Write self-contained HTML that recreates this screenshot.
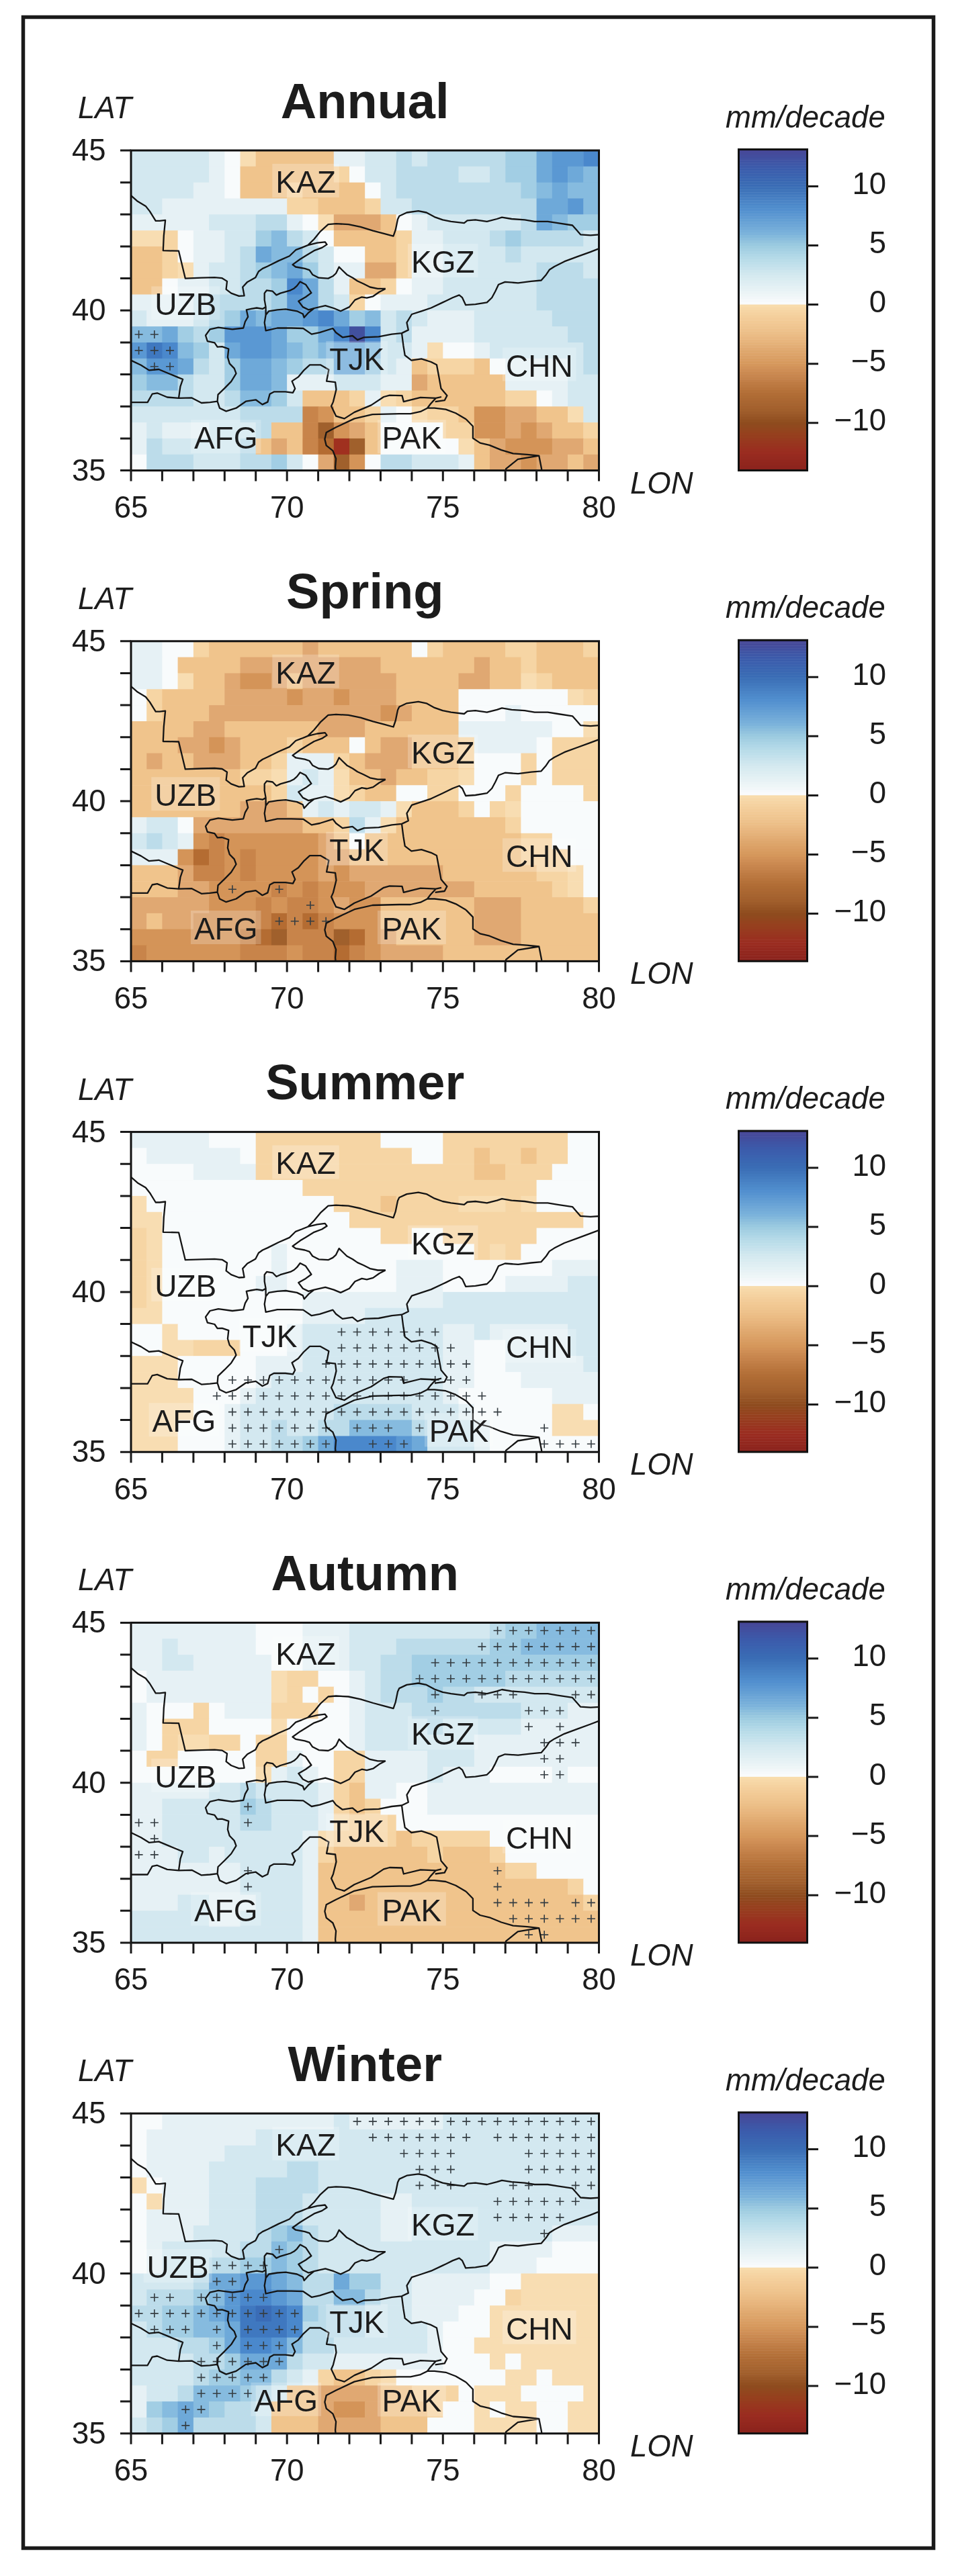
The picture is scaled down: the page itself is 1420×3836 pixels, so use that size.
<!DOCTYPE html><html><head><meta charset="utf-8"><style>
html,body{margin:0;padding:0;background:#fff;width:1420px;height:3836px;overflow:hidden}
svg{position:absolute;left:0;top:0;filter:blur(0.5px)}
text{font-family:"Liberation Sans",sans-serif;fill:#1c1c1c}
</style></head><body>
<svg width="1420" height="3836" viewBox="0 0 1420 3836">
<rect x="34.5" y="25.5" width="1355" height="3769" fill="none" stroke="#1a1a1a" stroke-width="5.5"/>
<defs><clipPath id="mc"><rect x="0" y="0" width="696.5" height="476.6"/></clipPath>
<g id="bd"><path d="M0.0,67.2 L9.8,75.8 L21.8,82.9 L27.9,90.6 L36.7,104.9 L42.7,104.9 L51.1,103.9 L48.8,127.3 L47.8,149.2 L71.0,149.7 L80.8,190.6 L104.9,189.7 L124.4,189.2 L135.6,190.2 L143.0,194.9 L141.6,206.8 L149.1,212.6 L160.7,216.9 L168.6,216.4 L166.2,203.5 L173.2,195.9 L185.3,189.2 L189.9,180.2 L195.9,175.9 L203.4,172.5 L219.6,164.4 L235.9,157.3 L245.2,148.2 L254.0,144.9 L263.3,141.1 L272.6,132.0 L281.9,120.6 L293.5,110.1 L305.1,109.1 L323.6,110.1 L341.7,113.9 L360.3,119.6 L376.6,123.9 L390.5,127.7 L393.8,118.2 L397.0,102.5 L399.3,97.7 L410.5,92.5 L427.7,90.1 L439.7,92.5 L451.8,99.1 L463.9,103.4 L476.4,105.8 L495.9,108.2 L500.6,104.4 L512.6,103.4 L529.8,105.8 L544.7,102.0 L552.1,99.6 L566.5,102.0 L586.0,103.4 L600.8,105.8 L620.3,105.8 L635.2,108.2 L657.0,111.5 L661.7,116.8 L669.1,125.3 L684.0,126.3 L698.8,125.3 M263.3,141.1 L277.2,137.7 L288.8,136.3 L291.6,140.1 L284.2,144.9 L272.6,149.2 L261.0,156.3 L251.7,162.0 L240.5,170.1 L245.2,173.5 L258.6,175.9 L265.6,178.2 L270.2,184.9 L279.5,189.7 L293.5,190.6 L300.4,187.3 L305.1,183.0 L309.7,173.5 L314.4,178.2 L321.3,184.9 L330.1,189.7 L337.1,194.5 L346.4,198.7 L355.7,203.5 L367.3,205.9 L378.9,205.9 M128.6,373.7 L129.5,363.6 L139.3,354.1 L149.1,344.1 L156.5,332.2 L153.7,324.6 L146.7,317.4 L143.9,307.9 L145.3,295.5 L135.6,292.2 L128.6,292.6 L124.4,286.4 L113.8,284.1 L111.0,275.5 L117.5,266.4 L130.0,263.6 L150.9,266.4 L167.2,264.5 L169.9,255.0 L174.1,247.8 L171.8,237.3 L178.8,235.9 L187.1,234.5 L195.9,235.9 L200.6,233.1 L198.7,222.6 L198.7,212.6 L202.0,208.3 L210.8,209.7 L216.4,215.4 L222.4,212.6 L237.3,208.3 L242.8,205.4 L247.0,201.6 L251.7,195.4 L260.0,199.7 L268.4,212.1 L260.0,218.3 L249.3,224.5 L255.8,233.1 L264.2,237.3 L272.6,235.0 L289.3,231.2 L301.8,235.0 L312.0,239.3 L325.0,233.1 L333.4,222.6 L343.6,218.3 L351.0,219.7 L360.3,217.3 L369.6,210.7 L378.9,205.9 M200.6,233.1 L200.6,245.0 L205.2,239.3 L217.8,237.3 L230.3,236.4 L247.0,239.3 L255.8,243.5 L257.7,248.8 L264.2,241.6 L272.6,235.0 M200.6,245.0 L198.7,256.4 L200.6,268.3 L217.8,264.5 L238.7,264.5 L256.3,265.0 L268.8,273.6 L280.9,271.2 L300.4,265.0 L305.1,271.2 L314.8,278.3 L329.7,276.0 L337.1,282.1 L346.9,278.3 L368.7,277.4 L388.2,273.6 L403.0,272.1 L412.8,267.4 L410.5,256.4 L417.9,244.0 L432.3,239.3 L446.7,234.5 L463.9,226.4 L469.0,224.0 L478.7,219.2 L488.5,215.4 L493.1,219.2 L498.2,230.2 L512.6,229.2 L529.8,226.4 L537.2,219.2 L542.3,209.7 L547.0,199.7 L556.7,195.9 L576.2,197.3 L595.7,194.9 L610.6,193.5 L618.0,184.9 L622.7,177.8 L630.1,173.0 L645.0,165.4 L664.5,158.2 L684.0,151.1 L698.8,145.4 M403.0,272.1 L405.4,290.7 L407.7,305.0 L417.4,312.6 L432.3,310.3 L446.7,315.0 L455.0,319.3 L458.3,337.0 L461.5,354.6 L470.4,365.1 L466.7,372.2 L452.7,374.1 M-4.6,375.1 L24.6,375.1 L31.6,362.7 L39.0,361.3 L53.9,367.5 L71.0,368.9 L90.5,368.4 L104.9,376.0 L117.5,375.1 L128.6,373.7 L131.9,383.7 L141.6,388.4 L156.5,383.7 L170.9,373.7 L185.7,371.3 L195.5,378.4 L203.4,374.6 L206.6,362.7 L212.7,359.4 L229.8,359.4 L241.0,360.8 L244.2,354.6 L239.6,343.6 L248.9,337.4 L256.8,327.9 L266.1,319.3 L281.9,319.3 L294.4,326.5 L291.1,343.6 L304.1,345.1 L305.5,356.0 L300.9,374.6 L298.1,380.8 L305.1,395.6 L317.6,399.4 L332.5,389.9 L357.5,379.4 L376.1,367.0 L384.9,364.6 L403.5,365.1 L405.8,374.1 L430.9,367.9 L453.7,368.9 L462.0,367.0 M-4.6,310.7 L0.0,312.6 L14.9,319.8 L26.9,327.4 L41.3,326.0 L56.2,332.2 L71.0,338.4 L77.1,340.8 L73.4,351.7 L71.0,368.9 M305.1,481.4 L304.1,471.4 L305.1,459.0 L300.4,447.1 L290.7,439.4 L288.4,429.9 L290.7,419.9 L305.1,412.3 L332.5,399.4 L359.4,393.2 L399.3,392.2 L416.0,392.2 L430.9,388.9 L441.1,383.7 L451.8,383.7 L468.5,385.6 L483.4,391.3 L498.7,400.3 M453.7,368.9 L445.8,377.5 L441.1,383.7 M498.7,400.3 L508.9,410.8 L508.9,428.5 L519.6,435.6 L533.5,438.9 L551.2,446.1 L568.8,451.3 L589.7,452.8 L607.3,454.7 L611.1,474.2 L611.5,481.4 M557.2,479.0 L558.1,474.2 L575.8,459.9 L607.3,454.7" fill="none" stroke="#141414" stroke-width="2.3" stroke-linejoin="round"/></g></defs>
<text x="543.2" y="175.5" font-size="74" font-weight="bold" text-anchor="middle">Annual</text>
<text x="116" y="176.0" font-size="45.5" font-style="italic">LAT</text>
<text x="938" y="734.5" font-size="45.5" font-style="italic">LON</text>
<text x="1080" y="189.5" font-size="45.5" font-style="italic">mm/decade</text>
<g transform="translate(195.00,224.00)" clip-path="url(#mc)">
<rect x="0.0" y="0.0" width="116.7" height="24.4" fill="#d3e8f0"/>
<rect x="116.1" y="0.0" width="23.8" height="24.4" fill="#e6f1f5"/>
<rect x="139.3" y="0.0" width="23.8" height="24.4" fill="#f8fbfc"/>
<rect x="162.5" y="0.0" width="23.8" height="24.4" fill="#f8ddb2"/>
<rect x="185.7" y="0.0" width="116.7" height="24.4" fill="#f0c48c"/>
<rect x="301.8" y="0.0" width="47.0" height="24.4" fill="#e6f1f5"/>
<rect x="348.2" y="0.0" width="47.0" height="24.4" fill="#d3e8f0"/>
<rect x="394.7" y="0.0" width="23.8" height="24.4" fill="#bcdcea"/>
<rect x="417.9" y="0.0" width="23.8" height="24.4" fill="#d3e8f0"/>
<rect x="441.1" y="0.0" width="116.7" height="24.4" fill="#bcdcea"/>
<rect x="557.2" y="0.0" width="47.0" height="24.4" fill="#a2cee4"/>
<rect x="603.6" y="0.0" width="23.8" height="24.4" fill="#6ea9d9"/>
<rect x="626.8" y="0.0" width="47.0" height="24.4" fill="#5a98d3"/>
<rect x="673.3" y="0.0" width="23.8" height="24.4" fill="#4a88cc"/>
<rect x="0.0" y="23.8" width="116.7" height="24.4" fill="#d3e8f0"/>
<rect x="116.1" y="23.8" width="23.8" height="24.4" fill="#e6f1f5"/>
<rect x="139.3" y="23.8" width="23.8" height="24.4" fill="#f8fbfc"/>
<rect x="162.5" y="23.8" width="139.9" height="24.4" fill="#f0c48c"/>
<rect x="301.8" y="23.8" width="23.8" height="24.4" fill="#f6d5a4"/>
<rect x="325.0" y="23.8" width="23.8" height="24.4" fill="#f8fbfc"/>
<rect x="348.2" y="23.8" width="47.0" height="24.4" fill="#d3e8f0"/>
<rect x="394.7" y="23.8" width="93.5" height="24.4" fill="#bcdcea"/>
<rect x="487.5" y="23.8" width="47.0" height="24.4" fill="#d3e8f0"/>
<rect x="534.0" y="23.8" width="23.8" height="24.4" fill="#bcdcea"/>
<rect x="557.2" y="23.8" width="47.0" height="24.4" fill="#a2cee4"/>
<rect x="603.6" y="23.8" width="23.8" height="24.4" fill="#6ea9d9"/>
<rect x="626.8" y="23.8" width="23.8" height="24.4" fill="#5a98d3"/>
<rect x="650.1" y="23.8" width="23.8" height="24.4" fill="#6ea9d9"/>
<rect x="673.3" y="23.8" width="23.8" height="24.4" fill="#86bbdf"/>
<rect x="0.0" y="47.7" width="93.5" height="24.4" fill="#d3e8f0"/>
<rect x="92.9" y="47.7" width="47.0" height="24.4" fill="#e6f1f5"/>
<rect x="139.3" y="47.7" width="23.8" height="24.4" fill="#f8fbfc"/>
<rect x="162.5" y="47.7" width="70.2" height="24.4" fill="#f0c48c"/>
<rect x="232.2" y="47.7" width="23.8" height="24.4" fill="#f6d5a4"/>
<rect x="255.4" y="47.7" width="93.5" height="24.4" fill="#f0c48c"/>
<rect x="348.2" y="47.7" width="23.8" height="24.4" fill="#f8fbfc"/>
<rect x="371.5" y="47.7" width="23.8" height="24.4" fill="#d3e8f0"/>
<rect x="394.7" y="47.7" width="186.3" height="24.4" fill="#bcdcea"/>
<rect x="580.4" y="47.7" width="23.8" height="24.4" fill="#a2cee4"/>
<rect x="603.6" y="47.7" width="23.8" height="24.4" fill="#86bbdf"/>
<rect x="626.8" y="47.7" width="23.8" height="24.4" fill="#6ea9d9"/>
<rect x="650.1" y="47.7" width="47.0" height="24.4" fill="#86bbdf"/>
<rect x="0.0" y="71.5" width="47.0" height="24.4" fill="#d3e8f0"/>
<rect x="46.4" y="71.5" width="186.3" height="24.4" fill="#e6f1f5"/>
<rect x="232.2" y="71.5" width="47.0" height="24.4" fill="#f6d5a4"/>
<rect x="278.6" y="71.5" width="70.2" height="24.4" fill="#f0c48c"/>
<rect x="348.2" y="71.5" width="23.8" height="24.4" fill="#f6d5a4"/>
<rect x="371.5" y="71.5" width="47.0" height="24.4" fill="#d3e8f0"/>
<rect x="417.9" y="71.5" width="186.3" height="24.4" fill="#bcdcea"/>
<rect x="603.6" y="71.5" width="47.0" height="24.4" fill="#6ea9d9"/>
<rect x="650.1" y="71.5" width="23.8" height="24.4" fill="#5a98d3"/>
<rect x="673.3" y="71.5" width="23.8" height="24.4" fill="#86bbdf"/>
<rect x="0.0" y="95.3" width="116.7" height="24.4" fill="#e6f1f5"/>
<rect x="116.1" y="95.3" width="70.2" height="24.4" fill="#d3e8f0"/>
<rect x="185.7" y="95.3" width="47.0" height="24.4" fill="#bcdcea"/>
<rect x="232.2" y="95.3" width="23.8" height="24.4" fill="#e6f1f5"/>
<rect x="255.4" y="95.3" width="23.8" height="24.4" fill="#f8fbfc"/>
<rect x="278.6" y="95.3" width="23.8" height="24.4" fill="#f8ddb2"/>
<rect x="301.8" y="95.3" width="70.2" height="24.4" fill="#e0a872"/>
<rect x="371.5" y="95.3" width="23.8" height="24.4" fill="#f0c48c"/>
<rect x="394.7" y="95.3" width="23.8" height="24.4" fill="#f8fbfc"/>
<rect x="417.9" y="95.3" width="23.8" height="24.4" fill="#e6f1f5"/>
<rect x="441.1" y="95.3" width="139.9" height="24.4" fill="#d3e8f0"/>
<rect x="580.4" y="95.3" width="23.8" height="24.4" fill="#bcdcea"/>
<rect x="603.6" y="95.3" width="23.8" height="24.4" fill="#6ea9d9"/>
<rect x="626.8" y="95.3" width="23.8" height="24.4" fill="#86bbdf"/>
<rect x="650.1" y="95.3" width="47.0" height="24.4" fill="#a2cee4"/>
<rect x="0.0" y="119.2" width="47.0" height="24.4" fill="#f8ddb2"/>
<rect x="46.4" y="119.2" width="23.8" height="24.4" fill="#f6d5a4"/>
<rect x="69.6" y="119.2" width="23.8" height="24.4" fill="#f8fbfc"/>
<rect x="92.9" y="119.2" width="47.0" height="24.4" fill="#e6f1f5"/>
<rect x="139.3" y="119.2" width="47.0" height="24.4" fill="#d3e8f0"/>
<rect x="185.7" y="119.2" width="23.8" height="24.4" fill="#a2cee4"/>
<rect x="208.9" y="119.2" width="23.8" height="24.4" fill="#86bbdf"/>
<rect x="232.2" y="119.2" width="23.8" height="24.4" fill="#bcdcea"/>
<rect x="255.4" y="119.2" width="23.8" height="24.4" fill="#d3e8f0"/>
<rect x="278.6" y="119.2" width="23.8" height="24.4" fill="#f8fbfc"/>
<rect x="301.8" y="119.2" width="93.5" height="24.4" fill="#f0c48c"/>
<rect x="394.7" y="119.2" width="23.8" height="24.4" fill="#f6d5a4"/>
<rect x="417.9" y="119.2" width="47.0" height="24.4" fill="#e6f1f5"/>
<rect x="464.3" y="119.2" width="70.2" height="24.4" fill="#d3e8f0"/>
<rect x="534.0" y="119.2" width="23.8" height="24.4" fill="#bcdcea"/>
<rect x="557.2" y="119.2" width="23.8" height="24.4" fill="#a2cee4"/>
<rect x="580.4" y="119.2" width="93.5" height="24.4" fill="#bcdcea"/>
<rect x="673.3" y="119.2" width="23.8" height="24.4" fill="#d3e8f0"/>
<rect x="0.0" y="143.0" width="47.0" height="24.4" fill="#f0c48c"/>
<rect x="46.4" y="143.0" width="23.8" height="24.4" fill="#f6d5a4"/>
<rect x="69.6" y="143.0" width="23.8" height="24.4" fill="#f8fbfc"/>
<rect x="92.9" y="143.0" width="47.0" height="24.4" fill="#e6f1f5"/>
<rect x="139.3" y="143.0" width="23.8" height="24.4" fill="#d3e8f0"/>
<rect x="162.5" y="143.0" width="23.8" height="24.4" fill="#bcdcea"/>
<rect x="185.7" y="143.0" width="23.8" height="24.4" fill="#6ea9d9"/>
<rect x="208.9" y="143.0" width="47.0" height="24.4" fill="#86bbdf"/>
<rect x="255.4" y="143.0" width="23.8" height="24.4" fill="#bcdcea"/>
<rect x="278.6" y="143.0" width="23.8" height="24.4" fill="#d3e8f0"/>
<rect x="301.8" y="143.0" width="47.0" height="24.4" fill="#f8fbfc"/>
<rect x="348.2" y="143.0" width="47.0" height="24.4" fill="#f0c48c"/>
<rect x="394.7" y="143.0" width="23.8" height="24.4" fill="#f6d5a4"/>
<rect x="417.9" y="143.0" width="47.0" height="24.4" fill="#e6f1f5"/>
<rect x="464.3" y="143.0" width="93.5" height="24.4" fill="#d3e8f0"/>
<rect x="557.2" y="143.0" width="23.8" height="24.4" fill="#bcdcea"/>
<rect x="580.4" y="143.0" width="116.7" height="24.4" fill="#d3e8f0"/>
<rect x="0.0" y="166.8" width="47.0" height="24.4" fill="#f0c48c"/>
<rect x="46.4" y="166.8" width="23.8" height="24.4" fill="#f6d5a4"/>
<rect x="69.6" y="166.8" width="23.8" height="24.4" fill="#f8ddb2"/>
<rect x="92.9" y="166.8" width="23.8" height="24.4" fill="#e6f1f5"/>
<rect x="116.1" y="166.8" width="47.0" height="24.4" fill="#d3e8f0"/>
<rect x="162.5" y="166.8" width="23.8" height="24.4" fill="#bcdcea"/>
<rect x="185.7" y="166.8" width="23.8" height="24.4" fill="#a2cee4"/>
<rect x="208.9" y="166.8" width="23.8" height="24.4" fill="#86bbdf"/>
<rect x="232.2" y="166.8" width="23.8" height="24.4" fill="#6ea9d9"/>
<rect x="255.4" y="166.8" width="23.8" height="24.4" fill="#a2cee4"/>
<rect x="278.6" y="166.8" width="23.8" height="24.4" fill="#d3e8f0"/>
<rect x="301.8" y="166.8" width="47.0" height="24.4" fill="#e6f1f5"/>
<rect x="348.2" y="166.8" width="47.0" height="24.4" fill="#e0a872"/>
<rect x="394.7" y="166.8" width="23.8" height="24.4" fill="#f6d5a4"/>
<rect x="417.9" y="166.8" width="47.0" height="24.4" fill="#e6f1f5"/>
<rect x="464.3" y="166.8" width="139.9" height="24.4" fill="#d3e8f0"/>
<rect x="603.6" y="166.8" width="70.2" height="24.4" fill="#bcdcea"/>
<rect x="673.3" y="166.8" width="23.8" height="24.4" fill="#d3e8f0"/>
<rect x="0.0" y="190.6" width="47.0" height="24.4" fill="#f0c48c"/>
<rect x="46.4" y="190.6" width="23.8" height="24.4" fill="#f8fbfc"/>
<rect x="69.6" y="190.6" width="47.0" height="24.4" fill="#e6f1f5"/>
<rect x="116.1" y="190.6" width="47.0" height="24.4" fill="#d3e8f0"/>
<rect x="162.5" y="190.6" width="47.0" height="24.4" fill="#bcdcea"/>
<rect x="208.9" y="190.6" width="23.8" height="24.4" fill="#a2cee4"/>
<rect x="232.2" y="190.6" width="23.8" height="24.4" fill="#4a88cc"/>
<rect x="255.4" y="190.6" width="23.8" height="24.4" fill="#6ea9d9"/>
<rect x="278.6" y="190.6" width="23.8" height="24.4" fill="#bcdcea"/>
<rect x="301.8" y="190.6" width="23.8" height="24.4" fill="#e6f1f5"/>
<rect x="325.0" y="190.6" width="47.0" height="24.4" fill="#f0c48c"/>
<rect x="371.5" y="190.6" width="23.8" height="24.4" fill="#f6d5a4"/>
<rect x="394.7" y="190.6" width="23.8" height="24.4" fill="#f8fbfc"/>
<rect x="417.9" y="190.6" width="47.0" height="24.4" fill="#e6f1f5"/>
<rect x="464.3" y="190.6" width="139.9" height="24.4" fill="#d3e8f0"/>
<rect x="603.6" y="190.6" width="93.5" height="24.4" fill="#bcdcea"/>
<rect x="0.0" y="214.5" width="93.5" height="24.4" fill="#e6f1f5"/>
<rect x="92.9" y="214.5" width="23.8" height="24.4" fill="#d3e8f0"/>
<rect x="116.1" y="214.5" width="93.5" height="24.4" fill="#bcdcea"/>
<rect x="208.9" y="214.5" width="23.8" height="24.4" fill="#a2cee4"/>
<rect x="232.2" y="214.5" width="23.8" height="24.4" fill="#5a98d3"/>
<rect x="255.4" y="214.5" width="23.8" height="24.4" fill="#6ea9d9"/>
<rect x="278.6" y="214.5" width="23.8" height="24.4" fill="#bcdcea"/>
<rect x="301.8" y="214.5" width="23.8" height="24.4" fill="#d3e8f0"/>
<rect x="325.0" y="214.5" width="23.8" height="24.4" fill="#f6d5a4"/>
<rect x="348.2" y="214.5" width="23.8" height="24.4" fill="#f8fbfc"/>
<rect x="371.5" y="214.5" width="70.2" height="24.4" fill="#e6f1f5"/>
<rect x="441.1" y="214.5" width="163.1" height="24.4" fill="#d3e8f0"/>
<rect x="603.6" y="214.5" width="93.5" height="24.4" fill="#bcdcea"/>
<rect x="0.0" y="238.3" width="23.8" height="24.4" fill="#d3e8f0"/>
<rect x="23.2" y="238.3" width="70.2" height="24.4" fill="#e6f1f5"/>
<rect x="92.9" y="238.3" width="23.8" height="24.4" fill="#d3e8f0"/>
<rect x="116.1" y="238.3" width="23.8" height="24.4" fill="#bcdcea"/>
<rect x="139.3" y="238.3" width="23.8" height="24.4" fill="#a2cee4"/>
<rect x="162.5" y="238.3" width="23.8" height="24.4" fill="#6ea9d9"/>
<rect x="185.7" y="238.3" width="23.8" height="24.4" fill="#86bbdf"/>
<rect x="208.9" y="238.3" width="47.0" height="24.4" fill="#6ea9d9"/>
<rect x="255.4" y="238.3" width="23.8" height="24.4" fill="#5a98d3"/>
<rect x="278.6" y="238.3" width="23.8" height="24.4" fill="#4a88cc"/>
<rect x="301.8" y="238.3" width="23.8" height="24.4" fill="#6ea9d9"/>
<rect x="325.0" y="238.3" width="23.8" height="24.4" fill="#a2cee4"/>
<rect x="348.2" y="238.3" width="23.8" height="24.4" fill="#86bbdf"/>
<rect x="371.5" y="238.3" width="23.8" height="24.4" fill="#d3e8f0"/>
<rect x="394.7" y="238.3" width="23.8" height="24.4" fill="#bcdcea"/>
<rect x="417.9" y="238.3" width="23.8" height="24.4" fill="#d3e8f0"/>
<rect x="441.1" y="238.3" width="70.2" height="24.4" fill="#e6f1f5"/>
<rect x="510.8" y="238.3" width="116.7" height="24.4" fill="#d3e8f0"/>
<rect x="626.8" y="238.3" width="70.2" height="24.4" fill="#bcdcea"/>
<rect x="0.0" y="262.1" width="47.0" height="24.4" fill="#86bbdf"/>
<rect x="46.4" y="262.1" width="23.8" height="24.4" fill="#6ea9d9"/>
<rect x="69.6" y="262.1" width="23.8" height="24.4" fill="#a2cee4"/>
<rect x="92.9" y="262.1" width="23.8" height="24.4" fill="#bcdcea"/>
<rect x="116.1" y="262.1" width="23.8" height="24.4" fill="#a2cee4"/>
<rect x="139.3" y="262.1" width="70.2" height="24.4" fill="#5a98d3"/>
<rect x="208.9" y="262.1" width="23.8" height="24.4" fill="#6ea9d9"/>
<rect x="232.2" y="262.1" width="47.0" height="24.4" fill="#a2cee4"/>
<rect x="278.6" y="262.1" width="23.8" height="24.4" fill="#6ea9d9"/>
<rect x="301.8" y="262.1" width="23.8" height="24.4" fill="#4a88cc"/>
<rect x="325.0" y="262.1" width="23.8" height="24.4" fill="#41509e"/>
<rect x="348.2" y="262.1" width="23.8" height="24.4" fill="#4a88cc"/>
<rect x="371.5" y="262.1" width="23.8" height="24.4" fill="#d3e8f0"/>
<rect x="394.7" y="262.1" width="23.8" height="24.4" fill="#bcdcea"/>
<rect x="417.9" y="262.1" width="93.5" height="24.4" fill="#e6f1f5"/>
<rect x="510.8" y="262.1" width="139.9" height="24.4" fill="#d3e8f0"/>
<rect x="650.1" y="262.1" width="47.0" height="24.4" fill="#bcdcea"/>
<rect x="0.0" y="286.0" width="23.8" height="24.4" fill="#5a98d3"/>
<rect x="23.2" y="286.0" width="23.8" height="24.4" fill="#3f78c0"/>
<rect x="46.4" y="286.0" width="23.8" height="24.4" fill="#4a88cc"/>
<rect x="69.6" y="286.0" width="23.8" height="24.4" fill="#86bbdf"/>
<rect x="92.9" y="286.0" width="23.8" height="24.4" fill="#a2cee4"/>
<rect x="116.1" y="286.0" width="23.8" height="24.4" fill="#d3e8f0"/>
<rect x="139.3" y="286.0" width="23.8" height="24.4" fill="#6ea9d9"/>
<rect x="162.5" y="286.0" width="47.0" height="24.4" fill="#5a98d3"/>
<rect x="208.9" y="286.0" width="23.8" height="24.4" fill="#6ea9d9"/>
<rect x="232.2" y="286.0" width="23.8" height="24.4" fill="#86bbdf"/>
<rect x="255.4" y="286.0" width="23.8" height="24.4" fill="#a2cee4"/>
<rect x="278.6" y="286.0" width="23.8" height="24.4" fill="#86bbdf"/>
<rect x="301.8" y="286.0" width="47.0" height="24.4" fill="#6ea9d9"/>
<rect x="348.2" y="286.0" width="23.8" height="24.4" fill="#86bbdf"/>
<rect x="371.5" y="286.0" width="47.0" height="24.4" fill="#d3e8f0"/>
<rect x="417.9" y="286.0" width="23.8" height="24.4" fill="#e6f1f5"/>
<rect x="441.1" y="286.0" width="23.8" height="24.4" fill="#f8ddb2"/>
<rect x="464.3" y="286.0" width="47.0" height="24.4" fill="#f8fbfc"/>
<rect x="510.8" y="286.0" width="23.8" height="24.4" fill="#e6f1f5"/>
<rect x="534.0" y="286.0" width="139.9" height="24.4" fill="#d3e8f0"/>
<rect x="673.3" y="286.0" width="23.8" height="24.4" fill="#bcdcea"/>
<rect x="0.0" y="309.8" width="23.8" height="24.4" fill="#86bbdf"/>
<rect x="23.2" y="309.8" width="47.0" height="24.4" fill="#5a98d3"/>
<rect x="69.6" y="309.8" width="23.8" height="24.4" fill="#6ea9d9"/>
<rect x="92.9" y="309.8" width="23.8" height="24.4" fill="#bcdcea"/>
<rect x="116.1" y="309.8" width="23.8" height="24.4" fill="#d3e8f0"/>
<rect x="139.3" y="309.8" width="23.8" height="24.4" fill="#a2cee4"/>
<rect x="162.5" y="309.8" width="47.0" height="24.4" fill="#6ea9d9"/>
<rect x="208.9" y="309.8" width="23.8" height="24.4" fill="#86bbdf"/>
<rect x="232.2" y="309.8" width="23.8" height="24.4" fill="#a2cee4"/>
<rect x="255.4" y="309.8" width="47.0" height="24.4" fill="#bcdcea"/>
<rect x="301.8" y="309.8" width="47.0" height="24.4" fill="#6ea9d9"/>
<rect x="348.2" y="309.8" width="23.8" height="24.4" fill="#a2cee4"/>
<rect x="371.5" y="309.8" width="23.8" height="24.4" fill="#d3e8f0"/>
<rect x="394.7" y="309.8" width="23.8" height="24.4" fill="#e6f1f5"/>
<rect x="417.9" y="309.8" width="23.8" height="24.4" fill="#f0c48c"/>
<rect x="441.1" y="309.8" width="70.2" height="24.4" fill="#f6d5a4"/>
<rect x="510.8" y="309.8" width="23.8" height="24.4" fill="#f0c48c"/>
<rect x="534.0" y="309.8" width="23.8" height="24.4" fill="#f8fbfc"/>
<rect x="557.2" y="309.8" width="93.5" height="24.4" fill="#e6f1f5"/>
<rect x="650.1" y="309.8" width="23.8" height="24.4" fill="#d3e8f0"/>
<rect x="673.3" y="309.8" width="23.8" height="24.4" fill="#bcdcea"/>
<rect x="0.0" y="333.6" width="23.8" height="24.4" fill="#a2cee4"/>
<rect x="23.2" y="333.6" width="47.0" height="24.4" fill="#86bbdf"/>
<rect x="69.6" y="333.6" width="23.8" height="24.4" fill="#bcdcea"/>
<rect x="92.9" y="333.6" width="47.0" height="24.4" fill="#d3e8f0"/>
<rect x="139.3" y="333.6" width="23.8" height="24.4" fill="#a2cee4"/>
<rect x="162.5" y="333.6" width="47.0" height="24.4" fill="#6ea9d9"/>
<rect x="208.9" y="333.6" width="23.8" height="24.4" fill="#86bbdf"/>
<rect x="232.2" y="333.6" width="70.2" height="24.4" fill="#e6f1f5"/>
<rect x="301.8" y="333.6" width="70.2" height="24.4" fill="#d3e8f0"/>
<rect x="371.5" y="333.6" width="47.0" height="24.4" fill="#e6f1f5"/>
<rect x="417.9" y="333.6" width="23.8" height="24.4" fill="#e0a872"/>
<rect x="441.1" y="333.6" width="116.7" height="24.4" fill="#f0c48c"/>
<rect x="557.2" y="333.6" width="93.5" height="24.4" fill="#e6f1f5"/>
<rect x="650.1" y="333.6" width="47.0" height="24.4" fill="#d3e8f0"/>
<rect x="0.0" y="357.5" width="93.5" height="24.4" fill="#bcdcea"/>
<rect x="92.9" y="357.5" width="47.0" height="24.4" fill="#d3e8f0"/>
<rect x="139.3" y="357.5" width="23.8" height="24.4" fill="#bcdcea"/>
<rect x="162.5" y="357.5" width="47.0" height="24.4" fill="#86bbdf"/>
<rect x="208.9" y="357.5" width="23.8" height="24.4" fill="#a2cee4"/>
<rect x="232.2" y="357.5" width="23.8" height="24.4" fill="#d3e8f0"/>
<rect x="255.4" y="357.5" width="70.2" height="24.4" fill="#f0c48c"/>
<rect x="325.0" y="357.5" width="23.8" height="24.4" fill="#f6d5a4"/>
<rect x="348.2" y="357.5" width="23.8" height="24.4" fill="#e6f1f5"/>
<rect x="371.5" y="357.5" width="23.8" height="24.4" fill="#f8ddb2"/>
<rect x="394.7" y="357.5" width="23.8" height="24.4" fill="#f6d5a4"/>
<rect x="417.9" y="357.5" width="139.9" height="24.4" fill="#f0c48c"/>
<rect x="557.2" y="357.5" width="47.0" height="24.4" fill="#f6d5a4"/>
<rect x="603.6" y="357.5" width="23.8" height="24.4" fill="#f8fbfc"/>
<rect x="626.8" y="357.5" width="23.8" height="24.4" fill="#e6f1f5"/>
<rect x="650.1" y="357.5" width="47.0" height="24.4" fill="#d3e8f0"/>
<rect x="0.0" y="381.3" width="163.1" height="24.4" fill="#d3e8f0"/>
<rect x="162.5" y="381.3" width="93.5" height="24.4" fill="#bcdcea"/>
<rect x="255.4" y="381.3" width="23.8" height="24.4" fill="#c8844a"/>
<rect x="278.6" y="381.3" width="23.8" height="24.4" fill="#d49458"/>
<rect x="301.8" y="381.3" width="47.0" height="24.4" fill="#f0c48c"/>
<rect x="348.2" y="381.3" width="23.8" height="24.4" fill="#f6d5a4"/>
<rect x="371.5" y="381.3" width="23.8" height="24.4" fill="#e6f1f5"/>
<rect x="394.7" y="381.3" width="23.8" height="24.4" fill="#f8fbfc"/>
<rect x="417.9" y="381.3" width="23.8" height="24.4" fill="#f8ddb2"/>
<rect x="441.1" y="381.3" width="47.0" height="24.4" fill="#f6d5a4"/>
<rect x="487.5" y="381.3" width="23.8" height="24.4" fill="#f0c48c"/>
<rect x="510.8" y="381.3" width="47.0" height="24.4" fill="#d49458"/>
<rect x="557.2" y="381.3" width="47.0" height="24.4" fill="#e0a872"/>
<rect x="603.6" y="381.3" width="47.0" height="24.4" fill="#f0c48c"/>
<rect x="650.1" y="381.3" width="23.8" height="24.4" fill="#f8ddb2"/>
<rect x="673.3" y="381.3" width="23.8" height="24.4" fill="#d3e8f0"/>
<rect x="0.0" y="405.1" width="23.8" height="24.4" fill="#e6f1f5"/>
<rect x="23.2" y="405.1" width="23.8" height="24.4" fill="#d3e8f0"/>
<rect x="46.4" y="405.1" width="70.2" height="24.4" fill="#e6f1f5"/>
<rect x="116.1" y="405.1" width="70.2" height="24.4" fill="#d3e8f0"/>
<rect x="185.7" y="405.1" width="23.8" height="24.4" fill="#bcdcea"/>
<rect x="208.9" y="405.1" width="47.0" height="24.4" fill="#f0c48c"/>
<rect x="255.4" y="405.1" width="23.8" height="24.4" fill="#c8844a"/>
<rect x="278.6" y="405.1" width="23.8" height="24.4" fill="#a0602c"/>
<rect x="301.8" y="405.1" width="23.8" height="24.4" fill="#d49458"/>
<rect x="325.0" y="405.1" width="23.8" height="24.4" fill="#e0a872"/>
<rect x="348.2" y="405.1" width="23.8" height="24.4" fill="#f0c48c"/>
<rect x="371.5" y="405.1" width="93.5" height="24.4" fill="#f8fbfc"/>
<rect x="464.3" y="405.1" width="47.0" height="24.4" fill="#f6d5a4"/>
<rect x="510.8" y="405.1" width="47.0" height="24.4" fill="#d49458"/>
<rect x="557.2" y="405.1" width="23.8" height="24.4" fill="#e0a872"/>
<rect x="580.4" y="405.1" width="23.8" height="24.4" fill="#d49458"/>
<rect x="603.6" y="405.1" width="23.8" height="24.4" fill="#e0a872"/>
<rect x="626.8" y="405.1" width="47.0" height="24.4" fill="#f0c48c"/>
<rect x="673.3" y="405.1" width="23.8" height="24.4" fill="#f6d5a4"/>
<rect x="0.0" y="428.9" width="23.8" height="24.4" fill="#e6f1f5"/>
<rect x="23.2" y="428.9" width="23.8" height="24.4" fill="#bcdcea"/>
<rect x="46.4" y="428.9" width="116.7" height="24.4" fill="#d3e8f0"/>
<rect x="162.5" y="428.9" width="23.8" height="24.4" fill="#bcdcea"/>
<rect x="185.7" y="428.9" width="23.8" height="24.4" fill="#f0c48c"/>
<rect x="208.9" y="428.9" width="23.8" height="24.4" fill="#e0a872"/>
<rect x="232.2" y="428.9" width="23.8" height="24.4" fill="#f0c48c"/>
<rect x="255.4" y="428.9" width="23.8" height="24.4" fill="#c8844a"/>
<rect x="278.6" y="428.9" width="23.8" height="24.4" fill="#b46c32"/>
<rect x="301.8" y="428.9" width="23.8" height="24.4" fill="#a0301f"/>
<rect x="325.0" y="428.9" width="23.8" height="24.4" fill="#a0602c"/>
<rect x="348.2" y="428.9" width="23.8" height="24.4" fill="#f0c48c"/>
<rect x="371.5" y="428.9" width="116.7" height="24.4" fill="#f8fbfc"/>
<rect x="487.5" y="428.9" width="23.8" height="24.4" fill="#f8ddb2"/>
<rect x="510.8" y="428.9" width="23.8" height="24.4" fill="#f0c48c"/>
<rect x="534.0" y="428.9" width="23.8" height="24.4" fill="#e0a872"/>
<rect x="557.2" y="428.9" width="70.2" height="24.4" fill="#d49458"/>
<rect x="626.8" y="428.9" width="47.0" height="24.4" fill="#e0a872"/>
<rect x="673.3" y="428.9" width="23.8" height="24.4" fill="#f0c48c"/>
<rect x="0.0" y="452.8" width="23.8" height="24.4" fill="#f8fbfc"/>
<rect x="23.2" y="452.8" width="70.2" height="24.4" fill="#bcdcea"/>
<rect x="92.9" y="452.8" width="70.2" height="24.4" fill="#d3e8f0"/>
<rect x="162.5" y="452.8" width="47.0" height="24.4" fill="#bcdcea"/>
<rect x="208.9" y="452.8" width="23.8" height="24.4" fill="#a2cee4"/>
<rect x="232.2" y="452.8" width="23.8" height="24.4" fill="#d3e8f0"/>
<rect x="255.4" y="452.8" width="23.8" height="24.4" fill="#f8fbfc"/>
<rect x="278.6" y="452.8" width="23.8" height="24.4" fill="#e0a872"/>
<rect x="301.8" y="452.8" width="23.8" height="24.4" fill="#a0602c"/>
<rect x="325.0" y="452.8" width="23.8" height="24.4" fill="#d49458"/>
<rect x="348.2" y="452.8" width="23.8" height="24.4" fill="#f8fbfc"/>
<rect x="371.5" y="452.8" width="47.0" height="24.4" fill="#bcdcea"/>
<rect x="417.9" y="452.8" width="70.2" height="24.4" fill="#d3e8f0"/>
<rect x="487.5" y="452.8" width="23.8" height="24.4" fill="#e6f1f5"/>
<rect x="510.8" y="452.8" width="23.8" height="24.4" fill="#f0c48c"/>
<rect x="534.0" y="452.8" width="47.0" height="24.4" fill="#e0a872"/>
<rect x="580.4" y="452.8" width="23.8" height="24.4" fill="#d49458"/>
<rect x="603.6" y="452.8" width="47.0" height="24.4" fill="#e0a872"/>
<rect x="650.1" y="452.8" width="23.8" height="24.4" fill="#f0c48c"/>
<rect x="673.3" y="452.8" width="23.8" height="24.4" fill="#e0a872"/>
<path d="M5.6 274.0h12M11.6 268.0v12" stroke="#353d42" stroke-width="1.6"/>
<path d="M28.8 274.0h12M34.8 268.0v12" stroke="#353d42" stroke-width="1.6"/>
<path d="M5.6 297.9h12M11.6 291.9v12" stroke="#353d42" stroke-width="1.6"/>
<path d="M28.8 297.9h12M34.8 291.9v12" stroke="#353d42" stroke-width="1.6"/>
<path d="M52.0 297.9h12M58.0 291.9v12" stroke="#353d42" stroke-width="1.6"/>
<path d="M28.8 321.7h12M34.8 315.7v12" stroke="#353d42" stroke-width="1.6"/>
<path d="M52.0 321.7h12M58.0 315.7v12" stroke="#353d42" stroke-width="1.6"/>
<use href="#bd"/>
<rect x="210.3" y="19.9" width="99.5" height="50" fill="#fff" fill-opacity="0.22"/>
<rect x="412.0" y="139.1" width="104.6" height="50" fill="#fff" fill-opacity="0.22"/>
<rect x="30.3" y="202.4" width="102.0" height="50" fill="#fff" fill-opacity="0.22"/>
<rect x="290.3" y="283.9" width="91.8" height="50" fill="#fff" fill-opacity="0.22"/>
<rect x="553.0" y="293.5" width="109.6" height="50" fill="#fff" fill-opacity="0.22"/>
<rect x="88.9" y="401.2" width="104.6" height="50" fill="#fff" fill-opacity="0.22"/>
<rect x="366.9" y="401.2" width="102.0" height="50" fill="#fff" fill-opacity="0.22"/>
<text x="260.0" y="62.9" font-size="46" text-anchor="middle">KAZ</text>
<text x="464.3" y="182.1" font-size="46" text-anchor="middle">KGZ</text>
<text x="81.3" y="245.4" font-size="46" text-anchor="middle">UZB</text>
<text x="336.2" y="326.9" font-size="46" text-anchor="middle">TJK</text>
<text x="607.8" y="336.5" font-size="46" text-anchor="middle">CHN</text>
<text x="141.2" y="444.2" font-size="46" text-anchor="middle">AFG</text>
<text x="417.9" y="444.2" font-size="46" text-anchor="middle">PAK</text>
</g>
<rect x="195.0" y="224.0" width="696.5" height="476.6" fill="none" stroke="#111" stroke-width="3"/>
<path d="M179.0 224.0H195.0M179.0 271.7H195.0M179.0 319.3H195.0M179.0 367.0H195.0M179.0 414.6H195.0M179.0 462.3H195.0M179.0 510.0H195.0M179.0 557.6H195.0M179.0 605.3H195.0M179.0 652.9H195.0M179.0 700.6H195.0M195.0 700.6V716.6M241.4 700.6V716.6M287.9 700.6V716.6M334.3 700.6V716.6M380.7 700.6V716.6M427.2 700.6V716.6M473.6 700.6V716.6M520.0 700.6V716.6M566.5 700.6V716.6M612.9 700.6V716.6M659.3 700.6V716.6M705.8 700.6V716.6M752.2 700.6V716.6M798.6 700.6V716.6M845.1 700.6V716.6M891.5 700.6V716.6" stroke="#1a1a1a" stroke-width="3"/>
<text x="157.5" y="239.0" font-size="45.5" text-anchor="end">45</text>
<text x="157.5" y="477.3" font-size="45.5" text-anchor="end">40</text>
<text x="157.5" y="715.6" font-size="45.5" text-anchor="end">35</text>
<text x="195.0" y="771.0" font-size="45.5" text-anchor="middle">65</text>
<text x="427.2" y="771.0" font-size="45.5" text-anchor="middle">70</text>
<text x="659.3" y="771.0" font-size="45.5" text-anchor="middle">75</text>
<text x="891.5" y="771.0" font-size="45.5" text-anchor="middle">80</text>
<rect x="1099" y="222.5" width="104" height="4.48" fill="#464797"/>
<rect x="1099" y="226.5" width="104" height="4.48" fill="#454a9a"/>
<rect x="1099" y="230.5" width="104" height="4.48" fill="#434d9d"/>
<rect x="1099" y="234.4" width="104" height="4.48" fill="#4150a0"/>
<rect x="1099" y="238.4" width="104" height="4.48" fill="#3f54a4"/>
<rect x="1099" y="242.4" width="104" height="4.48" fill="#3e57a7"/>
<rect x="1099" y="246.4" width="104" height="4.48" fill="#3c5aaa"/>
<rect x="1099" y="250.4" width="104" height="4.48" fill="#3b5dac"/>
<rect x="1099" y="254.4" width="104" height="4.48" fill="#3b5fae"/>
<rect x="1099" y="258.4" width="104" height="4.48" fill="#3b62af"/>
<rect x="1099" y="262.3" width="104" height="4.48" fill="#3a65b1"/>
<rect x="1099" y="266.3" width="104" height="4.48" fill="#3a67b2"/>
<rect x="1099" y="270.3" width="104" height="4.48" fill="#3a6ab3"/>
<rect x="1099" y="274.3" width="104" height="4.48" fill="#3a6cb5"/>
<rect x="1099" y="278.3" width="104" height="4.48" fill="#3c70b7"/>
<rect x="1099" y="282.2" width="104" height="4.48" fill="#3f74ba"/>
<rect x="1099" y="286.2" width="104" height="4.48" fill="#4178bd"/>
<rect x="1099" y="290.2" width="104" height="4.48" fill="#447cc0"/>
<rect x="1099" y="294.2" width="104" height="4.48" fill="#4780c3"/>
<rect x="1099" y="298.2" width="104" height="4.48" fill="#4a84c6"/>
<rect x="1099" y="302.2" width="104" height="4.48" fill="#4c88c9"/>
<rect x="1099" y="306.1" width="104" height="4.48" fill="#4f8ccc"/>
<rect x="1099" y="310.1" width="104" height="4.48" fill="#528fcf"/>
<rect x="1099" y="314.1" width="104" height="4.48" fill="#5693d0"/>
<rect x="1099" y="318.1" width="104" height="4.48" fill="#5b97d2"/>
<rect x="1099" y="322.1" width="104" height="4.48" fill="#609bd3"/>
<rect x="1099" y="326.1" width="104" height="4.48" fill="#649fd4"/>
<rect x="1099" y="330.1" width="104" height="4.48" fill="#69a3d6"/>
<rect x="1099" y="334.0" width="104" height="4.48" fill="#6ea7d7"/>
<rect x="1099" y="338.0" width="104" height="4.48" fill="#73abd8"/>
<rect x="1099" y="342.0" width="104" height="4.48" fill="#77afda"/>
<rect x="1099" y="346.0" width="104" height="4.48" fill="#7cb3db"/>
<rect x="1099" y="350.0" width="104" height="4.48" fill="#83b9dc"/>
<rect x="1099" y="353.9" width="104" height="4.48" fill="#8bbedd"/>
<rect x="1099" y="357.9" width="104" height="4.48" fill="#92c3de"/>
<rect x="1099" y="361.9" width="104" height="4.48" fill="#99c9e0"/>
<rect x="1099" y="365.9" width="104" height="4.48" fill="#9fcde1"/>
<rect x="1099" y="369.9" width="104" height="4.48" fill="#a5d0e3"/>
<rect x="1099" y="373.9" width="104" height="4.48" fill="#aad4e5"/>
<rect x="1099" y="377.9" width="104" height="4.48" fill="#b0d7e7"/>
<rect x="1099" y="381.8" width="104" height="4.48" fill="#b5dae8"/>
<rect x="1099" y="385.8" width="104" height="4.48" fill="#badde9"/>
<rect x="1099" y="389.8" width="104" height="4.48" fill="#bedfeb"/>
<rect x="1099" y="393.8" width="104" height="4.48" fill="#c3e1ec"/>
<rect x="1099" y="397.8" width="104" height="4.48" fill="#c8e3ed"/>
<rect x="1099" y="401.8" width="104" height="4.48" fill="#cde6ee"/>
<rect x="1099" y="405.7" width="104" height="4.48" fill="#d2e8ef"/>
<rect x="1099" y="409.7" width="104" height="4.48" fill="#d6eaf0"/>
<rect x="1099" y="413.7" width="104" height="4.48" fill="#d9ecf1"/>
<rect x="1099" y="417.7" width="104" height="4.48" fill="#ddedf2"/>
<rect x="1099" y="421.7" width="104" height="4.48" fill="#e0eff3"/>
<rect x="1099" y="425.6" width="104" height="4.48" fill="#e4f1f4"/>
<rect x="1099" y="429.6" width="104" height="4.48" fill="#e7f2f5"/>
<rect x="1099" y="433.6" width="104" height="4.48" fill="#ebf4f6"/>
<rect x="1099" y="437.6" width="104" height="4.48" fill="#eef6f7"/>
<rect x="1099" y="441.6" width="104" height="4.48" fill="#f2f7f9"/>
<rect x="1099" y="445.6" width="104" height="4.48" fill="#f6f9fb"/>
<rect x="1099" y="449.6" width="104" height="4.48" fill="#f9fbfc"/>
<rect x="1099" y="453.5" width="104" height="4.48" fill="#f8dcac"/>
<rect x="1099" y="457.5" width="104" height="4.48" fill="#f7d8a8"/>
<rect x="1099" y="461.5" width="104" height="4.48" fill="#f6d5a4"/>
<rect x="1099" y="465.5" width="104" height="4.48" fill="#f5d2a0"/>
<rect x="1099" y="469.5" width="104" height="4.48" fill="#f4cf9c"/>
<rect x="1099" y="473.4" width="104" height="4.48" fill="#f3cc99"/>
<rect x="1099" y="477.4" width="104" height="4.48" fill="#f2ca95"/>
<rect x="1099" y="481.4" width="104" height="4.48" fill="#f1c792"/>
<rect x="1099" y="485.4" width="104" height="4.48" fill="#efc58f"/>
<rect x="1099" y="489.4" width="104" height="4.48" fill="#eec28c"/>
<rect x="1099" y="493.4" width="104" height="4.48" fill="#ecbf88"/>
<rect x="1099" y="497.4" width="104" height="4.48" fill="#ebbc84"/>
<rect x="1099" y="501.3" width="104" height="4.48" fill="#e9b881"/>
<rect x="1099" y="505.3" width="104" height="4.48" fill="#e8b57d"/>
<rect x="1099" y="509.3" width="104" height="4.48" fill="#e5b279"/>
<rect x="1099" y="513.3" width="104" height="4.48" fill="#e3ae75"/>
<rect x="1099" y="517.3" width="104" height="4.48" fill="#e1aa71"/>
<rect x="1099" y="521.2" width="104" height="4.48" fill="#dea76d"/>
<rect x="1099" y="525.2" width="104" height="4.48" fill="#dda469"/>
<rect x="1099" y="529.2" width="104" height="4.48" fill="#dba066"/>
<rect x="1099" y="533.2" width="104" height="4.48" fill="#d99d62"/>
<rect x="1099" y="537.2" width="104" height="4.48" fill="#d79a5e"/>
<rect x="1099" y="541.2" width="104" height="4.48" fill="#d5975b"/>
<rect x="1099" y="545.1" width="104" height="4.48" fill="#d29258"/>
<rect x="1099" y="549.1" width="104" height="4.48" fill="#cf8e55"/>
<rect x="1099" y="553.1" width="104" height="4.48" fill="#cb8a51"/>
<rect x="1099" y="557.1" width="104" height="4.48" fill="#c8864e"/>
<rect x="1099" y="561.1" width="104" height="4.48" fill="#c5834b"/>
<rect x="1099" y="565.1" width="104" height="4.48" fill="#c27f47"/>
<rect x="1099" y="569.0" width="104" height="4.48" fill="#be7b43"/>
<rect x="1099" y="573.0" width="104" height="4.48" fill="#bb7840"/>
<rect x="1099" y="577.0" width="104" height="4.48" fill="#b8743c"/>
<rect x="1099" y="581.0" width="104" height="4.48" fill="#b47139"/>
<rect x="1099" y="585.0" width="104" height="4.48" fill="#b16d36"/>
<rect x="1099" y="589.0" width="104" height="4.48" fill="#ae6b34"/>
<rect x="1099" y="593.0" width="104" height="4.48" fill="#ac6833"/>
<rect x="1099" y="596.9" width="104" height="4.48" fill="#a96631"/>
<rect x="1099" y="600.9" width="104" height="4.48" fill="#a66430"/>
<rect x="1099" y="604.9" width="104" height="4.48" fill="#a4612e"/>
<rect x="1099" y="608.9" width="104" height="4.48" fill="#a15f2c"/>
<rect x="1099" y="612.9" width="104" height="4.48" fill="#9d5b2a"/>
<rect x="1099" y="616.9" width="104" height="4.48" fill="#995727"/>
<rect x="1099" y="620.8" width="104" height="4.48" fill="#955324"/>
<rect x="1099" y="624.8" width="104" height="4.48" fill="#914f20"/>
<rect x="1099" y="628.8" width="104" height="4.48" fill="#8e4b1e"/>
<rect x="1099" y="632.8" width="104" height="4.48" fill="#90491e"/>
<rect x="1099" y="636.8" width="104" height="4.48" fill="#92461e"/>
<rect x="1099" y="640.8" width="104" height="4.48" fill="#94431e"/>
<rect x="1099" y="644.7" width="104" height="4.48" fill="#96401e"/>
<rect x="1099" y="648.7" width="104" height="4.48" fill="#963e1e"/>
<rect x="1099" y="652.7" width="104" height="4.48" fill="#973a1f"/>
<rect x="1099" y="656.7" width="104" height="4.48" fill="#98371f"/>
<rect x="1099" y="660.7" width="104" height="4.48" fill="#98341f"/>
<rect x="1099" y="664.6" width="104" height="4.48" fill="#99311f"/>
<rect x="1099" y="668.6" width="104" height="4.48" fill="#9a2e20"/>
<rect x="1099" y="672.6" width="104" height="4.48" fill="#9a2c20"/>
<rect x="1099" y="676.6" width="104" height="4.48" fill="#972a1f"/>
<rect x="1099" y="680.6" width="104" height="4.48" fill="#95291f"/>
<rect x="1099" y="684.6" width="104" height="4.48" fill="#92271e"/>
<rect x="1099" y="688.5" width="104" height="4.48" fill="#90261d"/>
<rect x="1099" y="692.5" width="104" height="4.48" fill="#8d241d"/>
<rect x="1099" y="696.5" width="104" height="4.48" fill="#8b231c"/>
<rect x="1099.5" y="222.5" width="102" height="478.0" fill="none" stroke="#111" stroke-width="3"/>
<text x="1319" y="288.9" font-size="45.5" text-anchor="end">10</text>
<text x="1319" y="377.0" font-size="45.5" text-anchor="end">5</text>
<text x="1319" y="465.1" font-size="45.5" text-anchor="end">0</text>
<text x="1319" y="553.2" font-size="45.5" text-anchor="end">−5</text>
<text x="1319" y="641.3" font-size="45.5" text-anchor="end">−10</text>
<path d="M1201 277.4H1218M1201 365.5H1218M1201 453.6H1218M1201 541.7H1218M1201 629.8H1218" stroke="#1a1a1a" stroke-width="3"/>
<text x="543.2" y="906.3" font-size="74" font-weight="bold" text-anchor="middle">Spring</text>
<text x="116" y="906.8" font-size="45.5" font-style="italic">LAT</text>
<text x="938" y="1465.3" font-size="45.5" font-style="italic">LON</text>
<text x="1080" y="920.3" font-size="45.5" font-style="italic">mm/decade</text>
<g transform="translate(195.00,954.80)" clip-path="url(#mc)">
<rect x="0.0" y="0.0" width="47.0" height="24.4" fill="#e6f1f5"/>
<rect x="46.4" y="0.0" width="47.0" height="24.4" fill="#f8fbfc"/>
<rect x="92.9" y="0.0" width="23.8" height="24.4" fill="#f6d5a4"/>
<rect x="116.1" y="0.0" width="139.9" height="24.4" fill="#f0c48c"/>
<rect x="255.4" y="0.0" width="23.8" height="24.4" fill="#e0a872"/>
<rect x="278.6" y="0.0" width="139.9" height="24.4" fill="#f0c48c"/>
<rect x="417.9" y="0.0" width="23.8" height="24.4" fill="#f8fbfc"/>
<rect x="441.1" y="0.0" width="23.8" height="24.4" fill="#f6d5a4"/>
<rect x="464.3" y="0.0" width="93.5" height="24.4" fill="#f0c48c"/>
<rect x="557.2" y="0.0" width="47.0" height="24.4" fill="#f6d5a4"/>
<rect x="603.6" y="0.0" width="70.2" height="24.4" fill="#f0c48c"/>
<rect x="673.3" y="0.0" width="23.8" height="24.4" fill="#f6d5a4"/>
<rect x="0.0" y="23.8" width="47.0" height="24.4" fill="#e6f1f5"/>
<rect x="46.4" y="23.8" width="23.8" height="24.4" fill="#f8fbfc"/>
<rect x="69.6" y="23.8" width="93.5" height="24.4" fill="#f0c48c"/>
<rect x="162.5" y="23.8" width="209.5" height="24.4" fill="#e0a872"/>
<rect x="371.5" y="23.8" width="139.9" height="24.4" fill="#f0c48c"/>
<rect x="510.8" y="23.8" width="23.8" height="24.4" fill="#e0a872"/>
<rect x="534.0" y="23.8" width="47.0" height="24.4" fill="#f0c48c"/>
<rect x="580.4" y="23.8" width="23.8" height="24.4" fill="#f6d5a4"/>
<rect x="603.6" y="23.8" width="93.5" height="24.4" fill="#f0c48c"/>
<rect x="0.0" y="47.7" width="47.0" height="24.4" fill="#e6f1f5"/>
<rect x="46.4" y="47.7" width="23.8" height="24.4" fill="#f8fbfc"/>
<rect x="69.6" y="47.7" width="23.8" height="24.4" fill="#f8ddb2"/>
<rect x="92.9" y="47.7" width="47.0" height="24.4" fill="#f0c48c"/>
<rect x="139.3" y="47.7" width="23.8" height="24.4" fill="#e0a872"/>
<rect x="162.5" y="47.7" width="47.0" height="24.4" fill="#d49458"/>
<rect x="208.9" y="47.7" width="23.8" height="24.4" fill="#e0a872"/>
<rect x="232.2" y="47.7" width="23.8" height="24.4" fill="#f0c48c"/>
<rect x="255.4" y="47.7" width="139.9" height="24.4" fill="#e0a872"/>
<rect x="394.7" y="47.7" width="93.5" height="24.4" fill="#f0c48c"/>
<rect x="487.5" y="47.7" width="47.0" height="24.4" fill="#e0a872"/>
<rect x="534.0" y="47.7" width="47.0" height="24.4" fill="#f0c48c"/>
<rect x="580.4" y="47.7" width="23.8" height="24.4" fill="#f8ddb2"/>
<rect x="603.6" y="47.7" width="23.8" height="24.4" fill="#f6d5a4"/>
<rect x="626.8" y="47.7" width="70.2" height="24.4" fill="#f0c48c"/>
<rect x="0.0" y="71.5" width="23.8" height="24.4" fill="#f8fbfc"/>
<rect x="23.2" y="71.5" width="23.8" height="24.4" fill="#f6d5a4"/>
<rect x="46.4" y="71.5" width="93.5" height="24.4" fill="#f0c48c"/>
<rect x="139.3" y="71.5" width="93.5" height="24.4" fill="#e0a872"/>
<rect x="232.2" y="71.5" width="23.8" height="24.4" fill="#d49458"/>
<rect x="255.4" y="71.5" width="47.0" height="24.4" fill="#e0a872"/>
<rect x="301.8" y="71.5" width="23.8" height="24.4" fill="#d49458"/>
<rect x="325.0" y="71.5" width="70.2" height="24.4" fill="#e0a872"/>
<rect x="394.7" y="71.5" width="93.5" height="24.4" fill="#f0c48c"/>
<rect x="487.5" y="71.5" width="163.1" height="24.4" fill="#f8fbfc"/>
<rect x="650.1" y="71.5" width="23.8" height="24.4" fill="#f8ddb2"/>
<rect x="673.3" y="71.5" width="23.8" height="24.4" fill="#f6d5a4"/>
<rect x="0.0" y="95.3" width="23.8" height="24.4" fill="#f8fbfc"/>
<rect x="23.2" y="95.3" width="23.8" height="24.4" fill="#f6d5a4"/>
<rect x="46.4" y="95.3" width="70.2" height="24.4" fill="#f0c48c"/>
<rect x="116.1" y="95.3" width="256.0" height="24.4" fill="#e0a872"/>
<rect x="371.5" y="95.3" width="23.8" height="24.4" fill="#d49458"/>
<rect x="394.7" y="95.3" width="23.8" height="24.4" fill="#e0a872"/>
<rect x="417.9" y="95.3" width="70.2" height="24.4" fill="#f0c48c"/>
<rect x="487.5" y="95.3" width="70.2" height="24.4" fill="#f8fbfc"/>
<rect x="557.2" y="95.3" width="23.8" height="24.4" fill="#e6f1f5"/>
<rect x="580.4" y="95.3" width="116.7" height="24.4" fill="#f8fbfc"/>
<rect x="0.0" y="119.2" width="93.5" height="24.4" fill="#f0c48c"/>
<rect x="92.9" y="119.2" width="47.0" height="24.4" fill="#e0a872"/>
<rect x="139.3" y="119.2" width="139.9" height="24.4" fill="#f0c48c"/>
<rect x="278.6" y="119.2" width="70.2" height="24.4" fill="#e0a872"/>
<rect x="348.2" y="119.2" width="139.9" height="24.4" fill="#f0c48c"/>
<rect x="487.5" y="119.2" width="139.9" height="24.4" fill="#e6f1f5"/>
<rect x="626.8" y="119.2" width="47.0" height="24.4" fill="#f8fbfc"/>
<rect x="673.3" y="119.2" width="23.8" height="24.4" fill="#f8ddb2"/>
<rect x="0.0" y="143.0" width="70.2" height="24.4" fill="#f0c48c"/>
<rect x="69.6" y="143.0" width="47.0" height="24.4" fill="#e0a872"/>
<rect x="116.1" y="143.0" width="23.8" height="24.4" fill="#d49458"/>
<rect x="139.3" y="143.0" width="23.8" height="24.4" fill="#e0a872"/>
<rect x="162.5" y="143.0" width="70.2" height="24.4" fill="#f0c48c"/>
<rect x="232.2" y="143.0" width="23.8" height="24.4" fill="#f6d5a4"/>
<rect x="255.4" y="143.0" width="70.2" height="24.4" fill="#f0c48c"/>
<rect x="325.0" y="143.0" width="23.8" height="24.4" fill="#f8fbfc"/>
<rect x="348.2" y="143.0" width="23.8" height="24.4" fill="#f0c48c"/>
<rect x="371.5" y="143.0" width="47.0" height="24.4" fill="#e0a872"/>
<rect x="417.9" y="143.0" width="70.2" height="24.4" fill="#f0c48c"/>
<rect x="487.5" y="143.0" width="23.8" height="24.4" fill="#f6d5a4"/>
<rect x="510.8" y="143.0" width="93.5" height="24.4" fill="#e6f1f5"/>
<rect x="603.6" y="143.0" width="23.8" height="24.4" fill="#f8fbfc"/>
<rect x="626.8" y="143.0" width="70.2" height="24.4" fill="#f6d5a4"/>
<rect x="0.0" y="166.8" width="23.8" height="24.4" fill="#f0c48c"/>
<rect x="23.2" y="166.8" width="23.8" height="24.4" fill="#e0a872"/>
<rect x="46.4" y="166.8" width="47.0" height="24.4" fill="#f0c48c"/>
<rect x="92.9" y="166.8" width="70.2" height="24.4" fill="#e0a872"/>
<rect x="162.5" y="166.8" width="47.0" height="24.4" fill="#f0c48c"/>
<rect x="208.9" y="166.8" width="23.8" height="24.4" fill="#f6d5a4"/>
<rect x="232.2" y="166.8" width="70.2" height="24.4" fill="#e6f1f5"/>
<rect x="301.8" y="166.8" width="23.8" height="24.4" fill="#f6d5a4"/>
<rect x="325.0" y="166.8" width="23.8" height="24.4" fill="#f0c48c"/>
<rect x="348.2" y="166.8" width="70.2" height="24.4" fill="#e0a872"/>
<rect x="417.9" y="166.8" width="70.2" height="24.4" fill="#f0c48c"/>
<rect x="487.5" y="166.8" width="23.8" height="24.4" fill="#f6d5a4"/>
<rect x="510.8" y="166.8" width="70.2" height="24.4" fill="#f8fbfc"/>
<rect x="580.4" y="166.8" width="23.8" height="24.4" fill="#f6d5a4"/>
<rect x="603.6" y="166.8" width="23.8" height="24.4" fill="#f8fbfc"/>
<rect x="626.8" y="166.8" width="70.2" height="24.4" fill="#f6d5a4"/>
<rect x="0.0" y="190.6" width="163.1" height="24.4" fill="#f0c48c"/>
<rect x="162.5" y="190.6" width="47.0" height="24.4" fill="#f6d5a4"/>
<rect x="208.9" y="190.6" width="23.8" height="24.4" fill="#f8ddb2"/>
<rect x="232.2" y="190.6" width="23.8" height="24.4" fill="#e6f1f5"/>
<rect x="255.4" y="190.6" width="23.8" height="24.4" fill="#d3e8f0"/>
<rect x="278.6" y="190.6" width="23.8" height="24.4" fill="#e6f1f5"/>
<rect x="301.8" y="190.6" width="23.8" height="24.4" fill="#f8ddb2"/>
<rect x="325.0" y="190.6" width="47.0" height="24.4" fill="#f0c48c"/>
<rect x="371.5" y="190.6" width="23.8" height="24.4" fill="#e0a872"/>
<rect x="394.7" y="190.6" width="47.0" height="24.4" fill="#f0c48c"/>
<rect x="441.1" y="190.6" width="47.0" height="24.4" fill="#f6d5a4"/>
<rect x="487.5" y="190.6" width="23.8" height="24.4" fill="#f8ddb2"/>
<rect x="510.8" y="190.6" width="70.2" height="24.4" fill="#f8fbfc"/>
<rect x="580.4" y="190.6" width="23.8" height="24.4" fill="#f6d5a4"/>
<rect x="603.6" y="190.6" width="23.8" height="24.4" fill="#f8fbfc"/>
<rect x="626.8" y="190.6" width="70.2" height="24.4" fill="#f6d5a4"/>
<rect x="0.0" y="214.5" width="209.5" height="24.4" fill="#f0c48c"/>
<rect x="208.9" y="214.5" width="23.8" height="24.4" fill="#f6d5a4"/>
<rect x="232.2" y="214.5" width="23.8" height="24.4" fill="#d3e8f0"/>
<rect x="255.4" y="214.5" width="47.0" height="24.4" fill="#e6f1f5"/>
<rect x="301.8" y="214.5" width="23.8" height="24.4" fill="#f8ddb2"/>
<rect x="325.0" y="214.5" width="23.8" height="24.4" fill="#f6d5a4"/>
<rect x="348.2" y="214.5" width="47.0" height="24.4" fill="#f0c48c"/>
<rect x="394.7" y="214.5" width="47.0" height="24.4" fill="#f8fbfc"/>
<rect x="441.1" y="214.5" width="47.0" height="24.4" fill="#f6d5a4"/>
<rect x="487.5" y="214.5" width="70.2" height="24.4" fill="#f8fbfc"/>
<rect x="557.2" y="214.5" width="23.8" height="24.4" fill="#f6d5a4"/>
<rect x="580.4" y="214.5" width="93.5" height="24.4" fill="#f8fbfc"/>
<rect x="673.3" y="214.5" width="23.8" height="24.4" fill="#f6d5a4"/>
<rect x="0.0" y="238.3" width="163.1" height="24.4" fill="#f0c48c"/>
<rect x="162.5" y="238.3" width="70.2" height="24.4" fill="#e0a872"/>
<rect x="232.2" y="238.3" width="23.8" height="24.4" fill="#f0c48c"/>
<rect x="255.4" y="238.3" width="23.8" height="24.4" fill="#e6f1f5"/>
<rect x="278.6" y="238.3" width="23.8" height="24.4" fill="#d3e8f0"/>
<rect x="301.8" y="238.3" width="23.8" height="24.4" fill="#e6f1f5"/>
<rect x="325.0" y="238.3" width="47.0" height="24.4" fill="#d3e8f0"/>
<rect x="371.5" y="238.3" width="23.8" height="24.4" fill="#e6f1f5"/>
<rect x="394.7" y="238.3" width="23.8" height="24.4" fill="#f8ddb2"/>
<rect x="417.9" y="238.3" width="70.2" height="24.4" fill="#f0c48c"/>
<rect x="487.5" y="238.3" width="23.8" height="24.4" fill="#f6d5a4"/>
<rect x="510.8" y="238.3" width="23.8" height="24.4" fill="#f8fbfc"/>
<rect x="534.0" y="238.3" width="23.8" height="24.4" fill="#f6d5a4"/>
<rect x="557.2" y="238.3" width="23.8" height="24.4" fill="#f8ddb2"/>
<rect x="580.4" y="238.3" width="116.7" height="24.4" fill="#f8fbfc"/>
<rect x="0.0" y="262.1" width="23.8" height="24.4" fill="#e6f1f5"/>
<rect x="23.2" y="262.1" width="47.0" height="24.4" fill="#d3e8f0"/>
<rect x="69.6" y="262.1" width="23.8" height="24.4" fill="#f8fbfc"/>
<rect x="92.9" y="262.1" width="163.1" height="24.4" fill="#e0a872"/>
<rect x="255.4" y="262.1" width="47.0" height="24.4" fill="#f0c48c"/>
<rect x="301.8" y="262.1" width="23.8" height="24.4" fill="#f6d5a4"/>
<rect x="325.0" y="262.1" width="23.8" height="24.4" fill="#bcdcea"/>
<rect x="348.2" y="262.1" width="23.8" height="24.4" fill="#e6f1f5"/>
<rect x="371.5" y="262.1" width="23.8" height="24.4" fill="#f8ddb2"/>
<rect x="394.7" y="262.1" width="163.1" height="24.4" fill="#f0c48c"/>
<rect x="557.2" y="262.1" width="23.8" height="24.4" fill="#f6d5a4"/>
<rect x="580.4" y="262.1" width="116.7" height="24.4" fill="#f8fbfc"/>
<rect x="0.0" y="286.0" width="23.8" height="24.4" fill="#d3e8f0"/>
<rect x="23.2" y="286.0" width="23.8" height="24.4" fill="#bcdcea"/>
<rect x="46.4" y="286.0" width="23.8" height="24.4" fill="#d3e8f0"/>
<rect x="69.6" y="286.0" width="23.8" height="24.4" fill="#e6f1f5"/>
<rect x="92.9" y="286.0" width="23.8" height="24.4" fill="#d49458"/>
<rect x="116.1" y="286.0" width="23.8" height="24.4" fill="#c8844a"/>
<rect x="139.3" y="286.0" width="139.9" height="24.4" fill="#d49458"/>
<rect x="278.6" y="286.0" width="23.8" height="24.4" fill="#e0a872"/>
<rect x="301.8" y="286.0" width="23.8" height="24.4" fill="#f0c48c"/>
<rect x="325.0" y="286.0" width="23.8" height="24.4" fill="#f8fbfc"/>
<rect x="348.2" y="286.0" width="232.8" height="24.4" fill="#f0c48c"/>
<rect x="580.4" y="286.0" width="47.0" height="24.4" fill="#f6d5a4"/>
<rect x="626.8" y="286.0" width="70.2" height="24.4" fill="#f8fbfc"/>
<rect x="0.0" y="309.8" width="70.2" height="24.4" fill="#e6f1f5"/>
<rect x="69.6" y="309.8" width="23.8" height="24.4" fill="#d49458"/>
<rect x="92.9" y="309.8" width="23.8" height="24.4" fill="#b46c32"/>
<rect x="116.1" y="309.8" width="23.8" height="24.4" fill="#c8844a"/>
<rect x="139.3" y="309.8" width="23.8" height="24.4" fill="#d49458"/>
<rect x="162.5" y="309.8" width="23.8" height="24.4" fill="#c8844a"/>
<rect x="185.7" y="309.8" width="93.5" height="24.4" fill="#d49458"/>
<rect x="278.6" y="309.8" width="47.0" height="24.4" fill="#e0a872"/>
<rect x="325.0" y="309.8" width="256.0" height="24.4" fill="#f0c48c"/>
<rect x="580.4" y="309.8" width="70.2" height="24.4" fill="#f6d5a4"/>
<rect x="650.1" y="309.8" width="47.0" height="24.4" fill="#f8fbfc"/>
<rect x="0.0" y="333.6" width="70.2" height="24.4" fill="#f0c48c"/>
<rect x="69.6" y="333.6" width="23.8" height="24.4" fill="#e0a872"/>
<rect x="92.9" y="333.6" width="47.0" height="24.4" fill="#c8844a"/>
<rect x="139.3" y="333.6" width="23.8" height="24.4" fill="#d49458"/>
<rect x="162.5" y="333.6" width="23.8" height="24.4" fill="#c8844a"/>
<rect x="185.7" y="333.6" width="93.5" height="24.4" fill="#d49458"/>
<rect x="278.6" y="333.6" width="23.8" height="24.4" fill="#e0a872"/>
<rect x="301.8" y="333.6" width="23.8" height="24.4" fill="#d49458"/>
<rect x="325.0" y="333.6" width="139.9" height="24.4" fill="#e0a872"/>
<rect x="464.3" y="333.6" width="139.9" height="24.4" fill="#f0c48c"/>
<rect x="603.6" y="333.6" width="47.0" height="24.4" fill="#f6d5a4"/>
<rect x="650.1" y="333.6" width="23.8" height="24.4" fill="#f8ddb2"/>
<rect x="673.3" y="333.6" width="23.8" height="24.4" fill="#f8fbfc"/>
<rect x="0.0" y="357.5" width="70.2" height="24.4" fill="#f0c48c"/>
<rect x="69.6" y="357.5" width="47.0" height="24.4" fill="#e0a872"/>
<rect x="116.1" y="357.5" width="93.5" height="24.4" fill="#d49458"/>
<rect x="208.9" y="357.5" width="23.8" height="24.4" fill="#c8844a"/>
<rect x="232.2" y="357.5" width="23.8" height="24.4" fill="#d49458"/>
<rect x="255.4" y="357.5" width="23.8" height="24.4" fill="#c8844a"/>
<rect x="278.6" y="357.5" width="70.2" height="24.4" fill="#d49458"/>
<rect x="348.2" y="357.5" width="163.1" height="24.4" fill="#e0a872"/>
<rect x="510.8" y="357.5" width="116.7" height="24.4" fill="#f0c48c"/>
<rect x="626.8" y="357.5" width="23.8" height="24.4" fill="#f6d5a4"/>
<rect x="650.1" y="357.5" width="23.8" height="24.4" fill="#f8ddb2"/>
<rect x="673.3" y="357.5" width="23.8" height="24.4" fill="#f8fbfc"/>
<rect x="0.0" y="381.3" width="116.7" height="24.4" fill="#e0a872"/>
<rect x="116.1" y="381.3" width="70.2" height="24.4" fill="#d49458"/>
<rect x="185.7" y="381.3" width="23.8" height="24.4" fill="#c8844a"/>
<rect x="208.9" y="381.3" width="23.8" height="24.4" fill="#d49458"/>
<rect x="232.2" y="381.3" width="47.0" height="24.4" fill="#c8844a"/>
<rect x="278.6" y="381.3" width="23.8" height="24.4" fill="#d49458"/>
<rect x="301.8" y="381.3" width="23.8" height="24.4" fill="#e0a872"/>
<rect x="325.0" y="381.3" width="47.0" height="24.4" fill="#d49458"/>
<rect x="371.5" y="381.3" width="139.9" height="24.4" fill="#f0c48c"/>
<rect x="510.8" y="381.3" width="70.2" height="24.4" fill="#e0a872"/>
<rect x="580.4" y="381.3" width="93.5" height="24.4" fill="#f0c48c"/>
<rect x="673.3" y="381.3" width="23.8" height="24.4" fill="#f6d5a4"/>
<rect x="0.0" y="405.1" width="23.8" height="24.4" fill="#e0a872"/>
<rect x="23.2" y="405.1" width="23.8" height="24.4" fill="#f0c48c"/>
<rect x="46.4" y="405.1" width="47.0" height="24.4" fill="#e0a872"/>
<rect x="92.9" y="405.1" width="93.5" height="24.4" fill="#d49458"/>
<rect x="185.7" y="405.1" width="23.8" height="24.4" fill="#c8844a"/>
<rect x="208.9" y="405.1" width="23.8" height="24.4" fill="#b46c32"/>
<rect x="232.2" y="405.1" width="23.8" height="24.4" fill="#c8844a"/>
<rect x="255.4" y="405.1" width="23.8" height="24.4" fill="#b46c32"/>
<rect x="278.6" y="405.1" width="23.8" height="24.4" fill="#c8844a"/>
<rect x="301.8" y="405.1" width="70.2" height="24.4" fill="#d49458"/>
<rect x="371.5" y="405.1" width="139.9" height="24.4" fill="#f0c48c"/>
<rect x="510.8" y="405.1" width="70.2" height="24.4" fill="#e0a872"/>
<rect x="580.4" y="405.1" width="116.7" height="24.4" fill="#f0c48c"/>
<rect x="0.0" y="428.9" width="163.1" height="24.4" fill="#d49458"/>
<rect x="162.5" y="428.9" width="23.8" height="24.4" fill="#c8844a"/>
<rect x="185.7" y="428.9" width="23.8" height="24.4" fill="#b46c32"/>
<rect x="208.9" y="428.9" width="23.8" height="24.4" fill="#a0602c"/>
<rect x="232.2" y="428.9" width="70.2" height="24.4" fill="#c8844a"/>
<rect x="301.8" y="428.9" width="23.8" height="24.4" fill="#a0602c"/>
<rect x="325.0" y="428.9" width="23.8" height="24.4" fill="#b46c32"/>
<rect x="348.2" y="428.9" width="23.8" height="24.4" fill="#d49458"/>
<rect x="371.5" y="428.9" width="23.8" height="24.4" fill="#e0a872"/>
<rect x="394.7" y="428.9" width="116.7" height="24.4" fill="#f0c48c"/>
<rect x="510.8" y="428.9" width="70.2" height="24.4" fill="#e0a872"/>
<rect x="580.4" y="428.9" width="116.7" height="24.4" fill="#f0c48c"/>
<rect x="0.0" y="452.8" width="23.8" height="24.4" fill="#c8844a"/>
<rect x="23.2" y="452.8" width="139.9" height="24.4" fill="#d49458"/>
<rect x="162.5" y="452.8" width="70.2" height="24.4" fill="#c8844a"/>
<rect x="232.2" y="452.8" width="23.8" height="24.4" fill="#d49458"/>
<rect x="255.4" y="452.8" width="47.0" height="24.4" fill="#c8844a"/>
<rect x="301.8" y="452.8" width="23.8" height="24.4" fill="#b46c32"/>
<rect x="325.0" y="452.8" width="23.8" height="24.4" fill="#c8844a"/>
<rect x="348.2" y="452.8" width="23.8" height="24.4" fill="#d49458"/>
<rect x="371.5" y="452.8" width="93.5" height="24.4" fill="#e0a872"/>
<rect x="464.3" y="452.8" width="232.8" height="24.4" fill="#f0c48c"/>
<path d="M144.9 369.4h12M150.9 363.4v12" stroke="#353d42" stroke-width="1.6"/>
<path d="M214.6 369.4h12M220.6 363.4v12" stroke="#353d42" stroke-width="1.6"/>
<path d="M214.6 417.0h12M220.6 411.0v12" stroke="#353d42" stroke-width="1.6"/>
<path d="M261.0 393.2h12M267.0 387.2v12" stroke="#353d42" stroke-width="1.6"/>
<path d="M237.8 417.0h12M243.8 411.0v12" stroke="#353d42" stroke-width="1.6"/>
<path d="M261.0 417.0h12M267.0 411.0v12" stroke="#353d42" stroke-width="1.6"/>
<path d="M284.2 417.0h12M290.2 411.0v12" stroke="#353d42" stroke-width="1.6"/>
<use href="#bd"/>
<rect x="210.3" y="19.9" width="99.5" height="50" fill="#fff" fill-opacity="0.22"/>
<rect x="412.0" y="139.1" width="104.6" height="50" fill="#fff" fill-opacity="0.22"/>
<rect x="30.3" y="202.4" width="102.0" height="50" fill="#fff" fill-opacity="0.22"/>
<rect x="290.3" y="283.9" width="91.8" height="50" fill="#fff" fill-opacity="0.22"/>
<rect x="553.0" y="293.5" width="109.6" height="50" fill="#fff" fill-opacity="0.22"/>
<rect x="88.9" y="401.2" width="104.6" height="50" fill="#fff" fill-opacity="0.22"/>
<rect x="366.9" y="401.2" width="102.0" height="50" fill="#fff" fill-opacity="0.22"/>
<text x="260.0" y="62.9" font-size="46" text-anchor="middle">KAZ</text>
<text x="464.3" y="182.1" font-size="46" text-anchor="middle">KGZ</text>
<text x="81.3" y="245.4" font-size="46" text-anchor="middle">UZB</text>
<text x="336.2" y="326.9" font-size="46" text-anchor="middle">TJK</text>
<text x="607.8" y="336.5" font-size="46" text-anchor="middle">CHN</text>
<text x="141.2" y="444.2" font-size="46" text-anchor="middle">AFG</text>
<text x="417.9" y="444.2" font-size="46" text-anchor="middle">PAK</text>
</g>
<rect x="195.0" y="954.8" width="696.5" height="476.6" fill="none" stroke="#111" stroke-width="3"/>
<path d="M179.0 954.8H195.0M179.0 1002.5H195.0M179.0 1050.1H195.0M179.0 1097.8H195.0M179.0 1145.4H195.0M179.0 1193.1H195.0M179.0 1240.8H195.0M179.0 1288.4H195.0M179.0 1336.1H195.0M179.0 1383.7H195.0M179.0 1431.4H195.0M195.0 1431.4V1447.4M241.4 1431.4V1447.4M287.9 1431.4V1447.4M334.3 1431.4V1447.4M380.7 1431.4V1447.4M427.2 1431.4V1447.4M473.6 1431.4V1447.4M520.0 1431.4V1447.4M566.5 1431.4V1447.4M612.9 1431.4V1447.4M659.3 1431.4V1447.4M705.8 1431.4V1447.4M752.2 1431.4V1447.4M798.6 1431.4V1447.4M845.1 1431.4V1447.4M891.5 1431.4V1447.4" stroke="#1a1a1a" stroke-width="3"/>
<text x="157.5" y="969.8" font-size="45.5" text-anchor="end">45</text>
<text x="157.5" y="1208.1" font-size="45.5" text-anchor="end">40</text>
<text x="157.5" y="1446.4" font-size="45.5" text-anchor="end">35</text>
<text x="195.0" y="1501.8" font-size="45.5" text-anchor="middle">65</text>
<text x="427.2" y="1501.8" font-size="45.5" text-anchor="middle">70</text>
<text x="659.3" y="1501.8" font-size="45.5" text-anchor="middle">75</text>
<text x="891.5" y="1501.8" font-size="45.5" text-anchor="middle">80</text>
<rect x="1099" y="953.3" width="104" height="4.48" fill="#464797"/>
<rect x="1099" y="957.3" width="104" height="4.48" fill="#454a9a"/>
<rect x="1099" y="961.3" width="104" height="4.48" fill="#434d9d"/>
<rect x="1099" y="965.2" width="104" height="4.48" fill="#4150a0"/>
<rect x="1099" y="969.2" width="104" height="4.48" fill="#3f54a4"/>
<rect x="1099" y="973.2" width="104" height="4.48" fill="#3e57a7"/>
<rect x="1099" y="977.2" width="104" height="4.48" fill="#3c5aaa"/>
<rect x="1099" y="981.2" width="104" height="4.48" fill="#3b5dac"/>
<rect x="1099" y="985.2" width="104" height="4.48" fill="#3b5fae"/>
<rect x="1099" y="989.1" width="104" height="4.48" fill="#3b62af"/>
<rect x="1099" y="993.1" width="104" height="4.48" fill="#3a65b1"/>
<rect x="1099" y="997.1" width="104" height="4.48" fill="#3a67b2"/>
<rect x="1099" y="1001.1" width="104" height="4.48" fill="#3a6ab3"/>
<rect x="1099" y="1005.1" width="104" height="4.48" fill="#3a6cb5"/>
<rect x="1099" y="1009.1" width="104" height="4.48" fill="#3c70b7"/>
<rect x="1099" y="1013.0" width="104" height="4.48" fill="#3f74ba"/>
<rect x="1099" y="1017.0" width="104" height="4.48" fill="#4178bd"/>
<rect x="1099" y="1021.0" width="104" height="4.48" fill="#447cc0"/>
<rect x="1099" y="1025.0" width="104" height="4.48" fill="#4780c3"/>
<rect x="1099" y="1029.0" width="104" height="4.48" fill="#4a84c6"/>
<rect x="1099" y="1033.0" width="104" height="4.48" fill="#4c88c9"/>
<rect x="1099" y="1037.0" width="104" height="4.48" fill="#4f8ccc"/>
<rect x="1099" y="1040.9" width="104" height="4.48" fill="#528fcf"/>
<rect x="1099" y="1044.9" width="104" height="4.48" fill="#5693d0"/>
<rect x="1099" y="1048.9" width="104" height="4.48" fill="#5b97d2"/>
<rect x="1099" y="1052.9" width="104" height="4.48" fill="#609bd3"/>
<rect x="1099" y="1056.9" width="104" height="4.48" fill="#649fd4"/>
<rect x="1099" y="1060.8" width="104" height="4.48" fill="#69a3d6"/>
<rect x="1099" y="1064.8" width="104" height="4.48" fill="#6ea7d7"/>
<rect x="1099" y="1068.8" width="104" height="4.48" fill="#73abd8"/>
<rect x="1099" y="1072.8" width="104" height="4.48" fill="#77afda"/>
<rect x="1099" y="1076.8" width="104" height="4.48" fill="#7cb3db"/>
<rect x="1099" y="1080.8" width="104" height="4.48" fill="#83b9dc"/>
<rect x="1099" y="1084.8" width="104" height="4.48" fill="#8bbedd"/>
<rect x="1099" y="1088.7" width="104" height="4.48" fill="#92c3de"/>
<rect x="1099" y="1092.7" width="104" height="4.48" fill="#99c9e0"/>
<rect x="1099" y="1096.7" width="104" height="4.48" fill="#9fcde1"/>
<rect x="1099" y="1100.7" width="104" height="4.48" fill="#a5d0e3"/>
<rect x="1099" y="1104.7" width="104" height="4.48" fill="#aad4e5"/>
<rect x="1099" y="1108.6" width="104" height="4.48" fill="#b0d7e7"/>
<rect x="1099" y="1112.6" width="104" height="4.48" fill="#b5dae8"/>
<rect x="1099" y="1116.6" width="104" height="4.48" fill="#badde9"/>
<rect x="1099" y="1120.6" width="104" height="4.48" fill="#bedfeb"/>
<rect x="1099" y="1124.6" width="104" height="4.48" fill="#c3e1ec"/>
<rect x="1099" y="1128.6" width="104" height="4.48" fill="#c8e3ed"/>
<rect x="1099" y="1132.5" width="104" height="4.48" fill="#cde6ee"/>
<rect x="1099" y="1136.5" width="104" height="4.48" fill="#d2e8ef"/>
<rect x="1099" y="1140.5" width="104" height="4.48" fill="#d6eaf0"/>
<rect x="1099" y="1144.5" width="104" height="4.48" fill="#d9ecf1"/>
<rect x="1099" y="1148.5" width="104" height="4.48" fill="#ddedf2"/>
<rect x="1099" y="1152.5" width="104" height="4.48" fill="#e0eff3"/>
<rect x="1099" y="1156.5" width="104" height="4.48" fill="#e4f1f4"/>
<rect x="1099" y="1160.4" width="104" height="4.48" fill="#e7f2f5"/>
<rect x="1099" y="1164.4" width="104" height="4.48" fill="#ebf4f6"/>
<rect x="1099" y="1168.4" width="104" height="4.48" fill="#eef6f7"/>
<rect x="1099" y="1172.4" width="104" height="4.48" fill="#f2f7f9"/>
<rect x="1099" y="1176.4" width="104" height="4.48" fill="#f6f9fb"/>
<rect x="1099" y="1180.3" width="104" height="4.48" fill="#f9fbfc"/>
<rect x="1099" y="1184.3" width="104" height="4.48" fill="#f8dcac"/>
<rect x="1099" y="1188.3" width="104" height="4.48" fill="#f7d8a8"/>
<rect x="1099" y="1192.3" width="104" height="4.48" fill="#f6d5a4"/>
<rect x="1099" y="1196.3" width="104" height="4.48" fill="#f5d2a0"/>
<rect x="1099" y="1200.3" width="104" height="4.48" fill="#f4cf9c"/>
<rect x="1099" y="1204.2" width="104" height="4.48" fill="#f3cc99"/>
<rect x="1099" y="1208.2" width="104" height="4.48" fill="#f2ca95"/>
<rect x="1099" y="1212.2" width="104" height="4.48" fill="#f1c792"/>
<rect x="1099" y="1216.2" width="104" height="4.48" fill="#efc58f"/>
<rect x="1099" y="1220.2" width="104" height="4.48" fill="#eec28c"/>
<rect x="1099" y="1224.2" width="104" height="4.48" fill="#ecbf88"/>
<rect x="1099" y="1228.2" width="104" height="4.48" fill="#ebbc84"/>
<rect x="1099" y="1232.1" width="104" height="4.48" fill="#e9b881"/>
<rect x="1099" y="1236.1" width="104" height="4.48" fill="#e8b57d"/>
<rect x="1099" y="1240.1" width="104" height="4.48" fill="#e5b279"/>
<rect x="1099" y="1244.1" width="104" height="4.48" fill="#e3ae75"/>
<rect x="1099" y="1248.1" width="104" height="4.48" fill="#e1aa71"/>
<rect x="1099" y="1252.0" width="104" height="4.48" fill="#dea76d"/>
<rect x="1099" y="1256.0" width="104" height="4.48" fill="#dda469"/>
<rect x="1099" y="1260.0" width="104" height="4.48" fill="#dba066"/>
<rect x="1099" y="1264.0" width="104" height="4.48" fill="#d99d62"/>
<rect x="1099" y="1268.0" width="104" height="4.48" fill="#d79a5e"/>
<rect x="1099" y="1272.0" width="104" height="4.48" fill="#d5975b"/>
<rect x="1099" y="1275.9" width="104" height="4.48" fill="#d29258"/>
<rect x="1099" y="1279.9" width="104" height="4.48" fill="#cf8e55"/>
<rect x="1099" y="1283.9" width="104" height="4.48" fill="#cb8a51"/>
<rect x="1099" y="1287.9" width="104" height="4.48" fill="#c8864e"/>
<rect x="1099" y="1291.9" width="104" height="4.48" fill="#c5834b"/>
<rect x="1099" y="1295.9" width="104" height="4.48" fill="#c27f47"/>
<rect x="1099" y="1299.8" width="104" height="4.48" fill="#be7b43"/>
<rect x="1099" y="1303.8" width="104" height="4.48" fill="#bb7840"/>
<rect x="1099" y="1307.8" width="104" height="4.48" fill="#b8743c"/>
<rect x="1099" y="1311.8" width="104" height="4.48" fill="#b47139"/>
<rect x="1099" y="1315.8" width="104" height="4.48" fill="#b16d36"/>
<rect x="1099" y="1319.8" width="104" height="4.48" fill="#ae6b34"/>
<rect x="1099" y="1323.8" width="104" height="4.48" fill="#ac6833"/>
<rect x="1099" y="1327.7" width="104" height="4.48" fill="#a96631"/>
<rect x="1099" y="1331.7" width="104" height="4.48" fill="#a66430"/>
<rect x="1099" y="1335.7" width="104" height="4.48" fill="#a4612e"/>
<rect x="1099" y="1339.7" width="104" height="4.48" fill="#a15f2c"/>
<rect x="1099" y="1343.7" width="104" height="4.48" fill="#9d5b2a"/>
<rect x="1099" y="1347.7" width="104" height="4.48" fill="#995727"/>
<rect x="1099" y="1351.6" width="104" height="4.48" fill="#955324"/>
<rect x="1099" y="1355.6" width="104" height="4.48" fill="#914f20"/>
<rect x="1099" y="1359.6" width="104" height="4.48" fill="#8e4b1e"/>
<rect x="1099" y="1363.6" width="104" height="4.48" fill="#90491e"/>
<rect x="1099" y="1367.6" width="104" height="4.48" fill="#92461e"/>
<rect x="1099" y="1371.5" width="104" height="4.48" fill="#94431e"/>
<rect x="1099" y="1375.5" width="104" height="4.48" fill="#96401e"/>
<rect x="1099" y="1379.5" width="104" height="4.48" fill="#963e1e"/>
<rect x="1099" y="1383.5" width="104" height="4.48" fill="#973a1f"/>
<rect x="1099" y="1387.5" width="104" height="4.48" fill="#98371f"/>
<rect x="1099" y="1391.5" width="104" height="4.48" fill="#98341f"/>
<rect x="1099" y="1395.4" width="104" height="4.48" fill="#99311f"/>
<rect x="1099" y="1399.4" width="104" height="4.48" fill="#9a2e20"/>
<rect x="1099" y="1403.4" width="104" height="4.48" fill="#9a2c20"/>
<rect x="1099" y="1407.4" width="104" height="4.48" fill="#972a1f"/>
<rect x="1099" y="1411.4" width="104" height="4.48" fill="#95291f"/>
<rect x="1099" y="1415.4" width="104" height="4.48" fill="#92271e"/>
<rect x="1099" y="1419.3" width="104" height="4.48" fill="#90261d"/>
<rect x="1099" y="1423.3" width="104" height="4.48" fill="#8d241d"/>
<rect x="1099" y="1427.3" width="104" height="4.48" fill="#8b231c"/>
<rect x="1099.5" y="953.3" width="102" height="478.0" fill="none" stroke="#111" stroke-width="3"/>
<text x="1319" y="1019.7" font-size="45.5" text-anchor="end">10</text>
<text x="1319" y="1107.8" font-size="45.5" text-anchor="end">5</text>
<text x="1319" y="1195.9" font-size="45.5" text-anchor="end">0</text>
<text x="1319" y="1284.0" font-size="45.5" text-anchor="end">−5</text>
<text x="1319" y="1372.1" font-size="45.5" text-anchor="end">−10</text>
<path d="M1201 1008.2H1218M1201 1096.3H1218M1201 1184.4H1218M1201 1272.5H1218M1201 1360.6H1218" stroke="#1a1a1a" stroke-width="3"/>
<text x="543.2" y="1637.1" font-size="74" font-weight="bold" text-anchor="middle">Summer</text>
<text x="116" y="1637.6" font-size="45.5" font-style="italic">LAT</text>
<text x="938" y="2196.1" font-size="45.5" font-style="italic">LON</text>
<text x="1080" y="1651.1" font-size="45.5" font-style="italic">mm/decade</text>
<g transform="translate(195.00,1685.60)" clip-path="url(#mc)">
<rect x="0.0" y="0.0" width="116.7" height="24.4" fill="#e6f1f5"/>
<rect x="116.1" y="0.0" width="70.2" height="24.4" fill="#f8fbfc"/>
<rect x="185.7" y="0.0" width="186.3" height="24.4" fill="#f6d5a4"/>
<rect x="371.5" y="0.0" width="93.5" height="24.4" fill="#f8fbfc"/>
<rect x="464.3" y="0.0" width="186.3" height="24.4" fill="#f6d5a4"/>
<rect x="650.1" y="0.0" width="47.0" height="24.4" fill="#f8fbfc"/>
<rect x="0.0" y="23.8" width="23.8" height="24.4" fill="#f8fbfc"/>
<rect x="23.2" y="23.8" width="139.9" height="24.4" fill="#e6f1f5"/>
<rect x="162.5" y="23.8" width="23.8" height="24.4" fill="#f8fbfc"/>
<rect x="185.7" y="23.8" width="232.8" height="24.4" fill="#f6d5a4"/>
<rect x="417.9" y="23.8" width="47.0" height="24.4" fill="#f8fbfc"/>
<rect x="464.3" y="23.8" width="47.0" height="24.4" fill="#f6d5a4"/>
<rect x="510.8" y="23.8" width="23.8" height="24.4" fill="#f0c48c"/>
<rect x="534.0" y="23.8" width="47.0" height="24.4" fill="#f6d5a4"/>
<rect x="580.4" y="23.8" width="23.8" height="24.4" fill="#f0c48c"/>
<rect x="603.6" y="23.8" width="47.0" height="24.4" fill="#f6d5a4"/>
<rect x="650.1" y="23.8" width="47.0" height="24.4" fill="#f8fbfc"/>
<rect x="0.0" y="47.7" width="93.5" height="24.4" fill="#f8fbfc"/>
<rect x="92.9" y="47.7" width="93.5" height="24.4" fill="#e6f1f5"/>
<rect x="185.7" y="47.7" width="325.6" height="24.4" fill="#f6d5a4"/>
<rect x="510.8" y="47.7" width="47.0" height="24.4" fill="#f0c48c"/>
<rect x="557.2" y="47.7" width="70.2" height="24.4" fill="#f6d5a4"/>
<rect x="626.8" y="47.7" width="70.2" height="24.4" fill="#f8fbfc"/>
<rect x="0.0" y="71.5" width="256.0" height="24.4" fill="#f8fbfc"/>
<rect x="255.4" y="71.5" width="348.9" height="24.4" fill="#f6d5a4"/>
<rect x="603.6" y="71.5" width="93.5" height="24.4" fill="#f8fbfc"/>
<rect x="0.0" y="95.3" width="23.8" height="24.4" fill="#f8ddb2"/>
<rect x="23.2" y="95.3" width="279.2" height="24.4" fill="#f8fbfc"/>
<rect x="301.8" y="95.3" width="70.2" height="24.4" fill="#f6d5a4"/>
<rect x="371.5" y="95.3" width="23.8" height="24.4" fill="#f0c48c"/>
<rect x="394.7" y="95.3" width="93.5" height="24.4" fill="#f6d5a4"/>
<rect x="487.5" y="95.3" width="70.2" height="24.4" fill="#f8ddb2"/>
<rect x="557.2" y="95.3" width="23.8" height="24.4" fill="#f6d5a4"/>
<rect x="580.4" y="95.3" width="23.8" height="24.4" fill="#f8ddb2"/>
<rect x="603.6" y="95.3" width="93.5" height="24.4" fill="#f8fbfc"/>
<rect x="0.0" y="119.2" width="47.0" height="24.4" fill="#f8ddb2"/>
<rect x="46.4" y="119.2" width="279.2" height="24.4" fill="#f8fbfc"/>
<rect x="325.0" y="119.2" width="348.9" height="24.4" fill="#f6d5a4"/>
<rect x="673.3" y="119.2" width="23.8" height="24.4" fill="#f8fbfc"/>
<rect x="0.0" y="143.0" width="23.8" height="24.4" fill="#f6d5a4"/>
<rect x="23.2" y="143.0" width="23.8" height="24.4" fill="#f8ddb2"/>
<rect x="46.4" y="143.0" width="325.6" height="24.4" fill="#f8fbfc"/>
<rect x="371.5" y="143.0" width="47.0" height="24.4" fill="#f6d5a4"/>
<rect x="417.9" y="143.0" width="47.0" height="24.4" fill="#f8fbfc"/>
<rect x="464.3" y="143.0" width="139.9" height="24.4" fill="#f6d5a4"/>
<rect x="603.6" y="143.0" width="93.5" height="24.4" fill="#f8fbfc"/>
<rect x="0.0" y="166.8" width="23.8" height="24.4" fill="#f6d5a4"/>
<rect x="23.2" y="166.8" width="23.8" height="24.4" fill="#f8ddb2"/>
<rect x="46.4" y="166.8" width="163.1" height="24.4" fill="#f8fbfc"/>
<rect x="208.9" y="166.8" width="23.8" height="24.4" fill="#e6f1f5"/>
<rect x="232.2" y="166.8" width="279.2" height="24.4" fill="#f8fbfc"/>
<rect x="510.8" y="166.8" width="23.8" height="24.4" fill="#f6d5a4"/>
<rect x="534.0" y="166.8" width="23.8" height="24.4" fill="#f8ddb2"/>
<rect x="557.2" y="166.8" width="23.8" height="24.4" fill="#f6d5a4"/>
<rect x="580.4" y="166.8" width="116.7" height="24.4" fill="#f8fbfc"/>
<rect x="0.0" y="190.6" width="23.8" height="24.4" fill="#f6d5a4"/>
<rect x="23.2" y="190.6" width="23.8" height="24.4" fill="#f8ddb2"/>
<rect x="46.4" y="190.6" width="163.1" height="24.4" fill="#f8fbfc"/>
<rect x="208.9" y="190.6" width="23.8" height="24.4" fill="#e6f1f5"/>
<rect x="232.2" y="190.6" width="163.1" height="24.4" fill="#f8fbfc"/>
<rect x="394.7" y="190.6" width="70.2" height="24.4" fill="#e6f1f5"/>
<rect x="464.3" y="190.6" width="163.1" height="24.4" fill="#f8fbfc"/>
<rect x="626.8" y="190.6" width="70.2" height="24.4" fill="#e6f1f5"/>
<rect x="0.0" y="214.5" width="23.8" height="24.4" fill="#f6d5a4"/>
<rect x="23.2" y="214.5" width="23.8" height="24.4" fill="#f8ddb2"/>
<rect x="46.4" y="214.5" width="139.9" height="24.4" fill="#f8fbfc"/>
<rect x="185.7" y="214.5" width="47.0" height="24.4" fill="#e6f1f5"/>
<rect x="232.2" y="214.5" width="163.1" height="24.4" fill="#f8fbfc"/>
<rect x="394.7" y="214.5" width="70.2" height="24.4" fill="#e6f1f5"/>
<rect x="464.3" y="214.5" width="93.5" height="24.4" fill="#f8fbfc"/>
<rect x="557.2" y="214.5" width="93.5" height="24.4" fill="#e6f1f5"/>
<rect x="650.1" y="214.5" width="47.0" height="24.4" fill="#d3e8f0"/>
<rect x="0.0" y="238.3" width="23.8" height="24.4" fill="#f6d5a4"/>
<rect x="23.2" y="238.3" width="23.8" height="24.4" fill="#f8ddb2"/>
<rect x="46.4" y="238.3" width="209.5" height="24.4" fill="#f8fbfc"/>
<rect x="255.4" y="238.3" width="209.5" height="24.4" fill="#e6f1f5"/>
<rect x="464.3" y="238.3" width="232.8" height="24.4" fill="#d3e8f0"/>
<rect x="0.0" y="262.1" width="47.0" height="24.4" fill="#f8ddb2"/>
<rect x="46.4" y="262.1" width="209.5" height="24.4" fill="#f8fbfc"/>
<rect x="255.4" y="262.1" width="93.5" height="24.4" fill="#e6f1f5"/>
<rect x="348.2" y="262.1" width="348.9" height="24.4" fill="#d3e8f0"/>
<rect x="0.0" y="286.0" width="47.0" height="24.4" fill="#f8fbfc"/>
<rect x="46.4" y="286.0" width="23.8" height="24.4" fill="#f8ddb2"/>
<rect x="69.6" y="286.0" width="163.1" height="24.4" fill="#f8fbfc"/>
<rect x="232.2" y="286.0" width="23.8" height="24.4" fill="#e6f1f5"/>
<rect x="255.4" y="286.0" width="209.5" height="24.4" fill="#d3e8f0"/>
<rect x="464.3" y="286.0" width="47.0" height="24.4" fill="#e6f1f5"/>
<rect x="510.8" y="286.0" width="23.8" height="24.4" fill="#d3e8f0"/>
<rect x="534.0" y="286.0" width="116.7" height="24.4" fill="#e6f1f5"/>
<rect x="650.1" y="286.0" width="47.0" height="24.4" fill="#d3e8f0"/>
<rect x="0.0" y="309.8" width="47.0" height="24.4" fill="#f8fbfc"/>
<rect x="46.4" y="309.8" width="47.0" height="24.4" fill="#f8ddb2"/>
<rect x="92.9" y="309.8" width="70.2" height="24.4" fill="#f6d5a4"/>
<rect x="162.5" y="309.8" width="70.2" height="24.4" fill="#f8fbfc"/>
<rect x="232.2" y="309.8" width="23.8" height="24.4" fill="#e6f1f5"/>
<rect x="255.4" y="309.8" width="209.5" height="24.4" fill="#d3e8f0"/>
<rect x="464.3" y="309.8" width="47.0" height="24.4" fill="#e6f1f5"/>
<rect x="510.8" y="309.8" width="47.0" height="24.4" fill="#f8fbfc"/>
<rect x="557.2" y="309.8" width="93.5" height="24.4" fill="#e6f1f5"/>
<rect x="650.1" y="309.8" width="47.0" height="24.4" fill="#d3e8f0"/>
<rect x="0.0" y="333.6" width="70.2" height="24.4" fill="#f8ddb2"/>
<rect x="69.6" y="333.6" width="116.7" height="24.4" fill="#f8fbfc"/>
<rect x="185.7" y="333.6" width="70.2" height="24.4" fill="#e6f1f5"/>
<rect x="255.4" y="333.6" width="209.5" height="24.4" fill="#d3e8f0"/>
<rect x="464.3" y="333.6" width="47.0" height="24.4" fill="#e6f1f5"/>
<rect x="510.8" y="333.6" width="47.0" height="24.4" fill="#f8fbfc"/>
<rect x="557.2" y="333.6" width="116.7" height="24.4" fill="#e6f1f5"/>
<rect x="673.3" y="333.6" width="23.8" height="24.4" fill="#d3e8f0"/>
<rect x="0.0" y="357.5" width="70.2" height="24.4" fill="#f8ddb2"/>
<rect x="69.6" y="357.5" width="116.7" height="24.4" fill="#f8fbfc"/>
<rect x="185.7" y="357.5" width="23.8" height="24.4" fill="#e6f1f5"/>
<rect x="208.9" y="357.5" width="256.0" height="24.4" fill="#d3e8f0"/>
<rect x="464.3" y="357.5" width="47.0" height="24.4" fill="#e6f1f5"/>
<rect x="510.8" y="357.5" width="70.2" height="24.4" fill="#f8fbfc"/>
<rect x="580.4" y="357.5" width="116.7" height="24.4" fill="#e6f1f5"/>
<rect x="0.0" y="381.3" width="93.5" height="24.4" fill="#f8ddb2"/>
<rect x="92.9" y="381.3" width="70.2" height="24.4" fill="#f8fbfc"/>
<rect x="162.5" y="381.3" width="23.8" height="24.4" fill="#e6f1f5"/>
<rect x="185.7" y="381.3" width="279.2" height="24.4" fill="#d3e8f0"/>
<rect x="464.3" y="381.3" width="23.8" height="24.4" fill="#e6f1f5"/>
<rect x="487.5" y="381.3" width="139.9" height="24.4" fill="#f8fbfc"/>
<rect x="626.8" y="381.3" width="70.2" height="24.4" fill="#e6f1f5"/>
<rect x="0.0" y="405.1" width="93.5" height="24.4" fill="#f8ddb2"/>
<rect x="92.9" y="405.1" width="47.0" height="24.4" fill="#f8fbfc"/>
<rect x="139.3" y="405.1" width="23.8" height="24.4" fill="#e6f1f5"/>
<rect x="162.5" y="405.1" width="139.9" height="24.4" fill="#d3e8f0"/>
<rect x="301.8" y="405.1" width="116.7" height="24.4" fill="#bcdcea"/>
<rect x="417.9" y="405.1" width="70.2" height="24.4" fill="#d3e8f0"/>
<rect x="487.5" y="405.1" width="23.8" height="24.4" fill="#e6f1f5"/>
<rect x="510.8" y="405.1" width="116.7" height="24.4" fill="#f8fbfc"/>
<rect x="626.8" y="405.1" width="47.0" height="24.4" fill="#f8ddb2"/>
<rect x="673.3" y="405.1" width="23.8" height="24.4" fill="#f8fbfc"/>
<rect x="0.0" y="428.9" width="70.2" height="24.4" fill="#f8ddb2"/>
<rect x="69.6" y="428.9" width="70.2" height="24.4" fill="#f8fbfc"/>
<rect x="139.3" y="428.9" width="23.8" height="24.4" fill="#e6f1f5"/>
<rect x="162.5" y="428.9" width="47.0" height="24.4" fill="#d3e8f0"/>
<rect x="208.9" y="428.9" width="23.8" height="24.4" fill="#bcdcea"/>
<rect x="232.2" y="428.9" width="47.0" height="24.4" fill="#d3e8f0"/>
<rect x="278.6" y="428.9" width="47.0" height="24.4" fill="#bcdcea"/>
<rect x="325.0" y="428.9" width="93.5" height="24.4" fill="#86bbdf"/>
<rect x="417.9" y="428.9" width="23.8" height="24.4" fill="#bcdcea"/>
<rect x="441.1" y="428.9" width="70.2" height="24.4" fill="#d3e8f0"/>
<rect x="510.8" y="428.9" width="23.8" height="24.4" fill="#e6f1f5"/>
<rect x="534.0" y="428.9" width="93.5" height="24.4" fill="#f8fbfc"/>
<rect x="626.8" y="428.9" width="70.2" height="24.4" fill="#f8ddb2"/>
<rect x="0.0" y="452.8" width="70.2" height="24.4" fill="#f8ddb2"/>
<rect x="69.6" y="452.8" width="70.2" height="24.4" fill="#f8fbfc"/>
<rect x="139.3" y="452.8" width="23.8" height="24.4" fill="#e6f1f5"/>
<rect x="162.5" y="452.8" width="47.0" height="24.4" fill="#d3e8f0"/>
<rect x="208.9" y="452.8" width="47.0" height="24.4" fill="#bcdcea"/>
<rect x="255.4" y="452.8" width="23.8" height="24.4" fill="#a2cee4"/>
<rect x="278.6" y="452.8" width="23.8" height="24.4" fill="#6ea9d9"/>
<rect x="301.8" y="452.8" width="93.5" height="24.4" fill="#4a88cc"/>
<rect x="394.7" y="452.8" width="23.8" height="24.4" fill="#5a98d3"/>
<rect x="417.9" y="452.8" width="23.8" height="24.4" fill="#6ea9d9"/>
<rect x="441.1" y="452.8" width="70.2" height="24.4" fill="#d3e8f0"/>
<rect x="510.8" y="452.8" width="23.8" height="24.4" fill="#e6f1f5"/>
<rect x="534.0" y="452.8" width="163.1" height="24.4" fill="#f8fbfc"/>
<path d="M144.9 393.2h12M150.9 387.2v12" stroke="#353d42" stroke-width="1.6"/>
<path d="M168.1 393.2h12M174.1 387.2v12" stroke="#353d42" stroke-width="1.6"/>
<path d="M191.3 393.2h12M197.3 387.2v12" stroke="#353d42" stroke-width="1.6"/>
<path d="M214.6 393.2h12M220.6 387.2v12" stroke="#353d42" stroke-width="1.6"/>
<path d="M144.9 417.0h12M150.9 411.0v12" stroke="#353d42" stroke-width="1.6"/>
<path d="M168.1 417.0h12M174.1 411.0v12" stroke="#353d42" stroke-width="1.6"/>
<path d="M191.3 417.0h12M197.3 411.0v12" stroke="#353d42" stroke-width="1.6"/>
<path d="M214.6 417.0h12M220.6 411.0v12" stroke="#353d42" stroke-width="1.6"/>
<path d="M144.9 440.9h12M150.9 434.9v12" stroke="#353d42" stroke-width="1.6"/>
<path d="M168.1 440.9h12M174.1 434.9v12" stroke="#353d42" stroke-width="1.6"/>
<path d="M191.3 440.9h12M197.3 434.9v12" stroke="#353d42" stroke-width="1.6"/>
<path d="M214.6 440.9h12M220.6 434.9v12" stroke="#353d42" stroke-width="1.6"/>
<path d="M144.9 464.7h12M150.9 458.7v12" stroke="#353d42" stroke-width="1.6"/>
<path d="M168.1 464.7h12M174.1 458.7v12" stroke="#353d42" stroke-width="1.6"/>
<path d="M191.3 464.7h12M197.3 458.7v12" stroke="#353d42" stroke-width="1.6"/>
<path d="M214.6 464.7h12M220.6 458.7v12" stroke="#353d42" stroke-width="1.6"/>
<path d="M121.7 393.2h12M127.7 387.2v12" stroke="#353d42" stroke-width="1.6"/>
<path d="M144.9 369.4h12M150.9 363.4v12" stroke="#353d42" stroke-width="1.6"/>
<path d="M168.1 369.4h12M174.1 363.4v12" stroke="#353d42" stroke-width="1.6"/>
<path d="M191.3 369.4h12M197.3 363.4v12" stroke="#353d42" stroke-width="1.6"/>
<path d="M214.6 369.4h12M220.6 363.4v12" stroke="#353d42" stroke-width="1.6"/>
<path d="M307.4 297.9h12M313.4 291.9v12" stroke="#353d42" stroke-width="1.6"/>
<path d="M330.6 297.9h12M336.6 291.9v12" stroke="#353d42" stroke-width="1.6"/>
<path d="M353.9 297.9h12M359.9 291.9v12" stroke="#353d42" stroke-width="1.6"/>
<path d="M377.1 297.9h12M383.1 291.9v12" stroke="#353d42" stroke-width="1.6"/>
<path d="M400.3 297.9h12M406.3 291.9v12" stroke="#353d42" stroke-width="1.6"/>
<path d="M423.5 297.9h12M429.5 291.9v12" stroke="#353d42" stroke-width="1.6"/>
<path d="M446.7 297.9h12M452.7 291.9v12" stroke="#353d42" stroke-width="1.6"/>
<path d="M307.4 321.7h12M313.4 315.7v12" stroke="#353d42" stroke-width="1.6"/>
<path d="M330.6 321.7h12M336.6 315.7v12" stroke="#353d42" stroke-width="1.6"/>
<path d="M353.9 321.7h12M359.9 315.7v12" stroke="#353d42" stroke-width="1.6"/>
<path d="M377.1 321.7h12M383.1 315.7v12" stroke="#353d42" stroke-width="1.6"/>
<path d="M400.3 321.7h12M406.3 315.7v12" stroke="#353d42" stroke-width="1.6"/>
<path d="M423.5 321.7h12M429.5 315.7v12" stroke="#353d42" stroke-width="1.6"/>
<path d="M446.7 321.7h12M452.7 315.7v12" stroke="#353d42" stroke-width="1.6"/>
<path d="M284.2 345.5h12M290.2 339.5v12" stroke="#353d42" stroke-width="1.6"/>
<path d="M307.4 345.5h12M313.4 339.5v12" stroke="#353d42" stroke-width="1.6"/>
<path d="M330.6 345.5h12M336.6 339.5v12" stroke="#353d42" stroke-width="1.6"/>
<path d="M353.9 345.5h12M359.9 339.5v12" stroke="#353d42" stroke-width="1.6"/>
<path d="M377.1 345.5h12M383.1 339.5v12" stroke="#353d42" stroke-width="1.6"/>
<path d="M400.3 345.5h12M406.3 339.5v12" stroke="#353d42" stroke-width="1.6"/>
<path d="M423.5 345.5h12M429.5 339.5v12" stroke="#353d42" stroke-width="1.6"/>
<path d="M446.7 345.5h12M452.7 339.5v12" stroke="#353d42" stroke-width="1.6"/>
<path d="M237.8 369.4h12M243.8 363.4v12" stroke="#353d42" stroke-width="1.6"/>
<path d="M261.0 369.4h12M267.0 363.4v12" stroke="#353d42" stroke-width="1.6"/>
<path d="M284.2 369.4h12M290.2 363.4v12" stroke="#353d42" stroke-width="1.6"/>
<path d="M307.4 369.4h12M313.4 363.4v12" stroke="#353d42" stroke-width="1.6"/>
<path d="M330.6 369.4h12M336.6 363.4v12" stroke="#353d42" stroke-width="1.6"/>
<path d="M353.9 369.4h12M359.9 363.4v12" stroke="#353d42" stroke-width="1.6"/>
<path d="M377.1 369.4h12M383.1 363.4v12" stroke="#353d42" stroke-width="1.6"/>
<path d="M400.3 369.4h12M406.3 363.4v12" stroke="#353d42" stroke-width="1.6"/>
<path d="M446.7 369.4h12M452.7 363.4v12" stroke="#353d42" stroke-width="1.6"/>
<path d="M237.8 393.2h12M243.8 387.2v12" stroke="#353d42" stroke-width="1.6"/>
<path d="M261.0 393.2h12M267.0 387.2v12" stroke="#353d42" stroke-width="1.6"/>
<path d="M284.2 393.2h12M290.2 387.2v12" stroke="#353d42" stroke-width="1.6"/>
<path d="M307.4 393.2h12M313.4 387.2v12" stroke="#353d42" stroke-width="1.6"/>
<path d="M330.6 393.2h12M336.6 387.2v12" stroke="#353d42" stroke-width="1.6"/>
<path d="M353.9 393.2h12M359.9 387.2v12" stroke="#353d42" stroke-width="1.6"/>
<path d="M377.1 393.2h12M383.1 387.2v12" stroke="#353d42" stroke-width="1.6"/>
<path d="M400.3 393.2h12M406.3 387.2v12" stroke="#353d42" stroke-width="1.6"/>
<path d="M423.5 393.2h12M429.5 387.2v12" stroke="#353d42" stroke-width="1.6"/>
<path d="M446.7 393.2h12M452.7 387.2v12" stroke="#353d42" stroke-width="1.6"/>
<path d="M237.8 417.0h12M243.8 411.0v12" stroke="#353d42" stroke-width="1.6"/>
<path d="M261.0 417.0h12M267.0 411.0v12" stroke="#353d42" stroke-width="1.6"/>
<path d="M284.2 417.0h12M290.2 411.0v12" stroke="#353d42" stroke-width="1.6"/>
<path d="M307.4 417.0h12M313.4 411.0v12" stroke="#353d42" stroke-width="1.6"/>
<path d="M330.6 417.0h12M336.6 411.0v12" stroke="#353d42" stroke-width="1.6"/>
<path d="M353.9 417.0h12M359.9 411.0v12" stroke="#353d42" stroke-width="1.6"/>
<path d="M377.1 417.0h12M383.1 411.0v12" stroke="#353d42" stroke-width="1.6"/>
<path d="M400.3 417.0h12M406.3 411.0v12" stroke="#353d42" stroke-width="1.6"/>
<path d="M423.5 417.0h12M429.5 411.0v12" stroke="#353d42" stroke-width="1.6"/>
<path d="M446.7 417.0h12M452.7 411.0v12" stroke="#353d42" stroke-width="1.6"/>
<path d="M237.8 440.9h12M243.8 434.9v12" stroke="#353d42" stroke-width="1.6"/>
<path d="M261.0 440.9h12M267.0 434.9v12" stroke="#353d42" stroke-width="1.6"/>
<path d="M284.2 440.9h12M290.2 434.9v12" stroke="#353d42" stroke-width="1.6"/>
<path d="M330.6 440.9h12M336.6 434.9v12" stroke="#353d42" stroke-width="1.6"/>
<path d="M353.9 440.9h12M359.9 434.9v12" stroke="#353d42" stroke-width="1.6"/>
<path d="M377.1 440.9h12M383.1 434.9v12" stroke="#353d42" stroke-width="1.6"/>
<path d="M423.5 440.9h12M429.5 434.9v12" stroke="#353d42" stroke-width="1.6"/>
<path d="M237.8 464.7h12M243.8 458.7v12" stroke="#353d42" stroke-width="1.6"/>
<path d="M261.0 464.7h12M267.0 458.7v12" stroke="#353d42" stroke-width="1.6"/>
<path d="M284.2 464.7h12M290.2 458.7v12" stroke="#353d42" stroke-width="1.6"/>
<path d="M353.9 464.7h12M359.9 458.7v12" stroke="#353d42" stroke-width="1.6"/>
<path d="M377.1 464.7h12M383.1 458.7v12" stroke="#353d42" stroke-width="1.6"/>
<path d="M400.3 464.7h12M406.3 458.7v12" stroke="#353d42" stroke-width="1.6"/>
<path d="M469.9 321.7h12M475.9 315.7v12" stroke="#353d42" stroke-width="1.6"/>
<path d="M469.9 345.5h12M475.9 339.5v12" stroke="#353d42" stroke-width="1.6"/>
<path d="M493.2 345.5h12M499.2 339.5v12" stroke="#353d42" stroke-width="1.6"/>
<path d="M469.9 369.4h12M475.9 363.4v12" stroke="#353d42" stroke-width="1.6"/>
<path d="M493.2 369.4h12M499.2 363.4v12" stroke="#353d42" stroke-width="1.6"/>
<path d="M469.9 393.2h12M475.9 387.2v12" stroke="#353d42" stroke-width="1.6"/>
<path d="M493.2 393.2h12M499.2 387.2v12" stroke="#353d42" stroke-width="1.6"/>
<path d="M516.4 393.2h12M522.4 387.2v12" stroke="#353d42" stroke-width="1.6"/>
<path d="M469.9 417.0h12M475.9 411.0v12" stroke="#353d42" stroke-width="1.6"/>
<path d="M493.2 417.0h12M499.2 411.0v12" stroke="#353d42" stroke-width="1.6"/>
<path d="M516.4 417.0h12M522.4 411.0v12" stroke="#353d42" stroke-width="1.6"/>
<path d="M539.6 417.0h12M545.6 411.0v12" stroke="#353d42" stroke-width="1.6"/>
<path d="M609.2 440.9h12M615.2 434.9v12" stroke="#353d42" stroke-width="1.6"/>
<path d="M609.2 464.7h12M615.2 458.7v12" stroke="#353d42" stroke-width="1.6"/>
<path d="M632.5 464.7h12M638.5 458.7v12" stroke="#353d42" stroke-width="1.6"/>
<path d="M655.7 464.7h12M661.7 458.7v12" stroke="#353d42" stroke-width="1.6"/>
<path d="M678.9 464.7h12M684.9 458.7v12" stroke="#353d42" stroke-width="1.6"/>
<use href="#bd"/>
<rect x="210.3" y="19.9" width="99.5" height="50" fill="#fff" fill-opacity="0.22"/>
<rect x="412.0" y="139.1" width="104.6" height="50" fill="#fff" fill-opacity="0.22"/>
<rect x="30.3" y="202.4" width="102.0" height="50" fill="#fff" fill-opacity="0.22"/>
<rect x="160.7" y="277.3" width="91.8" height="50" fill="#fff" fill-opacity="0.22"/>
<rect x="553.0" y="293.5" width="109.6" height="50" fill="#fff" fill-opacity="0.22"/>
<rect x="26.6" y="403.6" width="104.6" height="50" fill="#fff" fill-opacity="0.22"/>
<rect x="437.0" y="418.8" width="102.0" height="50" fill="#fff" fill-opacity="0.22"/>
<text x="260.0" y="62.9" font-size="46" text-anchor="middle">KAZ</text>
<text x="464.3" y="182.1" font-size="46" text-anchor="middle">KGZ</text>
<text x="81.3" y="245.4" font-size="46" text-anchor="middle">UZB</text>
<text x="206.6" y="320.3" font-size="46" text-anchor="middle">TJK</text>
<text x="607.8" y="336.5" font-size="46" text-anchor="middle">CHN</text>
<text x="78.9" y="446.6" font-size="46" text-anchor="middle">AFG</text>
<text x="488.0" y="461.8" font-size="46" text-anchor="middle">PAK</text>
</g>
<rect x="195.0" y="1685.6" width="696.5" height="476.6" fill="none" stroke="#111" stroke-width="3"/>
<path d="M179.0 1685.6H195.0M179.0 1733.3H195.0M179.0 1780.9H195.0M179.0 1828.6H195.0M179.0 1876.2H195.0M179.0 1923.9H195.0M179.0 1971.6H195.0M179.0 2019.2H195.0M179.0 2066.9H195.0M179.0 2114.5H195.0M179.0 2162.2H195.0M195.0 2162.2V2178.2M241.4 2162.2V2178.2M287.9 2162.2V2178.2M334.3 2162.2V2178.2M380.7 2162.2V2178.2M427.2 2162.2V2178.2M473.6 2162.2V2178.2M520.0 2162.2V2178.2M566.5 2162.2V2178.2M612.9 2162.2V2178.2M659.3 2162.2V2178.2M705.8 2162.2V2178.2M752.2 2162.2V2178.2M798.6 2162.2V2178.2M845.1 2162.2V2178.2M891.5 2162.2V2178.2" stroke="#1a1a1a" stroke-width="3"/>
<text x="157.5" y="1700.6" font-size="45.5" text-anchor="end">45</text>
<text x="157.5" y="1938.9" font-size="45.5" text-anchor="end">40</text>
<text x="157.5" y="2177.2" font-size="45.5" text-anchor="end">35</text>
<text x="195.0" y="2232.6" font-size="45.5" text-anchor="middle">65</text>
<text x="427.2" y="2232.6" font-size="45.5" text-anchor="middle">70</text>
<text x="659.3" y="2232.6" font-size="45.5" text-anchor="middle">75</text>
<text x="891.5" y="2232.6" font-size="45.5" text-anchor="middle">80</text>
<rect x="1099" y="1684.1" width="104" height="4.48" fill="#464797"/>
<rect x="1099" y="1688.1" width="104" height="4.48" fill="#454a9a"/>
<rect x="1099" y="1692.1" width="104" height="4.48" fill="#434d9d"/>
<rect x="1099" y="1696.0" width="104" height="4.48" fill="#4150a0"/>
<rect x="1099" y="1700.0" width="104" height="4.48" fill="#3f54a4"/>
<rect x="1099" y="1704.0" width="104" height="4.48" fill="#3e57a7"/>
<rect x="1099" y="1708.0" width="104" height="4.48" fill="#3c5aaa"/>
<rect x="1099" y="1712.0" width="104" height="4.48" fill="#3b5dac"/>
<rect x="1099" y="1716.0" width="104" height="4.48" fill="#3b5fae"/>
<rect x="1099" y="1719.9" width="104" height="4.48" fill="#3b62af"/>
<rect x="1099" y="1723.9" width="104" height="4.48" fill="#3a65b1"/>
<rect x="1099" y="1727.9" width="104" height="4.48" fill="#3a67b2"/>
<rect x="1099" y="1731.9" width="104" height="4.48" fill="#3a6ab3"/>
<rect x="1099" y="1735.9" width="104" height="4.48" fill="#3a6cb5"/>
<rect x="1099" y="1739.9" width="104" height="4.48" fill="#3c70b7"/>
<rect x="1099" y="1743.8" width="104" height="4.48" fill="#3f74ba"/>
<rect x="1099" y="1747.8" width="104" height="4.48" fill="#4178bd"/>
<rect x="1099" y="1751.8" width="104" height="4.48" fill="#447cc0"/>
<rect x="1099" y="1755.8" width="104" height="4.48" fill="#4780c3"/>
<rect x="1099" y="1759.8" width="104" height="4.48" fill="#4a84c6"/>
<rect x="1099" y="1763.8" width="104" height="4.48" fill="#4c88c9"/>
<rect x="1099" y="1767.8" width="104" height="4.48" fill="#4f8ccc"/>
<rect x="1099" y="1771.7" width="104" height="4.48" fill="#528fcf"/>
<rect x="1099" y="1775.7" width="104" height="4.48" fill="#5693d0"/>
<rect x="1099" y="1779.7" width="104" height="4.48" fill="#5b97d2"/>
<rect x="1099" y="1783.7" width="104" height="4.48" fill="#609bd3"/>
<rect x="1099" y="1787.7" width="104" height="4.48" fill="#649fd4"/>
<rect x="1099" y="1791.6" width="104" height="4.48" fill="#69a3d6"/>
<rect x="1099" y="1795.6" width="104" height="4.48" fill="#6ea7d7"/>
<rect x="1099" y="1799.6" width="104" height="4.48" fill="#73abd8"/>
<rect x="1099" y="1803.6" width="104" height="4.48" fill="#77afda"/>
<rect x="1099" y="1807.6" width="104" height="4.48" fill="#7cb3db"/>
<rect x="1099" y="1811.6" width="104" height="4.48" fill="#83b9dc"/>
<rect x="1099" y="1815.5" width="104" height="4.48" fill="#8bbedd"/>
<rect x="1099" y="1819.5" width="104" height="4.48" fill="#92c3de"/>
<rect x="1099" y="1823.5" width="104" height="4.48" fill="#99c9e0"/>
<rect x="1099" y="1827.5" width="104" height="4.48" fill="#9fcde1"/>
<rect x="1099" y="1831.5" width="104" height="4.48" fill="#a5d0e3"/>
<rect x="1099" y="1835.5" width="104" height="4.48" fill="#aad4e5"/>
<rect x="1099" y="1839.4" width="104" height="4.48" fill="#b0d7e7"/>
<rect x="1099" y="1843.4" width="104" height="4.48" fill="#b5dae8"/>
<rect x="1099" y="1847.4" width="104" height="4.48" fill="#badde9"/>
<rect x="1099" y="1851.4" width="104" height="4.48" fill="#bedfeb"/>
<rect x="1099" y="1855.4" width="104" height="4.48" fill="#c3e1ec"/>
<rect x="1099" y="1859.4" width="104" height="4.48" fill="#c8e3ed"/>
<rect x="1099" y="1863.3" width="104" height="4.48" fill="#cde6ee"/>
<rect x="1099" y="1867.3" width="104" height="4.48" fill="#d2e8ef"/>
<rect x="1099" y="1871.3" width="104" height="4.48" fill="#d6eaf0"/>
<rect x="1099" y="1875.3" width="104" height="4.48" fill="#d9ecf1"/>
<rect x="1099" y="1879.3" width="104" height="4.48" fill="#ddedf2"/>
<rect x="1099" y="1883.3" width="104" height="4.48" fill="#e0eff3"/>
<rect x="1099" y="1887.2" width="104" height="4.48" fill="#e4f1f4"/>
<rect x="1099" y="1891.2" width="104" height="4.48" fill="#e7f2f5"/>
<rect x="1099" y="1895.2" width="104" height="4.48" fill="#ebf4f6"/>
<rect x="1099" y="1899.2" width="104" height="4.48" fill="#eef6f7"/>
<rect x="1099" y="1903.2" width="104" height="4.48" fill="#f2f7f9"/>
<rect x="1099" y="1907.2" width="104" height="4.48" fill="#f6f9fb"/>
<rect x="1099" y="1911.1" width="104" height="4.48" fill="#f9fbfc"/>
<rect x="1099" y="1915.1" width="104" height="4.48" fill="#f8dcac"/>
<rect x="1099" y="1919.1" width="104" height="4.48" fill="#f7d8a8"/>
<rect x="1099" y="1923.1" width="104" height="4.48" fill="#f6d5a4"/>
<rect x="1099" y="1927.1" width="104" height="4.48" fill="#f5d2a0"/>
<rect x="1099" y="1931.1" width="104" height="4.48" fill="#f4cf9c"/>
<rect x="1099" y="1935.0" width="104" height="4.48" fill="#f3cc99"/>
<rect x="1099" y="1939.0" width="104" height="4.48" fill="#f2ca95"/>
<rect x="1099" y="1943.0" width="104" height="4.48" fill="#f1c792"/>
<rect x="1099" y="1947.0" width="104" height="4.48" fill="#efc58f"/>
<rect x="1099" y="1951.0" width="104" height="4.48" fill="#eec28c"/>
<rect x="1099" y="1955.0" width="104" height="4.48" fill="#ecbf88"/>
<rect x="1099" y="1958.9" width="104" height="4.48" fill="#ebbc84"/>
<rect x="1099" y="1962.9" width="104" height="4.48" fill="#e9b881"/>
<rect x="1099" y="1966.9" width="104" height="4.48" fill="#e8b57d"/>
<rect x="1099" y="1970.9" width="104" height="4.48" fill="#e5b279"/>
<rect x="1099" y="1974.9" width="104" height="4.48" fill="#e3ae75"/>
<rect x="1099" y="1978.9" width="104" height="4.48" fill="#e1aa71"/>
<rect x="1099" y="1982.8" width="104" height="4.48" fill="#dea76d"/>
<rect x="1099" y="1986.8" width="104" height="4.48" fill="#dda469"/>
<rect x="1099" y="1990.8" width="104" height="4.48" fill="#dba066"/>
<rect x="1099" y="1994.8" width="104" height="4.48" fill="#d99d62"/>
<rect x="1099" y="1998.8" width="104" height="4.48" fill="#d79a5e"/>
<rect x="1099" y="2002.8" width="104" height="4.48" fill="#d5975b"/>
<rect x="1099" y="2006.8" width="104" height="4.48" fill="#d29258"/>
<rect x="1099" y="2010.7" width="104" height="4.48" fill="#cf8e55"/>
<rect x="1099" y="2014.7" width="104" height="4.48" fill="#cb8a51"/>
<rect x="1099" y="2018.7" width="104" height="4.48" fill="#c8864e"/>
<rect x="1099" y="2022.7" width="104" height="4.48" fill="#c5834b"/>
<rect x="1099" y="2026.7" width="104" height="4.48" fill="#c27f47"/>
<rect x="1099" y="2030.6" width="104" height="4.48" fill="#be7b43"/>
<rect x="1099" y="2034.6" width="104" height="4.48" fill="#bb7840"/>
<rect x="1099" y="2038.6" width="104" height="4.48" fill="#b8743c"/>
<rect x="1099" y="2042.6" width="104" height="4.48" fill="#b47139"/>
<rect x="1099" y="2046.6" width="104" height="4.48" fill="#b16d36"/>
<rect x="1099" y="2050.6" width="104" height="4.48" fill="#ae6b34"/>
<rect x="1099" y="2054.5" width="104" height="4.48" fill="#ac6833"/>
<rect x="1099" y="2058.5" width="104" height="4.48" fill="#a96631"/>
<rect x="1099" y="2062.5" width="104" height="4.48" fill="#a66430"/>
<rect x="1099" y="2066.5" width="104" height="4.48" fill="#a4612e"/>
<rect x="1099" y="2070.5" width="104" height="4.48" fill="#a15f2c"/>
<rect x="1099" y="2074.5" width="104" height="4.48" fill="#9d5b2a"/>
<rect x="1099" y="2078.4" width="104" height="4.48" fill="#995727"/>
<rect x="1099" y="2082.4" width="104" height="4.48" fill="#955324"/>
<rect x="1099" y="2086.4" width="104" height="4.48" fill="#914f20"/>
<rect x="1099" y="2090.4" width="104" height="4.48" fill="#8e4b1e"/>
<rect x="1099" y="2094.4" width="104" height="4.48" fill="#90491e"/>
<rect x="1099" y="2098.4" width="104" height="4.48" fill="#92461e"/>
<rect x="1099" y="2102.3" width="104" height="4.48" fill="#94431e"/>
<rect x="1099" y="2106.3" width="104" height="4.48" fill="#96401e"/>
<rect x="1099" y="2110.3" width="104" height="4.48" fill="#963e1e"/>
<rect x="1099" y="2114.3" width="104" height="4.48" fill="#973a1f"/>
<rect x="1099" y="2118.3" width="104" height="4.48" fill="#98371f"/>
<rect x="1099" y="2122.3" width="104" height="4.48" fill="#98341f"/>
<rect x="1099" y="2126.2" width="104" height="4.48" fill="#99311f"/>
<rect x="1099" y="2130.2" width="104" height="4.48" fill="#9a2e20"/>
<rect x="1099" y="2134.2" width="104" height="4.48" fill="#9a2c20"/>
<rect x="1099" y="2138.2" width="104" height="4.48" fill="#972a1f"/>
<rect x="1099" y="2142.2" width="104" height="4.48" fill="#95291f"/>
<rect x="1099" y="2146.2" width="104" height="4.48" fill="#92271e"/>
<rect x="1099" y="2150.2" width="104" height="4.48" fill="#90261d"/>
<rect x="1099" y="2154.1" width="104" height="4.48" fill="#8d241d"/>
<rect x="1099" y="2158.1" width="104" height="4.48" fill="#8b231c"/>
<rect x="1099.5" y="1684.1" width="102" height="478.0" fill="none" stroke="#111" stroke-width="3"/>
<text x="1319" y="1750.5" font-size="45.5" text-anchor="end">10</text>
<text x="1319" y="1838.6" font-size="45.5" text-anchor="end">5</text>
<text x="1319" y="1926.7" font-size="45.5" text-anchor="end">0</text>
<text x="1319" y="2014.8" font-size="45.5" text-anchor="end">−5</text>
<text x="1319" y="2102.9" font-size="45.5" text-anchor="end">−10</text>
<path d="M1201 1739.0H1218M1201 1827.1H1218M1201 1915.2H1218M1201 2003.3H1218M1201 2091.4H1218" stroke="#1a1a1a" stroke-width="3"/>
<text x="543.2" y="2367.9" font-size="74" font-weight="bold" text-anchor="middle">Autumn</text>
<text x="116" y="2368.4" font-size="45.5" font-style="italic">LAT</text>
<text x="938" y="2926.9" font-size="45.5" font-style="italic">LON</text>
<text x="1080" y="2381.9" font-size="45.5" font-style="italic">mm/decade</text>
<g transform="translate(195.00,2416.40)" clip-path="url(#mc)">
<rect x="0.0" y="0.0" width="186.3" height="24.4" fill="#e6f1f5"/>
<rect x="185.7" y="0.0" width="70.2" height="24.4" fill="#f8fbfc"/>
<rect x="255.4" y="0.0" width="70.2" height="24.4" fill="#e6f1f5"/>
<rect x="325.0" y="0.0" width="209.5" height="24.4" fill="#d3e8f0"/>
<rect x="534.0" y="0.0" width="23.8" height="24.4" fill="#bcdcea"/>
<rect x="557.2" y="0.0" width="47.0" height="24.4" fill="#a2cee4"/>
<rect x="603.6" y="0.0" width="93.5" height="24.4" fill="#86bbdf"/>
<rect x="0.0" y="23.8" width="47.0" height="24.4" fill="#e6f1f5"/>
<rect x="46.4" y="23.8" width="23.8" height="24.4" fill="#d3e8f0"/>
<rect x="69.6" y="23.8" width="116.7" height="24.4" fill="#e6f1f5"/>
<rect x="185.7" y="23.8" width="70.2" height="24.4" fill="#f8fbfc"/>
<rect x="255.4" y="23.8" width="70.2" height="24.4" fill="#e6f1f5"/>
<rect x="325.0" y="23.8" width="70.2" height="24.4" fill="#d3e8f0"/>
<rect x="394.7" y="23.8" width="139.9" height="24.4" fill="#bcdcea"/>
<rect x="534.0" y="23.8" width="47.0" height="24.4" fill="#a2cee4"/>
<rect x="580.4" y="23.8" width="116.7" height="24.4" fill="#86bbdf"/>
<rect x="0.0" y="47.7" width="47.0" height="24.4" fill="#e6f1f5"/>
<rect x="46.4" y="47.7" width="47.0" height="24.4" fill="#d3e8f0"/>
<rect x="92.9" y="47.7" width="116.7" height="24.4" fill="#e6f1f5"/>
<rect x="208.9" y="47.7" width="47.0" height="24.4" fill="#f8fbfc"/>
<rect x="255.4" y="47.7" width="70.2" height="24.4" fill="#e6f1f5"/>
<rect x="325.0" y="47.7" width="47.0" height="24.4" fill="#d3e8f0"/>
<rect x="371.5" y="47.7" width="47.0" height="24.4" fill="#bcdcea"/>
<rect x="417.9" y="47.7" width="279.2" height="24.4" fill="#a2cee4"/>
<rect x="0.0" y="71.5" width="23.8" height="24.4" fill="#f8fbfc"/>
<rect x="23.2" y="71.5" width="186.3" height="24.4" fill="#e6f1f5"/>
<rect x="208.9" y="71.5" width="23.8" height="24.4" fill="#f8ddb2"/>
<rect x="232.2" y="71.5" width="47.0" height="24.4" fill="#f6d5a4"/>
<rect x="278.6" y="71.5" width="47.0" height="24.4" fill="#f8fbfc"/>
<rect x="325.0" y="71.5" width="23.8" height="24.4" fill="#e6f1f5"/>
<rect x="348.2" y="71.5" width="23.8" height="24.4" fill="#d3e8f0"/>
<rect x="371.5" y="71.5" width="47.0" height="24.4" fill="#bcdcea"/>
<rect x="417.9" y="71.5" width="139.9" height="24.4" fill="#a2cee4"/>
<rect x="557.2" y="71.5" width="139.9" height="24.4" fill="#bcdcea"/>
<rect x="0.0" y="95.3" width="23.8" height="24.4" fill="#f8fbfc"/>
<rect x="23.2" y="95.3" width="186.3" height="24.4" fill="#e6f1f5"/>
<rect x="208.9" y="95.3" width="23.8" height="24.4" fill="#f8ddb2"/>
<rect x="232.2" y="95.3" width="23.8" height="24.4" fill="#f6d5a4"/>
<rect x="255.4" y="95.3" width="23.8" height="24.4" fill="#f8fbfc"/>
<rect x="278.6" y="95.3" width="23.8" height="24.4" fill="#f6d5a4"/>
<rect x="301.8" y="95.3" width="23.8" height="24.4" fill="#f8fbfc"/>
<rect x="325.0" y="95.3" width="23.8" height="24.4" fill="#e6f1f5"/>
<rect x="348.2" y="95.3" width="23.8" height="24.4" fill="#d3e8f0"/>
<rect x="371.5" y="95.3" width="70.2" height="24.4" fill="#bcdcea"/>
<rect x="441.1" y="95.3" width="23.8" height="24.4" fill="#a2cee4"/>
<rect x="464.3" y="95.3" width="47.0" height="24.4" fill="#bcdcea"/>
<rect x="510.8" y="95.3" width="186.3" height="24.4" fill="#d3e8f0"/>
<rect x="0.0" y="119.2" width="23.8" height="24.4" fill="#e6f1f5"/>
<rect x="23.2" y="119.2" width="70.2" height="24.4" fill="#f8fbfc"/>
<rect x="92.9" y="119.2" width="23.8" height="24.4" fill="#f6d5a4"/>
<rect x="116.1" y="119.2" width="23.8" height="24.4" fill="#f8fbfc"/>
<rect x="139.3" y="119.2" width="70.2" height="24.4" fill="#e6f1f5"/>
<rect x="208.9" y="119.2" width="70.2" height="24.4" fill="#f6d5a4"/>
<rect x="278.6" y="119.2" width="47.0" height="24.4" fill="#f8fbfc"/>
<rect x="325.0" y="119.2" width="23.8" height="24.4" fill="#e6f1f5"/>
<rect x="348.2" y="119.2" width="70.2" height="24.4" fill="#d3e8f0"/>
<rect x="417.9" y="119.2" width="163.1" height="24.4" fill="#bcdcea"/>
<rect x="580.4" y="119.2" width="70.2" height="24.4" fill="#d3e8f0"/>
<rect x="650.1" y="119.2" width="47.0" height="24.4" fill="#e6f1f5"/>
<rect x="0.0" y="143.0" width="23.8" height="24.4" fill="#e6f1f5"/>
<rect x="23.2" y="143.0" width="23.8" height="24.4" fill="#f8fbfc"/>
<rect x="46.4" y="143.0" width="70.2" height="24.4" fill="#f6d5a4"/>
<rect x="116.1" y="143.0" width="93.5" height="24.4" fill="#f8fbfc"/>
<rect x="208.9" y="143.0" width="23.8" height="24.4" fill="#f8ddb2"/>
<rect x="232.2" y="143.0" width="93.5" height="24.4" fill="#f8fbfc"/>
<rect x="325.0" y="143.0" width="23.8" height="24.4" fill="#e6f1f5"/>
<rect x="348.2" y="143.0" width="93.5" height="24.4" fill="#d3e8f0"/>
<rect x="441.1" y="143.0" width="23.8" height="24.4" fill="#bcdcea"/>
<rect x="464.3" y="143.0" width="116.7" height="24.4" fill="#d3e8f0"/>
<rect x="580.4" y="143.0" width="116.7" height="24.4" fill="#e6f1f5"/>
<rect x="0.0" y="166.8" width="23.8" height="24.4" fill="#e6f1f5"/>
<rect x="23.2" y="166.8" width="23.8" height="24.4" fill="#f8fbfc"/>
<rect x="46.4" y="166.8" width="23.8" height="24.4" fill="#f6d5a4"/>
<rect x="69.6" y="166.8" width="47.0" height="24.4" fill="#f8ddb2"/>
<rect x="116.1" y="166.8" width="47.0" height="24.4" fill="#f6d5a4"/>
<rect x="162.5" y="166.8" width="23.8" height="24.4" fill="#f8fbfc"/>
<rect x="185.7" y="166.8" width="47.0" height="24.4" fill="#f6d5a4"/>
<rect x="232.2" y="166.8" width="93.5" height="24.4" fill="#f8fbfc"/>
<rect x="325.0" y="166.8" width="23.8" height="24.4" fill="#e6f1f5"/>
<rect x="348.2" y="166.8" width="163.1" height="24.4" fill="#d3e8f0"/>
<rect x="510.8" y="166.8" width="186.3" height="24.4" fill="#e6f1f5"/>
<rect x="0.0" y="190.6" width="23.8" height="24.4" fill="#f8fbfc"/>
<rect x="23.2" y="190.6" width="47.0" height="24.4" fill="#f6d5a4"/>
<rect x="69.6" y="190.6" width="116.7" height="24.4" fill="#f8fbfc"/>
<rect x="185.7" y="190.6" width="47.0" height="24.4" fill="#f6d5a4"/>
<rect x="232.2" y="190.6" width="23.8" height="24.4" fill="#e6f1f5"/>
<rect x="255.4" y="190.6" width="47.0" height="24.4" fill="#f8fbfc"/>
<rect x="301.8" y="190.6" width="47.0" height="24.4" fill="#f6d5a4"/>
<rect x="348.2" y="190.6" width="93.5" height="24.4" fill="#e6f1f5"/>
<rect x="441.1" y="190.6" width="70.2" height="24.4" fill="#d3e8f0"/>
<rect x="510.8" y="190.6" width="186.3" height="24.4" fill="#e6f1f5"/>
<rect x="0.0" y="214.5" width="186.3" height="24.4" fill="#f8fbfc"/>
<rect x="185.7" y="214.5" width="23.8" height="24.4" fill="#f8ddb2"/>
<rect x="208.9" y="214.5" width="23.8" height="24.4" fill="#e6f1f5"/>
<rect x="232.2" y="214.5" width="23.8" height="24.4" fill="#d3e8f0"/>
<rect x="255.4" y="214.5" width="23.8" height="24.4" fill="#e6f1f5"/>
<rect x="278.6" y="214.5" width="23.8" height="24.4" fill="#f8fbfc"/>
<rect x="301.8" y="214.5" width="47.0" height="24.4" fill="#f6d5a4"/>
<rect x="348.2" y="214.5" width="93.5" height="24.4" fill="#e6f1f5"/>
<rect x="441.1" y="214.5" width="23.8" height="24.4" fill="#d3e8f0"/>
<rect x="464.3" y="214.5" width="70.2" height="24.4" fill="#e6f1f5"/>
<rect x="534.0" y="214.5" width="93.5" height="24.4" fill="#f8fbfc"/>
<rect x="626.8" y="214.5" width="23.8" height="24.4" fill="#e6f1f5"/>
<rect x="650.1" y="214.5" width="47.0" height="24.4" fill="#f8fbfc"/>
<rect x="0.0" y="238.3" width="116.7" height="24.4" fill="#e6f1f5"/>
<rect x="116.1" y="238.3" width="47.0" height="24.4" fill="#d3e8f0"/>
<rect x="162.5" y="238.3" width="23.8" height="24.4" fill="#bcdcea"/>
<rect x="185.7" y="238.3" width="93.5" height="24.4" fill="#d3e8f0"/>
<rect x="278.6" y="238.3" width="23.8" height="24.4" fill="#e6f1f5"/>
<rect x="301.8" y="238.3" width="23.8" height="24.4" fill="#f6d5a4"/>
<rect x="325.0" y="238.3" width="23.8" height="24.4" fill="#f0c48c"/>
<rect x="348.2" y="238.3" width="47.0" height="24.4" fill="#e6f1f5"/>
<rect x="394.7" y="238.3" width="47.0" height="24.4" fill="#f8fbfc"/>
<rect x="441.1" y="238.3" width="256.0" height="24.4" fill="#e6f1f5"/>
<rect x="0.0" y="262.1" width="47.0" height="24.4" fill="#e6f1f5"/>
<rect x="46.4" y="262.1" width="116.7" height="24.4" fill="#d3e8f0"/>
<rect x="162.5" y="262.1" width="23.8" height="24.4" fill="#a2cee4"/>
<rect x="185.7" y="262.1" width="23.8" height="24.4" fill="#bcdcea"/>
<rect x="208.9" y="262.1" width="70.2" height="24.4" fill="#d3e8f0"/>
<rect x="278.6" y="262.1" width="23.8" height="24.4" fill="#e6f1f5"/>
<rect x="301.8" y="262.1" width="23.8" height="24.4" fill="#f6d5a4"/>
<rect x="325.0" y="262.1" width="23.8" height="24.4" fill="#f0c48c"/>
<rect x="348.2" y="262.1" width="23.8" height="24.4" fill="#f6d5a4"/>
<rect x="371.5" y="262.1" width="70.2" height="24.4" fill="#f8fbfc"/>
<rect x="441.1" y="262.1" width="256.0" height="24.4" fill="#e6f1f5"/>
<rect x="0.0" y="286.0" width="47.0" height="24.4" fill="#e6f1f5"/>
<rect x="46.4" y="286.0" width="116.7" height="24.4" fill="#d3e8f0"/>
<rect x="162.5" y="286.0" width="47.0" height="24.4" fill="#bcdcea"/>
<rect x="208.9" y="286.0" width="70.2" height="24.4" fill="#d3e8f0"/>
<rect x="278.6" y="286.0" width="23.8" height="24.4" fill="#e6f1f5"/>
<rect x="301.8" y="286.0" width="23.8" height="24.4" fill="#f8ddb2"/>
<rect x="325.0" y="286.0" width="70.2" height="24.4" fill="#f6d5a4"/>
<rect x="394.7" y="286.0" width="302.4" height="24.4" fill="#f8fbfc"/>
<rect x="0.0" y="309.8" width="47.0" height="24.4" fill="#e6f1f5"/>
<rect x="46.4" y="309.8" width="209.5" height="24.4" fill="#d3e8f0"/>
<rect x="255.4" y="309.8" width="23.8" height="24.4" fill="#e6f1f5"/>
<rect x="278.6" y="309.8" width="23.8" height="24.4" fill="#f8ddb2"/>
<rect x="301.8" y="309.8" width="93.5" height="24.4" fill="#f6d5a4"/>
<rect x="394.7" y="309.8" width="23.8" height="24.4" fill="#f0c48c"/>
<rect x="417.9" y="309.8" width="116.7" height="24.4" fill="#f6d5a4"/>
<rect x="534.0" y="309.8" width="163.1" height="24.4" fill="#f8fbfc"/>
<rect x="0.0" y="333.6" width="70.2" height="24.4" fill="#e6f1f5"/>
<rect x="69.6" y="333.6" width="47.0" height="24.4" fill="#d3e8f0"/>
<rect x="116.1" y="333.6" width="23.8" height="24.4" fill="#e6f1f5"/>
<rect x="139.3" y="333.6" width="116.7" height="24.4" fill="#d3e8f0"/>
<rect x="255.4" y="333.6" width="23.8" height="24.4" fill="#e6f1f5"/>
<rect x="278.6" y="333.6" width="23.8" height="24.4" fill="#f6d5a4"/>
<rect x="301.8" y="333.6" width="139.9" height="24.4" fill="#f0c48c"/>
<rect x="441.1" y="333.6" width="23.8" height="24.4" fill="#f6d5a4"/>
<rect x="464.3" y="333.6" width="70.2" height="24.4" fill="#f0c48c"/>
<rect x="534.0" y="333.6" width="23.8" height="24.4" fill="#f6d5a4"/>
<rect x="557.2" y="333.6" width="139.9" height="24.4" fill="#f8fbfc"/>
<rect x="0.0" y="357.5" width="163.1" height="24.4" fill="#e6f1f5"/>
<rect x="162.5" y="357.5" width="93.5" height="24.4" fill="#d3e8f0"/>
<rect x="255.4" y="357.5" width="23.8" height="24.4" fill="#e6f1f5"/>
<rect x="278.6" y="357.5" width="279.2" height="24.4" fill="#f0c48c"/>
<rect x="557.2" y="357.5" width="47.0" height="24.4" fill="#f6d5a4"/>
<rect x="603.6" y="357.5" width="93.5" height="24.4" fill="#f8fbfc"/>
<rect x="0.0" y="381.3" width="163.1" height="24.4" fill="#e6f1f5"/>
<rect x="162.5" y="381.3" width="93.5" height="24.4" fill="#d3e8f0"/>
<rect x="255.4" y="381.3" width="23.8" height="24.4" fill="#e6f1f5"/>
<rect x="278.6" y="381.3" width="372.1" height="24.4" fill="#f0c48c"/>
<rect x="650.1" y="381.3" width="23.8" height="24.4" fill="#f6d5a4"/>
<rect x="673.3" y="381.3" width="23.8" height="24.4" fill="#f8fbfc"/>
<rect x="0.0" y="405.1" width="70.2" height="24.4" fill="#e6f1f5"/>
<rect x="69.6" y="405.1" width="47.0" height="24.4" fill="#d3e8f0"/>
<rect x="116.1" y="405.1" width="70.2" height="24.4" fill="#e6f1f5"/>
<rect x="185.7" y="405.1" width="70.2" height="24.4" fill="#d3e8f0"/>
<rect x="255.4" y="405.1" width="23.8" height="24.4" fill="#e6f1f5"/>
<rect x="278.6" y="405.1" width="47.0" height="24.4" fill="#f0c48c"/>
<rect x="325.0" y="405.1" width="23.8" height="24.4" fill="#e0a872"/>
<rect x="348.2" y="405.1" width="325.6" height="24.4" fill="#f0c48c"/>
<rect x="673.3" y="405.1" width="23.8" height="24.4" fill="#f6d5a4"/>
<rect x="0.0" y="428.9" width="116.7" height="24.4" fill="#d3e8f0"/>
<rect x="116.1" y="428.9" width="47.0" height="24.4" fill="#e6f1f5"/>
<rect x="162.5" y="428.9" width="93.5" height="24.4" fill="#d3e8f0"/>
<rect x="255.4" y="428.9" width="23.8" height="24.4" fill="#e6f1f5"/>
<rect x="278.6" y="428.9" width="418.5" height="24.4" fill="#f0c48c"/>
<rect x="0.0" y="452.8" width="256.0" height="24.4" fill="#d3e8f0"/>
<rect x="255.4" y="452.8" width="23.8" height="24.4" fill="#e6f1f5"/>
<rect x="278.6" y="452.8" width="418.5" height="24.4" fill="#f0c48c"/>
<path d="M446.7 59.6h12M452.7 53.6v12" stroke="#353d42" stroke-width="1.6"/>
<path d="M423.5 83.4h12M429.5 77.4v12" stroke="#353d42" stroke-width="1.6"/>
<path d="M446.7 83.4h12M452.7 77.4v12" stroke="#353d42" stroke-width="1.6"/>
<path d="M446.7 107.2h12M452.7 101.2v12" stroke="#353d42" stroke-width="1.6"/>
<path d="M446.7 131.1h12M452.7 125.1v12" stroke="#353d42" stroke-width="1.6"/>
<path d="M539.6 11.9h12M545.6 5.9v12" stroke="#353d42" stroke-width="1.6"/>
<path d="M562.8 11.9h12M568.8 5.9v12" stroke="#353d42" stroke-width="1.6"/>
<path d="M586.0 11.9h12M592.0 5.9v12" stroke="#353d42" stroke-width="1.6"/>
<path d="M609.2 11.9h12M615.2 5.9v12" stroke="#353d42" stroke-width="1.6"/>
<path d="M632.5 11.9h12M638.5 5.9v12" stroke="#353d42" stroke-width="1.6"/>
<path d="M655.7 11.9h12M661.7 5.9v12" stroke="#353d42" stroke-width="1.6"/>
<path d="M678.9 11.9h12M684.9 5.9v12" stroke="#353d42" stroke-width="1.6"/>
<path d="M516.4 35.7h12M522.4 29.7v12" stroke="#353d42" stroke-width="1.6"/>
<path d="M539.6 35.7h12M545.6 29.7v12" stroke="#353d42" stroke-width="1.6"/>
<path d="M562.8 35.7h12M568.8 29.7v12" stroke="#353d42" stroke-width="1.6"/>
<path d="M586.0 35.7h12M592.0 29.7v12" stroke="#353d42" stroke-width="1.6"/>
<path d="M609.2 35.7h12M615.2 29.7v12" stroke="#353d42" stroke-width="1.6"/>
<path d="M632.5 35.7h12M638.5 29.7v12" stroke="#353d42" stroke-width="1.6"/>
<path d="M655.7 35.7h12M661.7 29.7v12" stroke="#353d42" stroke-width="1.6"/>
<path d="M678.9 35.7h12M684.9 29.7v12" stroke="#353d42" stroke-width="1.6"/>
<path d="M469.9 59.6h12M475.9 53.6v12" stroke="#353d42" stroke-width="1.6"/>
<path d="M493.2 59.6h12M499.2 53.6v12" stroke="#353d42" stroke-width="1.6"/>
<path d="M516.4 59.6h12M522.4 53.6v12" stroke="#353d42" stroke-width="1.6"/>
<path d="M539.6 59.6h12M545.6 53.6v12" stroke="#353d42" stroke-width="1.6"/>
<path d="M562.8 59.6h12M568.8 53.6v12" stroke="#353d42" stroke-width="1.6"/>
<path d="M586.0 59.6h12M592.0 53.6v12" stroke="#353d42" stroke-width="1.6"/>
<path d="M609.2 59.6h12M615.2 53.6v12" stroke="#353d42" stroke-width="1.6"/>
<path d="M632.5 59.6h12M638.5 53.6v12" stroke="#353d42" stroke-width="1.6"/>
<path d="M655.7 59.6h12M661.7 53.6v12" stroke="#353d42" stroke-width="1.6"/>
<path d="M678.9 59.6h12M684.9 53.6v12" stroke="#353d42" stroke-width="1.6"/>
<path d="M469.9 83.4h12M475.9 77.4v12" stroke="#353d42" stroke-width="1.6"/>
<path d="M493.2 83.4h12M499.2 77.4v12" stroke="#353d42" stroke-width="1.6"/>
<path d="M516.4 83.4h12M522.4 77.4v12" stroke="#353d42" stroke-width="1.6"/>
<path d="M539.6 83.4h12M545.6 77.4v12" stroke="#353d42" stroke-width="1.6"/>
<path d="M562.8 83.4h12M568.8 77.4v12" stroke="#353d42" stroke-width="1.6"/>
<path d="M586.0 83.4h12M592.0 77.4v12" stroke="#353d42" stroke-width="1.6"/>
<path d="M609.2 83.4h12M615.2 77.4v12" stroke="#353d42" stroke-width="1.6"/>
<path d="M632.5 83.4h12M638.5 77.4v12" stroke="#353d42" stroke-width="1.6"/>
<path d="M655.7 83.4h12M661.7 77.4v12" stroke="#353d42" stroke-width="1.6"/>
<path d="M678.9 83.4h12M684.9 77.4v12" stroke="#353d42" stroke-width="1.6"/>
<path d="M516.4 107.2h12M522.4 101.2v12" stroke="#353d42" stroke-width="1.6"/>
<path d="M539.6 107.2h12M545.6 101.2v12" stroke="#353d42" stroke-width="1.6"/>
<path d="M562.8 107.2h12M568.8 101.2v12" stroke="#353d42" stroke-width="1.6"/>
<path d="M655.7 107.2h12M661.7 101.2v12" stroke="#353d42" stroke-width="1.6"/>
<path d="M678.9 107.2h12M684.9 101.2v12" stroke="#353d42" stroke-width="1.6"/>
<path d="M586.0 131.1h12M592.0 125.1v12" stroke="#353d42" stroke-width="1.6"/>
<path d="M609.2 131.1h12M615.2 125.1v12" stroke="#353d42" stroke-width="1.6"/>
<path d="M632.5 131.1h12M638.5 125.1v12" stroke="#353d42" stroke-width="1.6"/>
<path d="M586.0 154.9h12M592.0 148.9v12" stroke="#353d42" stroke-width="1.6"/>
<path d="M632.5 154.9h12M638.5 148.9v12" stroke="#353d42" stroke-width="1.6"/>
<path d="M609.2 178.7h12M615.2 172.7v12" stroke="#353d42" stroke-width="1.6"/>
<path d="M632.5 178.7h12M638.5 172.7v12" stroke="#353d42" stroke-width="1.6"/>
<path d="M655.7 178.7h12M661.7 172.7v12" stroke="#353d42" stroke-width="1.6"/>
<path d="M609.2 202.6h12M615.2 196.6v12" stroke="#353d42" stroke-width="1.6"/>
<path d="M632.5 202.6h12M638.5 196.6v12" stroke="#353d42" stroke-width="1.6"/>
<path d="M609.2 226.4h12M615.2 220.4v12" stroke="#353d42" stroke-width="1.6"/>
<path d="M632.5 226.4h12M638.5 220.4v12" stroke="#353d42" stroke-width="1.6"/>
<path d="M5.6 297.9h12M11.6 291.9v12" stroke="#353d42" stroke-width="1.6"/>
<path d="M28.8 297.9h12M34.8 291.9v12" stroke="#353d42" stroke-width="1.6"/>
<path d="M28.8 321.7h12M34.8 315.7v12" stroke="#353d42" stroke-width="1.6"/>
<path d="M5.6 345.5h12M11.6 339.5v12" stroke="#353d42" stroke-width="1.6"/>
<path d="M28.8 345.5h12M34.8 339.5v12" stroke="#353d42" stroke-width="1.6"/>
<path d="M168.1 274.0h12M174.1 268.0v12" stroke="#353d42" stroke-width="1.6"/>
<path d="M168.1 297.9h12M174.1 291.9v12" stroke="#353d42" stroke-width="1.6"/>
<path d="M168.1 369.4h12M174.1 363.4v12" stroke="#353d42" stroke-width="1.6"/>
<path d="M168.1 393.2h12M174.1 387.2v12" stroke="#353d42" stroke-width="1.6"/>
<path d="M539.6 369.4h12M545.6 363.4v12" stroke="#353d42" stroke-width="1.6"/>
<path d="M539.6 393.2h12M545.6 387.2v12" stroke="#353d42" stroke-width="1.6"/>
<path d="M539.6 417.0h12M545.6 411.0v12" stroke="#353d42" stroke-width="1.6"/>
<path d="M562.8 417.0h12M568.8 411.0v12" stroke="#353d42" stroke-width="1.6"/>
<path d="M586.0 417.0h12M592.0 411.0v12" stroke="#353d42" stroke-width="1.6"/>
<path d="M609.2 417.0h12M615.2 411.0v12" stroke="#353d42" stroke-width="1.6"/>
<path d="M655.7 417.0h12M661.7 411.0v12" stroke="#353d42" stroke-width="1.6"/>
<path d="M678.9 417.0h12M684.9 411.0v12" stroke="#353d42" stroke-width="1.6"/>
<path d="M562.8 440.9h12M568.8 434.9v12" stroke="#353d42" stroke-width="1.6"/>
<path d="M586.0 440.9h12M592.0 434.9v12" stroke="#353d42" stroke-width="1.6"/>
<path d="M609.2 440.9h12M615.2 434.9v12" stroke="#353d42" stroke-width="1.6"/>
<path d="M632.5 440.9h12M638.5 434.9v12" stroke="#353d42" stroke-width="1.6"/>
<path d="M655.7 440.9h12M661.7 434.9v12" stroke="#353d42" stroke-width="1.6"/>
<path d="M678.9 440.9h12M684.9 434.9v12" stroke="#353d42" stroke-width="1.6"/>
<path d="M586.0 464.7h12M592.0 458.7v12" stroke="#353d42" stroke-width="1.6"/>
<path d="M609.2 464.7h12M615.2 458.7v12" stroke="#353d42" stroke-width="1.6"/>
<use href="#bd"/>
<rect x="210.3" y="19.9" width="99.5" height="50" fill="#fff" fill-opacity="0.22"/>
<rect x="412.0" y="139.1" width="104.6" height="50" fill="#fff" fill-opacity="0.22"/>
<rect x="30.3" y="202.4" width="102.0" height="50" fill="#fff" fill-opacity="0.22"/>
<rect x="290.3" y="283.9" width="91.8" height="50" fill="#fff" fill-opacity="0.22"/>
<rect x="553.0" y="293.5" width="109.6" height="50" fill="#fff" fill-opacity="0.22"/>
<rect x="88.9" y="401.2" width="104.6" height="50" fill="#fff" fill-opacity="0.22"/>
<rect x="366.9" y="401.2" width="102.0" height="50" fill="#fff" fill-opacity="0.22"/>
<text x="260.0" y="62.9" font-size="46" text-anchor="middle">KAZ</text>
<text x="464.3" y="182.1" font-size="46" text-anchor="middle">KGZ</text>
<text x="81.3" y="245.4" font-size="46" text-anchor="middle">UZB</text>
<text x="336.2" y="326.9" font-size="46" text-anchor="middle">TJK</text>
<text x="607.8" y="336.5" font-size="46" text-anchor="middle">CHN</text>
<text x="141.2" y="444.2" font-size="46" text-anchor="middle">AFG</text>
<text x="417.9" y="444.2" font-size="46" text-anchor="middle">PAK</text>
</g>
<rect x="195.0" y="2416.4" width="696.5" height="476.6" fill="none" stroke="#111" stroke-width="3"/>
<path d="M179.0 2416.4H195.0M179.0 2464.1H195.0M179.0 2511.7H195.0M179.0 2559.4H195.0M179.0 2607.0H195.0M179.0 2654.7H195.0M179.0 2702.4H195.0M179.0 2750.0H195.0M179.0 2797.7H195.0M179.0 2845.3H195.0M179.0 2893.0H195.0M195.0 2893.0V2909.0M241.4 2893.0V2909.0M287.9 2893.0V2909.0M334.3 2893.0V2909.0M380.7 2893.0V2909.0M427.2 2893.0V2909.0M473.6 2893.0V2909.0M520.0 2893.0V2909.0M566.5 2893.0V2909.0M612.9 2893.0V2909.0M659.3 2893.0V2909.0M705.8 2893.0V2909.0M752.2 2893.0V2909.0M798.6 2893.0V2909.0M845.1 2893.0V2909.0M891.5 2893.0V2909.0" stroke="#1a1a1a" stroke-width="3"/>
<text x="157.5" y="2431.4" font-size="45.5" text-anchor="end">45</text>
<text x="157.5" y="2669.7" font-size="45.5" text-anchor="end">40</text>
<text x="157.5" y="2908.0" font-size="45.5" text-anchor="end">35</text>
<text x="195.0" y="2963.4" font-size="45.5" text-anchor="middle">65</text>
<text x="427.2" y="2963.4" font-size="45.5" text-anchor="middle">70</text>
<text x="659.3" y="2963.4" font-size="45.5" text-anchor="middle">75</text>
<text x="891.5" y="2963.4" font-size="45.5" text-anchor="middle">80</text>
<rect x="1099" y="2414.9" width="104" height="4.48" fill="#464797"/>
<rect x="1099" y="2418.9" width="104" height="4.48" fill="#454a9a"/>
<rect x="1099" y="2422.9" width="104" height="4.48" fill="#434d9d"/>
<rect x="1099" y="2426.8" width="104" height="4.48" fill="#4150a0"/>
<rect x="1099" y="2430.8" width="104" height="4.48" fill="#3f54a4"/>
<rect x="1099" y="2434.8" width="104" height="4.48" fill="#3e57a7"/>
<rect x="1099" y="2438.8" width="104" height="4.48" fill="#3c5aaa"/>
<rect x="1099" y="2442.8" width="104" height="4.48" fill="#3b5dac"/>
<rect x="1099" y="2446.8" width="104" height="4.48" fill="#3b5fae"/>
<rect x="1099" y="2450.7" width="104" height="4.48" fill="#3b62af"/>
<rect x="1099" y="2454.7" width="104" height="4.48" fill="#3a65b1"/>
<rect x="1099" y="2458.7" width="104" height="4.48" fill="#3a67b2"/>
<rect x="1099" y="2462.7" width="104" height="4.48" fill="#3a6ab3"/>
<rect x="1099" y="2466.7" width="104" height="4.48" fill="#3a6cb5"/>
<rect x="1099" y="2470.7" width="104" height="4.48" fill="#3c70b7"/>
<rect x="1099" y="2474.6" width="104" height="4.48" fill="#3f74ba"/>
<rect x="1099" y="2478.6" width="104" height="4.48" fill="#4178bd"/>
<rect x="1099" y="2482.6" width="104" height="4.48" fill="#447cc0"/>
<rect x="1099" y="2486.6" width="104" height="4.48" fill="#4780c3"/>
<rect x="1099" y="2490.6" width="104" height="4.48" fill="#4a84c6"/>
<rect x="1099" y="2494.6" width="104" height="4.48" fill="#4c88c9"/>
<rect x="1099" y="2498.5" width="104" height="4.48" fill="#4f8ccc"/>
<rect x="1099" y="2502.5" width="104" height="4.48" fill="#528fcf"/>
<rect x="1099" y="2506.5" width="104" height="4.48" fill="#5693d0"/>
<rect x="1099" y="2510.5" width="104" height="4.48" fill="#5b97d2"/>
<rect x="1099" y="2514.5" width="104" height="4.48" fill="#609bd3"/>
<rect x="1099" y="2518.5" width="104" height="4.48" fill="#649fd4"/>
<rect x="1099" y="2522.4" width="104" height="4.48" fill="#69a3d6"/>
<rect x="1099" y="2526.4" width="104" height="4.48" fill="#6ea7d7"/>
<rect x="1099" y="2530.4" width="104" height="4.48" fill="#73abd8"/>
<rect x="1099" y="2534.4" width="104" height="4.48" fill="#77afda"/>
<rect x="1099" y="2538.4" width="104" height="4.48" fill="#7cb3db"/>
<rect x="1099" y="2542.4" width="104" height="4.48" fill="#83b9dc"/>
<rect x="1099" y="2546.3" width="104" height="4.48" fill="#8bbedd"/>
<rect x="1099" y="2550.3" width="104" height="4.48" fill="#92c3de"/>
<rect x="1099" y="2554.3" width="104" height="4.48" fill="#99c9e0"/>
<rect x="1099" y="2558.3" width="104" height="4.48" fill="#9fcde1"/>
<rect x="1099" y="2562.3" width="104" height="4.48" fill="#a5d0e3"/>
<rect x="1099" y="2566.3" width="104" height="4.48" fill="#aad4e5"/>
<rect x="1099" y="2570.2" width="104" height="4.48" fill="#b0d7e7"/>
<rect x="1099" y="2574.2" width="104" height="4.48" fill="#b5dae8"/>
<rect x="1099" y="2578.2" width="104" height="4.48" fill="#badde9"/>
<rect x="1099" y="2582.2" width="104" height="4.48" fill="#bedfeb"/>
<rect x="1099" y="2586.2" width="104" height="4.48" fill="#c3e1ec"/>
<rect x="1099" y="2590.2" width="104" height="4.48" fill="#c8e3ed"/>
<rect x="1099" y="2594.1" width="104" height="4.48" fill="#cde6ee"/>
<rect x="1099" y="2598.1" width="104" height="4.48" fill="#d2e8ef"/>
<rect x="1099" y="2602.1" width="104" height="4.48" fill="#d6eaf0"/>
<rect x="1099" y="2606.1" width="104" height="4.48" fill="#d9ecf1"/>
<rect x="1099" y="2610.1" width="104" height="4.48" fill="#ddedf2"/>
<rect x="1099" y="2614.1" width="104" height="4.48" fill="#e0eff3"/>
<rect x="1099" y="2618.0" width="104" height="4.48" fill="#e4f1f4"/>
<rect x="1099" y="2622.0" width="104" height="4.48" fill="#e7f2f5"/>
<rect x="1099" y="2626.0" width="104" height="4.48" fill="#ebf4f6"/>
<rect x="1099" y="2630.0" width="104" height="4.48" fill="#eef6f7"/>
<rect x="1099" y="2634.0" width="104" height="4.48" fill="#f2f7f9"/>
<rect x="1099" y="2638.0" width="104" height="4.48" fill="#f6f9fb"/>
<rect x="1099" y="2641.9" width="104" height="4.48" fill="#f9fbfc"/>
<rect x="1099" y="2645.9" width="104" height="4.48" fill="#f8dcac"/>
<rect x="1099" y="2649.9" width="104" height="4.48" fill="#f7d8a8"/>
<rect x="1099" y="2653.9" width="104" height="4.48" fill="#f6d5a4"/>
<rect x="1099" y="2657.9" width="104" height="4.48" fill="#f5d2a0"/>
<rect x="1099" y="2661.9" width="104" height="4.48" fill="#f4cf9c"/>
<rect x="1099" y="2665.8" width="104" height="4.48" fill="#f3cc99"/>
<rect x="1099" y="2669.8" width="104" height="4.48" fill="#f2ca95"/>
<rect x="1099" y="2673.8" width="104" height="4.48" fill="#f1c792"/>
<rect x="1099" y="2677.8" width="104" height="4.48" fill="#efc58f"/>
<rect x="1099" y="2681.8" width="104" height="4.48" fill="#eec28c"/>
<rect x="1099" y="2685.8" width="104" height="4.48" fill="#ecbf88"/>
<rect x="1099" y="2689.7" width="104" height="4.48" fill="#ebbc84"/>
<rect x="1099" y="2693.7" width="104" height="4.48" fill="#e9b881"/>
<rect x="1099" y="2697.7" width="104" height="4.48" fill="#e8b57d"/>
<rect x="1099" y="2701.7" width="104" height="4.48" fill="#e5b279"/>
<rect x="1099" y="2705.7" width="104" height="4.48" fill="#e3ae75"/>
<rect x="1099" y="2709.7" width="104" height="4.48" fill="#e1aa71"/>
<rect x="1099" y="2713.6" width="104" height="4.48" fill="#dea76d"/>
<rect x="1099" y="2717.6" width="104" height="4.48" fill="#dda469"/>
<rect x="1099" y="2721.6" width="104" height="4.48" fill="#dba066"/>
<rect x="1099" y="2725.6" width="104" height="4.48" fill="#d99d62"/>
<rect x="1099" y="2729.6" width="104" height="4.48" fill="#d79a5e"/>
<rect x="1099" y="2733.6" width="104" height="4.48" fill="#d5975b"/>
<rect x="1099" y="2737.5" width="104" height="4.48" fill="#d29258"/>
<rect x="1099" y="2741.5" width="104" height="4.48" fill="#cf8e55"/>
<rect x="1099" y="2745.5" width="104" height="4.48" fill="#cb8a51"/>
<rect x="1099" y="2749.5" width="104" height="4.48" fill="#c8864e"/>
<rect x="1099" y="2753.5" width="104" height="4.48" fill="#c5834b"/>
<rect x="1099" y="2757.5" width="104" height="4.48" fill="#c27f47"/>
<rect x="1099" y="2761.4" width="104" height="4.48" fill="#be7b43"/>
<rect x="1099" y="2765.4" width="104" height="4.48" fill="#bb7840"/>
<rect x="1099" y="2769.4" width="104" height="4.48" fill="#b8743c"/>
<rect x="1099" y="2773.4" width="104" height="4.48" fill="#b47139"/>
<rect x="1099" y="2777.4" width="104" height="4.48" fill="#b16d36"/>
<rect x="1099" y="2781.4" width="104" height="4.48" fill="#ae6b34"/>
<rect x="1099" y="2785.3" width="104" height="4.48" fill="#ac6833"/>
<rect x="1099" y="2789.3" width="104" height="4.48" fill="#a96631"/>
<rect x="1099" y="2793.3" width="104" height="4.48" fill="#a66430"/>
<rect x="1099" y="2797.3" width="104" height="4.48" fill="#a4612e"/>
<rect x="1099" y="2801.3" width="104" height="4.48" fill="#a15f2c"/>
<rect x="1099" y="2805.3" width="104" height="4.48" fill="#9d5b2a"/>
<rect x="1099" y="2809.2" width="104" height="4.48" fill="#995727"/>
<rect x="1099" y="2813.2" width="104" height="4.48" fill="#955324"/>
<rect x="1099" y="2817.2" width="104" height="4.48" fill="#914f20"/>
<rect x="1099" y="2821.2" width="104" height="4.48" fill="#8e4b1e"/>
<rect x="1099" y="2825.2" width="104" height="4.48" fill="#90491e"/>
<rect x="1099" y="2829.2" width="104" height="4.48" fill="#92461e"/>
<rect x="1099" y="2833.1" width="104" height="4.48" fill="#94431e"/>
<rect x="1099" y="2837.1" width="104" height="4.48" fill="#96401e"/>
<rect x="1099" y="2841.1" width="104" height="4.48" fill="#963e1e"/>
<rect x="1099" y="2845.1" width="104" height="4.48" fill="#973a1f"/>
<rect x="1099" y="2849.1" width="104" height="4.48" fill="#98371f"/>
<rect x="1099" y="2853.1" width="104" height="4.48" fill="#98341f"/>
<rect x="1099" y="2857.0" width="104" height="4.48" fill="#99311f"/>
<rect x="1099" y="2861.0" width="104" height="4.48" fill="#9a2e20"/>
<rect x="1099" y="2865.0" width="104" height="4.48" fill="#9a2c20"/>
<rect x="1099" y="2869.0" width="104" height="4.48" fill="#972a1f"/>
<rect x="1099" y="2873.0" width="104" height="4.48" fill="#95291f"/>
<rect x="1099" y="2877.0" width="104" height="4.48" fill="#92271e"/>
<rect x="1099" y="2880.9" width="104" height="4.48" fill="#90261d"/>
<rect x="1099" y="2884.9" width="104" height="4.48" fill="#8d241d"/>
<rect x="1099" y="2888.9" width="104" height="4.48" fill="#8b231c"/>
<rect x="1099.5" y="2414.9" width="102" height="478.0" fill="none" stroke="#111" stroke-width="3"/>
<text x="1319" y="2481.3" font-size="45.5" text-anchor="end">10</text>
<text x="1319" y="2569.4" font-size="45.5" text-anchor="end">5</text>
<text x="1319" y="2657.5" font-size="45.5" text-anchor="end">0</text>
<text x="1319" y="2745.6" font-size="45.5" text-anchor="end">−5</text>
<text x="1319" y="2833.7" font-size="45.5" text-anchor="end">−10</text>
<path d="M1201 2469.8H1218M1201 2557.9H1218M1201 2646.0H1218M1201 2734.1H1218M1201 2822.2H1218" stroke="#1a1a1a" stroke-width="3"/>
<text x="543.2" y="3098.7" font-size="74" font-weight="bold" text-anchor="middle">Winter</text>
<text x="116" y="3099.2" font-size="45.5" font-style="italic">LAT</text>
<text x="938" y="3657.7" font-size="45.5" font-style="italic">LON</text>
<text x="1080" y="3112.7" font-size="45.5" font-style="italic">mm/decade</text>
<g transform="translate(195.00,3147.20)" clip-path="url(#mc)">
<rect x="0.0" y="0.0" width="47.0" height="24.4" fill="#f8fbfc"/>
<rect x="46.4" y="0.0" width="256.0" height="24.4" fill="#e6f1f5"/>
<rect x="301.8" y="0.0" width="23.8" height="24.4" fill="#d3e8f0"/>
<rect x="325.0" y="0.0" width="139.9" height="24.4" fill="#e6f1f5"/>
<rect x="464.3" y="0.0" width="232.8" height="24.4" fill="#d3e8f0"/>
<rect x="0.0" y="23.8" width="23.8" height="24.4" fill="#f8fbfc"/>
<rect x="23.2" y="23.8" width="163.1" height="24.4" fill="#e6f1f5"/>
<rect x="185.7" y="23.8" width="511.4" height="24.4" fill="#d3e8f0"/>
<rect x="0.0" y="47.7" width="23.8" height="24.4" fill="#f8fbfc"/>
<rect x="23.2" y="47.7" width="116.7" height="24.4" fill="#e6f1f5"/>
<rect x="139.3" y="47.7" width="557.8" height="24.4" fill="#d3e8f0"/>
<rect x="0.0" y="71.5" width="23.8" height="24.4" fill="#f8fbfc"/>
<rect x="23.2" y="71.5" width="93.5" height="24.4" fill="#e6f1f5"/>
<rect x="116.1" y="71.5" width="116.7" height="24.4" fill="#d3e8f0"/>
<rect x="232.2" y="71.5" width="47.0" height="24.4" fill="#bcdcea"/>
<rect x="278.6" y="71.5" width="418.5" height="24.4" fill="#d3e8f0"/>
<rect x="0.0" y="95.3" width="23.8" height="24.4" fill="#f8ddb2"/>
<rect x="23.2" y="95.3" width="23.8" height="24.4" fill="#f8fbfc"/>
<rect x="46.4" y="95.3" width="70.2" height="24.4" fill="#e6f1f5"/>
<rect x="116.1" y="95.3" width="70.2" height="24.4" fill="#d3e8f0"/>
<rect x="185.7" y="95.3" width="93.5" height="24.4" fill="#bcdcea"/>
<rect x="278.6" y="95.3" width="418.5" height="24.4" fill="#d3e8f0"/>
<rect x="0.0" y="119.2" width="23.8" height="24.4" fill="#f8fbfc"/>
<rect x="23.2" y="119.2" width="23.8" height="24.4" fill="#f8ddb2"/>
<rect x="46.4" y="119.2" width="70.2" height="24.4" fill="#e6f1f5"/>
<rect x="116.1" y="119.2" width="70.2" height="24.4" fill="#d3e8f0"/>
<rect x="185.7" y="119.2" width="70.2" height="24.4" fill="#bcdcea"/>
<rect x="255.4" y="119.2" width="116.7" height="24.4" fill="#d3e8f0"/>
<rect x="371.5" y="119.2" width="47.0" height="24.4" fill="#e6f1f5"/>
<rect x="417.9" y="119.2" width="279.2" height="24.4" fill="#d3e8f0"/>
<rect x="0.0" y="143.0" width="23.8" height="24.4" fill="#f8fbfc"/>
<rect x="23.2" y="143.0" width="93.5" height="24.4" fill="#e6f1f5"/>
<rect x="116.1" y="143.0" width="70.2" height="24.4" fill="#d3e8f0"/>
<rect x="185.7" y="143.0" width="70.2" height="24.4" fill="#bcdcea"/>
<rect x="255.4" y="143.0" width="116.7" height="24.4" fill="#d3e8f0"/>
<rect x="371.5" y="143.0" width="47.0" height="24.4" fill="#e6f1f5"/>
<rect x="417.9" y="143.0" width="279.2" height="24.4" fill="#d3e8f0"/>
<rect x="0.0" y="166.8" width="23.8" height="24.4" fill="#f8fbfc"/>
<rect x="23.2" y="166.8" width="70.2" height="24.4" fill="#e6f1f5"/>
<rect x="92.9" y="166.8" width="93.5" height="24.4" fill="#d3e8f0"/>
<rect x="185.7" y="166.8" width="23.8" height="24.4" fill="#bcdcea"/>
<rect x="208.9" y="166.8" width="23.8" height="24.4" fill="#a2cee4"/>
<rect x="232.2" y="166.8" width="23.8" height="24.4" fill="#86bbdf"/>
<rect x="255.4" y="166.8" width="23.8" height="24.4" fill="#bcdcea"/>
<rect x="278.6" y="166.8" width="93.5" height="24.4" fill="#d3e8f0"/>
<rect x="371.5" y="166.8" width="47.0" height="24.4" fill="#e6f1f5"/>
<rect x="417.9" y="166.8" width="209.5" height="24.4" fill="#d3e8f0"/>
<rect x="626.8" y="166.8" width="70.2" height="24.4" fill="#e6f1f5"/>
<rect x="0.0" y="190.6" width="23.8" height="24.4" fill="#f8fbfc"/>
<rect x="23.2" y="190.6" width="23.8" height="24.4" fill="#e6f1f5"/>
<rect x="46.4" y="190.6" width="116.7" height="24.4" fill="#d3e8f0"/>
<rect x="162.5" y="190.6" width="47.0" height="24.4" fill="#bcdcea"/>
<rect x="208.9" y="190.6" width="23.8" height="24.4" fill="#86bbdf"/>
<rect x="232.2" y="190.6" width="23.8" height="24.4" fill="#a2cee4"/>
<rect x="255.4" y="190.6" width="23.8" height="24.4" fill="#bcdcea"/>
<rect x="278.6" y="190.6" width="256.0" height="24.4" fill="#d3e8f0"/>
<rect x="534.0" y="190.6" width="93.5" height="24.4" fill="#e6f1f5"/>
<rect x="626.8" y="190.6" width="70.2" height="24.4" fill="#f8fbfc"/>
<rect x="0.0" y="214.5" width="23.8" height="24.4" fill="#f8fbfc"/>
<rect x="23.2" y="214.5" width="23.8" height="24.4" fill="#e6f1f5"/>
<rect x="46.4" y="214.5" width="70.2" height="24.4" fill="#d3e8f0"/>
<rect x="116.1" y="214.5" width="47.0" height="24.4" fill="#bcdcea"/>
<rect x="162.5" y="214.5" width="47.0" height="24.4" fill="#a2cee4"/>
<rect x="208.9" y="214.5" width="23.8" height="24.4" fill="#86bbdf"/>
<rect x="232.2" y="214.5" width="23.8" height="24.4" fill="#a2cee4"/>
<rect x="255.4" y="214.5" width="23.8" height="24.4" fill="#bcdcea"/>
<rect x="278.6" y="214.5" width="256.0" height="24.4" fill="#d3e8f0"/>
<rect x="534.0" y="214.5" width="70.2" height="24.4" fill="#e6f1f5"/>
<rect x="603.6" y="214.5" width="93.5" height="24.4" fill="#f8fbfc"/>
<rect x="0.0" y="238.3" width="93.5" height="24.4" fill="#d3e8f0"/>
<rect x="92.9" y="238.3" width="23.8" height="24.4" fill="#bcdcea"/>
<rect x="116.1" y="238.3" width="47.0" height="24.4" fill="#6ea9d9"/>
<rect x="162.5" y="238.3" width="47.0" height="24.4" fill="#5a98d3"/>
<rect x="208.9" y="238.3" width="23.8" height="24.4" fill="#6ea9d9"/>
<rect x="232.2" y="238.3" width="23.8" height="24.4" fill="#86bbdf"/>
<rect x="255.4" y="238.3" width="47.0" height="24.4" fill="#bcdcea"/>
<rect x="301.8" y="238.3" width="23.8" height="24.4" fill="#6ea9d9"/>
<rect x="325.0" y="238.3" width="47.0" height="24.4" fill="#a2cee4"/>
<rect x="371.5" y="238.3" width="47.0" height="24.4" fill="#d3e8f0"/>
<rect x="417.9" y="238.3" width="116.7" height="24.4" fill="#e6f1f5"/>
<rect x="534.0" y="238.3" width="47.0" height="24.4" fill="#f8fbfc"/>
<rect x="580.4" y="238.3" width="116.7" height="24.4" fill="#f8ddb2"/>
<rect x="0.0" y="262.1" width="23.8" height="24.4" fill="#d3e8f0"/>
<rect x="23.2" y="262.1" width="70.2" height="24.4" fill="#bcdcea"/>
<rect x="92.9" y="262.1" width="23.8" height="24.4" fill="#a2cee4"/>
<rect x="116.1" y="262.1" width="23.8" height="24.4" fill="#86bbdf"/>
<rect x="139.3" y="262.1" width="23.8" height="24.4" fill="#5a98d3"/>
<rect x="162.5" y="262.1" width="47.0" height="24.4" fill="#4a88cc"/>
<rect x="208.9" y="262.1" width="23.8" height="24.4" fill="#5a98d3"/>
<rect x="232.2" y="262.1" width="23.8" height="24.4" fill="#6ea9d9"/>
<rect x="255.4" y="262.1" width="47.0" height="24.4" fill="#bcdcea"/>
<rect x="301.8" y="262.1" width="47.0" height="24.4" fill="#86bbdf"/>
<rect x="348.2" y="262.1" width="23.8" height="24.4" fill="#bcdcea"/>
<rect x="371.5" y="262.1" width="47.0" height="24.4" fill="#d3e8f0"/>
<rect x="417.9" y="262.1" width="93.5" height="24.4" fill="#e6f1f5"/>
<rect x="510.8" y="262.1" width="47.0" height="24.4" fill="#f8fbfc"/>
<rect x="557.2" y="262.1" width="23.8" height="24.4" fill="#f6d5a4"/>
<rect x="580.4" y="262.1" width="116.7" height="24.4" fill="#f8ddb2"/>
<rect x="0.0" y="286.0" width="47.0" height="24.4" fill="#bcdcea"/>
<rect x="46.4" y="286.0" width="47.0" height="24.4" fill="#a2cee4"/>
<rect x="92.9" y="286.0" width="23.8" height="24.4" fill="#86bbdf"/>
<rect x="116.1" y="286.0" width="23.8" height="24.4" fill="#6ea9d9"/>
<rect x="139.3" y="286.0" width="23.8" height="24.4" fill="#5a98d3"/>
<rect x="162.5" y="286.0" width="23.8" height="24.4" fill="#3f78c0"/>
<rect x="185.7" y="286.0" width="23.8" height="24.4" fill="#3a6cb6"/>
<rect x="208.9" y="286.0" width="23.8" height="24.4" fill="#3f78c0"/>
<rect x="232.2" y="286.0" width="23.8" height="24.4" fill="#4a88cc"/>
<rect x="255.4" y="286.0" width="23.8" height="24.4" fill="#a2cee4"/>
<rect x="278.6" y="286.0" width="70.2" height="24.4" fill="#bcdcea"/>
<rect x="348.2" y="286.0" width="70.2" height="24.4" fill="#d3e8f0"/>
<rect x="417.9" y="286.0" width="70.2" height="24.4" fill="#e6f1f5"/>
<rect x="487.5" y="286.0" width="47.0" height="24.4" fill="#f8fbfc"/>
<rect x="534.0" y="286.0" width="163.1" height="24.4" fill="#f8ddb2"/>
<rect x="0.0" y="309.8" width="23.8" height="24.4" fill="#d3e8f0"/>
<rect x="23.2" y="309.8" width="23.8" height="24.4" fill="#bcdcea"/>
<rect x="46.4" y="309.8" width="47.0" height="24.4" fill="#a2cee4"/>
<rect x="92.9" y="309.8" width="47.0" height="24.4" fill="#86bbdf"/>
<rect x="139.3" y="309.8" width="23.8" height="24.4" fill="#6ea9d9"/>
<rect x="162.5" y="309.8" width="70.2" height="24.4" fill="#3f78c0"/>
<rect x="232.2" y="309.8" width="23.8" height="24.4" fill="#4a88cc"/>
<rect x="255.4" y="309.8" width="93.5" height="24.4" fill="#bcdcea"/>
<rect x="348.2" y="309.8" width="93.5" height="24.4" fill="#d3e8f0"/>
<rect x="441.1" y="309.8" width="23.8" height="24.4" fill="#e6f1f5"/>
<rect x="464.3" y="309.8" width="70.2" height="24.4" fill="#f8fbfc"/>
<rect x="534.0" y="309.8" width="163.1" height="24.4" fill="#f8ddb2"/>
<rect x="0.0" y="333.6" width="70.2" height="24.4" fill="#d3e8f0"/>
<rect x="69.6" y="333.6" width="47.0" height="24.4" fill="#bcdcea"/>
<rect x="116.1" y="333.6" width="23.8" height="24.4" fill="#a2cee4"/>
<rect x="139.3" y="333.6" width="23.8" height="24.4" fill="#6ea9d9"/>
<rect x="162.5" y="333.6" width="47.0" height="24.4" fill="#4a88cc"/>
<rect x="208.9" y="333.6" width="23.8" height="24.4" fill="#5a98d3"/>
<rect x="232.2" y="333.6" width="23.8" height="24.4" fill="#86bbdf"/>
<rect x="255.4" y="333.6" width="47.0" height="24.4" fill="#bcdcea"/>
<rect x="301.8" y="333.6" width="139.9" height="24.4" fill="#d3e8f0"/>
<rect x="441.1" y="333.6" width="23.8" height="24.4" fill="#e6f1f5"/>
<rect x="464.3" y="333.6" width="47.0" height="24.4" fill="#f8fbfc"/>
<rect x="510.8" y="333.6" width="186.3" height="24.4" fill="#f8ddb2"/>
<rect x="0.0" y="357.5" width="93.5" height="24.4" fill="#d3e8f0"/>
<rect x="92.9" y="357.5" width="47.0" height="24.4" fill="#bcdcea"/>
<rect x="139.3" y="357.5" width="23.8" height="24.4" fill="#a2cee4"/>
<rect x="162.5" y="357.5" width="70.2" height="24.4" fill="#6ea9d9"/>
<rect x="232.2" y="357.5" width="23.8" height="24.4" fill="#bcdcea"/>
<rect x="255.4" y="357.5" width="47.0" height="24.4" fill="#d3e8f0"/>
<rect x="301.8" y="357.5" width="163.1" height="24.4" fill="#e6f1f5"/>
<rect x="464.3" y="357.5" width="70.2" height="24.4" fill="#f8fbfc"/>
<rect x="534.0" y="357.5" width="23.8" height="24.4" fill="#f8ddb2"/>
<rect x="557.2" y="357.5" width="23.8" height="24.4" fill="#f8fbfc"/>
<rect x="580.4" y="357.5" width="116.7" height="24.4" fill="#f8ddb2"/>
<rect x="0.0" y="381.3" width="93.5" height="24.4" fill="#d3e8f0"/>
<rect x="92.9" y="381.3" width="23.8" height="24.4" fill="#bcdcea"/>
<rect x="116.1" y="381.3" width="47.0" height="24.4" fill="#a2cee4"/>
<rect x="162.5" y="381.3" width="47.0" height="24.4" fill="#86bbdf"/>
<rect x="208.9" y="381.3" width="23.8" height="24.4" fill="#bcdcea"/>
<rect x="232.2" y="381.3" width="23.8" height="24.4" fill="#d3e8f0"/>
<rect x="255.4" y="381.3" width="23.8" height="24.4" fill="#e6f1f5"/>
<rect x="278.6" y="381.3" width="23.8" height="24.4" fill="#f6d5a4"/>
<rect x="301.8" y="381.3" width="47.0" height="24.4" fill="#f0c48c"/>
<rect x="348.2" y="381.3" width="23.8" height="24.4" fill="#f6d5a4"/>
<rect x="371.5" y="381.3" width="23.8" height="24.4" fill="#f8ddb2"/>
<rect x="394.7" y="381.3" width="163.1" height="24.4" fill="#f8fbfc"/>
<rect x="557.2" y="381.3" width="47.0" height="24.4" fill="#f8ddb2"/>
<rect x="603.6" y="381.3" width="23.8" height="24.4" fill="#f8fbfc"/>
<rect x="626.8" y="381.3" width="70.2" height="24.4" fill="#f8ddb2"/>
<rect x="0.0" y="405.1" width="23.8" height="24.4" fill="#e6f1f5"/>
<rect x="23.2" y="405.1" width="47.0" height="24.4" fill="#d3e8f0"/>
<rect x="69.6" y="405.1" width="23.8" height="24.4" fill="#bcdcea"/>
<rect x="92.9" y="405.1" width="70.2" height="24.4" fill="#86bbdf"/>
<rect x="162.5" y="405.1" width="23.8" height="24.4" fill="#a2cee4"/>
<rect x="185.7" y="405.1" width="23.8" height="24.4" fill="#bcdcea"/>
<rect x="208.9" y="405.1" width="23.8" height="24.4" fill="#d3e8f0"/>
<rect x="232.2" y="405.1" width="47.0" height="24.4" fill="#f0c48c"/>
<rect x="278.6" y="405.1" width="93.5" height="24.4" fill="#e0a872"/>
<rect x="371.5" y="405.1" width="47.0" height="24.4" fill="#f0c48c"/>
<rect x="417.9" y="405.1" width="70.2" height="24.4" fill="#f6d5a4"/>
<rect x="487.5" y="405.1" width="23.8" height="24.4" fill="#f8fbfc"/>
<rect x="510.8" y="405.1" width="70.2" height="24.4" fill="#f8ddb2"/>
<rect x="580.4" y="405.1" width="93.5" height="24.4" fill="#f8fbfc"/>
<rect x="673.3" y="405.1" width="23.8" height="24.4" fill="#f8ddb2"/>
<rect x="0.0" y="428.9" width="23.8" height="24.4" fill="#e6f1f5"/>
<rect x="23.2" y="428.9" width="23.8" height="24.4" fill="#a2cee4"/>
<rect x="46.4" y="428.9" width="23.8" height="24.4" fill="#86bbdf"/>
<rect x="69.6" y="428.9" width="23.8" height="24.4" fill="#6ea9d9"/>
<rect x="92.9" y="428.9" width="23.8" height="24.4" fill="#86bbdf"/>
<rect x="116.1" y="428.9" width="23.8" height="24.4" fill="#a2cee4"/>
<rect x="139.3" y="428.9" width="47.0" height="24.4" fill="#bcdcea"/>
<rect x="185.7" y="428.9" width="23.8" height="24.4" fill="#d3e8f0"/>
<rect x="208.9" y="428.9" width="70.2" height="24.4" fill="#f0c48c"/>
<rect x="278.6" y="428.9" width="23.8" height="24.4" fill="#e0a872"/>
<rect x="301.8" y="428.9" width="47.0" height="24.4" fill="#d49458"/>
<rect x="348.2" y="428.9" width="23.8" height="24.4" fill="#e0a872"/>
<rect x="371.5" y="428.9" width="70.2" height="24.4" fill="#f0c48c"/>
<rect x="441.1" y="428.9" width="23.8" height="24.4" fill="#f6d5a4"/>
<rect x="464.3" y="428.9" width="47.0" height="24.4" fill="#f8fbfc"/>
<rect x="510.8" y="428.9" width="23.8" height="24.4" fill="#f8ddb2"/>
<rect x="534.0" y="428.9" width="23.8" height="24.4" fill="#f8fbfc"/>
<rect x="557.2" y="428.9" width="47.0" height="24.4" fill="#f8ddb2"/>
<rect x="603.6" y="428.9" width="47.0" height="24.4" fill="#f8fbfc"/>
<rect x="650.1" y="428.9" width="47.0" height="24.4" fill="#f8ddb2"/>
<rect x="0.0" y="452.8" width="23.8" height="24.4" fill="#d3e8f0"/>
<rect x="23.2" y="452.8" width="23.8" height="24.4" fill="#bcdcea"/>
<rect x="46.4" y="452.8" width="23.8" height="24.4" fill="#a2cee4"/>
<rect x="69.6" y="452.8" width="23.8" height="24.4" fill="#6ea9d9"/>
<rect x="92.9" y="452.8" width="93.5" height="24.4" fill="#bcdcea"/>
<rect x="185.7" y="452.8" width="23.8" height="24.4" fill="#d3e8f0"/>
<rect x="208.9" y="452.8" width="70.2" height="24.4" fill="#f0c48c"/>
<rect x="278.6" y="452.8" width="93.5" height="24.4" fill="#e0a872"/>
<rect x="371.5" y="452.8" width="70.2" height="24.4" fill="#f0c48c"/>
<rect x="441.1" y="452.8" width="70.2" height="24.4" fill="#f8fbfc"/>
<rect x="510.8" y="452.8" width="93.5" height="24.4" fill="#f8ddb2"/>
<rect x="603.6" y="452.8" width="47.0" height="24.4" fill="#f8fbfc"/>
<rect x="650.1" y="452.8" width="47.0" height="24.4" fill="#f8ddb2"/>
<path d="M121.7 226.4h12M127.7 220.4v12" stroke="#353d42" stroke-width="1.6"/>
<path d="M144.9 226.4h12M150.9 220.4v12" stroke="#353d42" stroke-width="1.6"/>
<path d="M168.1 226.4h12M174.1 220.4v12" stroke="#353d42" stroke-width="1.6"/>
<path d="M191.3 226.4h12M197.3 220.4v12" stroke="#353d42" stroke-width="1.6"/>
<path d="M214.6 202.6h12M220.6 196.6v12" stroke="#353d42" stroke-width="1.6"/>
<path d="M330.6 11.9h12M336.6 5.9v12" stroke="#353d42" stroke-width="1.6"/>
<path d="M353.9 11.9h12M359.9 5.9v12" stroke="#353d42" stroke-width="1.6"/>
<path d="M377.1 11.9h12M383.1 5.9v12" stroke="#353d42" stroke-width="1.6"/>
<path d="M400.3 11.9h12M406.3 5.9v12" stroke="#353d42" stroke-width="1.6"/>
<path d="M423.5 11.9h12M429.5 5.9v12" stroke="#353d42" stroke-width="1.6"/>
<path d="M446.7 11.9h12M452.7 5.9v12" stroke="#353d42" stroke-width="1.6"/>
<path d="M469.9 11.9h12M475.9 5.9v12" stroke="#353d42" stroke-width="1.6"/>
<path d="M493.2 11.9h12M499.2 5.9v12" stroke="#353d42" stroke-width="1.6"/>
<path d="M516.4 11.9h12M522.4 5.9v12" stroke="#353d42" stroke-width="1.6"/>
<path d="M539.6 11.9h12M545.6 5.9v12" stroke="#353d42" stroke-width="1.6"/>
<path d="M562.8 11.9h12M568.8 5.9v12" stroke="#353d42" stroke-width="1.6"/>
<path d="M586.0 11.9h12M592.0 5.9v12" stroke="#353d42" stroke-width="1.6"/>
<path d="M609.2 11.9h12M615.2 5.9v12" stroke="#353d42" stroke-width="1.6"/>
<path d="M632.5 11.9h12M638.5 5.9v12" stroke="#353d42" stroke-width="1.6"/>
<path d="M655.7 11.9h12M661.7 5.9v12" stroke="#353d42" stroke-width="1.6"/>
<path d="M678.9 11.9h12M684.9 5.9v12" stroke="#353d42" stroke-width="1.6"/>
<path d="M353.9 35.7h12M359.9 29.7v12" stroke="#353d42" stroke-width="1.6"/>
<path d="M377.1 35.7h12M383.1 29.7v12" stroke="#353d42" stroke-width="1.6"/>
<path d="M400.3 35.7h12M406.3 29.7v12" stroke="#353d42" stroke-width="1.6"/>
<path d="M423.5 35.7h12M429.5 29.7v12" stroke="#353d42" stroke-width="1.6"/>
<path d="M446.7 35.7h12M452.7 29.7v12" stroke="#353d42" stroke-width="1.6"/>
<path d="M469.9 35.7h12M475.9 29.7v12" stroke="#353d42" stroke-width="1.6"/>
<path d="M493.2 35.7h12M499.2 29.7v12" stroke="#353d42" stroke-width="1.6"/>
<path d="M539.6 35.7h12M545.6 29.7v12" stroke="#353d42" stroke-width="1.6"/>
<path d="M562.8 35.7h12M568.8 29.7v12" stroke="#353d42" stroke-width="1.6"/>
<path d="M586.0 35.7h12M592.0 29.7v12" stroke="#353d42" stroke-width="1.6"/>
<path d="M609.2 35.7h12M615.2 29.7v12" stroke="#353d42" stroke-width="1.6"/>
<path d="M632.5 35.7h12M638.5 29.7v12" stroke="#353d42" stroke-width="1.6"/>
<path d="M655.7 35.7h12M661.7 29.7v12" stroke="#353d42" stroke-width="1.6"/>
<path d="M678.9 35.7h12M684.9 29.7v12" stroke="#353d42" stroke-width="1.6"/>
<path d="M400.3 59.6h12M406.3 53.6v12" stroke="#353d42" stroke-width="1.6"/>
<path d="M423.5 59.6h12M429.5 53.6v12" stroke="#353d42" stroke-width="1.6"/>
<path d="M446.7 59.6h12M452.7 53.6v12" stroke="#353d42" stroke-width="1.6"/>
<path d="M469.9 59.6h12M475.9 53.6v12" stroke="#353d42" stroke-width="1.6"/>
<path d="M586.0 59.6h12M592.0 53.6v12" stroke="#353d42" stroke-width="1.6"/>
<path d="M609.2 59.6h12M615.2 53.6v12" stroke="#353d42" stroke-width="1.6"/>
<path d="M632.5 59.6h12M638.5 53.6v12" stroke="#353d42" stroke-width="1.6"/>
<path d="M655.7 59.6h12M661.7 53.6v12" stroke="#353d42" stroke-width="1.6"/>
<path d="M678.9 59.6h12M684.9 53.6v12" stroke="#353d42" stroke-width="1.6"/>
<path d="M423.5 83.4h12M429.5 77.4v12" stroke="#353d42" stroke-width="1.6"/>
<path d="M446.7 83.4h12M452.7 77.4v12" stroke="#353d42" stroke-width="1.6"/>
<path d="M469.9 83.4h12M475.9 77.4v12" stroke="#353d42" stroke-width="1.6"/>
<path d="M586.0 83.4h12M592.0 77.4v12" stroke="#353d42" stroke-width="1.6"/>
<path d="M609.2 83.4h12M615.2 77.4v12" stroke="#353d42" stroke-width="1.6"/>
<path d="M632.5 83.4h12M638.5 77.4v12" stroke="#353d42" stroke-width="1.6"/>
<path d="M655.7 83.4h12M661.7 77.4v12" stroke="#353d42" stroke-width="1.6"/>
<path d="M678.9 83.4h12M684.9 77.4v12" stroke="#353d42" stroke-width="1.6"/>
<path d="M423.5 107.2h12M429.5 101.2v12" stroke="#353d42" stroke-width="1.6"/>
<path d="M446.7 107.2h12M452.7 101.2v12" stroke="#353d42" stroke-width="1.6"/>
<path d="M469.9 107.2h12M475.9 101.2v12" stroke="#353d42" stroke-width="1.6"/>
<path d="M562.8 107.2h12M568.8 101.2v12" stroke="#353d42" stroke-width="1.6"/>
<path d="M586.0 107.2h12M592.0 101.2v12" stroke="#353d42" stroke-width="1.6"/>
<path d="M655.7 107.2h12M661.7 101.2v12" stroke="#353d42" stroke-width="1.6"/>
<path d="M678.9 107.2h12M684.9 101.2v12" stroke="#353d42" stroke-width="1.6"/>
<path d="M539.6 131.1h12M545.6 125.1v12" stroke="#353d42" stroke-width="1.6"/>
<path d="M562.8 131.1h12M568.8 125.1v12" stroke="#353d42" stroke-width="1.6"/>
<path d="M586.0 131.1h12M592.0 125.1v12" stroke="#353d42" stroke-width="1.6"/>
<path d="M609.2 131.1h12M615.2 125.1v12" stroke="#353d42" stroke-width="1.6"/>
<path d="M632.5 131.1h12M638.5 125.1v12" stroke="#353d42" stroke-width="1.6"/>
<path d="M655.7 131.1h12M661.7 125.1v12" stroke="#353d42" stroke-width="1.6"/>
<path d="M539.6 154.9h12M545.6 148.9v12" stroke="#353d42" stroke-width="1.6"/>
<path d="M562.8 154.9h12M568.8 148.9v12" stroke="#353d42" stroke-width="1.6"/>
<path d="M586.0 154.9h12M592.0 148.9v12" stroke="#353d42" stroke-width="1.6"/>
<path d="M609.2 154.9h12M615.2 148.9v12" stroke="#353d42" stroke-width="1.6"/>
<path d="M632.5 154.9h12M638.5 148.9v12" stroke="#353d42" stroke-width="1.6"/>
<path d="M609.2 178.7h12M615.2 172.7v12" stroke="#353d42" stroke-width="1.6"/>
<path d="M121.7 250.2h12M127.7 244.2v12" stroke="#353d42" stroke-width="1.6"/>
<path d="M144.9 250.2h12M150.9 244.2v12" stroke="#353d42" stroke-width="1.6"/>
<path d="M28.8 274.0h12M34.8 268.0v12" stroke="#353d42" stroke-width="1.6"/>
<path d="M52.0 274.0h12M58.0 268.0v12" stroke="#353d42" stroke-width="1.6"/>
<path d="M98.5 274.0h12M104.5 268.0v12" stroke="#353d42" stroke-width="1.6"/>
<path d="M121.7 274.0h12M127.7 268.0v12" stroke="#353d42" stroke-width="1.6"/>
<path d="M144.9 274.0h12M150.9 268.0v12" stroke="#353d42" stroke-width="1.6"/>
<path d="M168.1 274.0h12M174.1 268.0v12" stroke="#353d42" stroke-width="1.6"/>
<path d="M191.3 274.0h12M197.3 268.0v12" stroke="#353d42" stroke-width="1.6"/>
<path d="M5.6 297.9h12M11.6 291.9v12" stroke="#353d42" stroke-width="1.6"/>
<path d="M28.8 297.9h12M34.8 291.9v12" stroke="#353d42" stroke-width="1.6"/>
<path d="M52.0 297.9h12M58.0 291.9v12" stroke="#353d42" stroke-width="1.6"/>
<path d="M75.3 297.9h12M81.3 291.9v12" stroke="#353d42" stroke-width="1.6"/>
<path d="M98.5 297.9h12M104.5 291.9v12" stroke="#353d42" stroke-width="1.6"/>
<path d="M121.7 297.9h12M127.7 291.9v12" stroke="#353d42" stroke-width="1.6"/>
<path d="M144.9 297.9h12M150.9 291.9v12" stroke="#353d42" stroke-width="1.6"/>
<path d="M168.1 297.9h12M174.1 291.9v12" stroke="#353d42" stroke-width="1.6"/>
<path d="M191.3 297.9h12M197.3 291.9v12" stroke="#353d42" stroke-width="1.6"/>
<path d="M214.6 297.9h12M220.6 291.9v12" stroke="#353d42" stroke-width="1.6"/>
<path d="M28.8 321.7h12M34.8 315.7v12" stroke="#353d42" stroke-width="1.6"/>
<path d="M52.0 321.7h12M58.0 315.7v12" stroke="#353d42" stroke-width="1.6"/>
<path d="M75.3 321.7h12M81.3 315.7v12" stroke="#353d42" stroke-width="1.6"/>
<path d="M121.7 321.7h12M127.7 315.7v12" stroke="#353d42" stroke-width="1.6"/>
<path d="M168.1 321.7h12M174.1 315.7v12" stroke="#353d42" stroke-width="1.6"/>
<path d="M191.3 321.7h12M197.3 315.7v12" stroke="#353d42" stroke-width="1.6"/>
<path d="M214.6 321.7h12M220.6 315.7v12" stroke="#353d42" stroke-width="1.6"/>
<path d="M121.7 345.5h12M127.7 339.5v12" stroke="#353d42" stroke-width="1.6"/>
<path d="M168.1 345.5h12M174.1 339.5v12" stroke="#353d42" stroke-width="1.6"/>
<path d="M191.3 345.5h12M197.3 339.5v12" stroke="#353d42" stroke-width="1.6"/>
<path d="M214.6 345.5h12M220.6 339.5v12" stroke="#353d42" stroke-width="1.6"/>
<path d="M98.5 369.4h12M104.5 363.4v12" stroke="#353d42" stroke-width="1.6"/>
<path d="M121.7 369.4h12M127.7 363.4v12" stroke="#353d42" stroke-width="1.6"/>
<path d="M144.9 369.4h12M150.9 363.4v12" stroke="#353d42" stroke-width="1.6"/>
<path d="M168.1 369.4h12M174.1 363.4v12" stroke="#353d42" stroke-width="1.6"/>
<path d="M191.3 369.4h12M197.3 363.4v12" stroke="#353d42" stroke-width="1.6"/>
<path d="M214.6 369.4h12M220.6 363.4v12" stroke="#353d42" stroke-width="1.6"/>
<path d="M98.5 393.2h12M104.5 387.2v12" stroke="#353d42" stroke-width="1.6"/>
<path d="M121.7 393.2h12M127.7 387.2v12" stroke="#353d42" stroke-width="1.6"/>
<path d="M144.9 393.2h12M150.9 387.2v12" stroke="#353d42" stroke-width="1.6"/>
<path d="M168.1 393.2h12M174.1 387.2v12" stroke="#353d42" stroke-width="1.6"/>
<path d="M191.3 393.2h12M197.3 387.2v12" stroke="#353d42" stroke-width="1.6"/>
<path d="M98.5 417.0h12M104.5 411.0v12" stroke="#353d42" stroke-width="1.6"/>
<path d="M121.7 417.0h12M127.7 411.0v12" stroke="#353d42" stroke-width="1.6"/>
<path d="M144.9 417.0h12M150.9 411.0v12" stroke="#353d42" stroke-width="1.6"/>
<path d="M168.1 417.0h12M174.1 411.0v12" stroke="#353d42" stroke-width="1.6"/>
<path d="M75.3 440.9h12M81.3 434.9v12" stroke="#353d42" stroke-width="1.6"/>
<path d="M98.5 440.9h12M104.5 434.9v12" stroke="#353d42" stroke-width="1.6"/>
<path d="M75.3 464.7h12M81.3 458.7v12" stroke="#353d42" stroke-width="1.6"/>
<path d="M237.8 297.9h12M243.8 291.9v12" stroke="#353d42" stroke-width="1.6"/>
<path d="M237.8 321.7h12M243.8 315.7v12" stroke="#353d42" stroke-width="1.6"/>
<use href="#bd"/>
<rect x="210.3" y="19.9" width="99.5" height="50" fill="#fff" fill-opacity="0.22"/>
<rect x="412.0" y="139.1" width="104.6" height="50" fill="#fff" fill-opacity="0.22"/>
<rect x="18.6" y="202.0" width="102.0" height="50" fill="#fff" fill-opacity="0.22"/>
<rect x="290.3" y="283.9" width="91.8" height="50" fill="#fff" fill-opacity="0.22"/>
<rect x="553.0" y="293.5" width="109.6" height="50" fill="#fff" fill-opacity="0.22"/>
<rect x="178.5" y="400.7" width="104.6" height="50" fill="#fff" fill-opacity="0.22"/>
<rect x="366.9" y="401.2" width="102.0" height="50" fill="#fff" fill-opacity="0.22"/>
<text x="260.0" y="62.9" font-size="46" text-anchor="middle">KAZ</text>
<text x="464.3" y="182.1" font-size="46" text-anchor="middle">KGZ</text>
<text x="69.6" y="245.0" font-size="46" text-anchor="middle">UZB</text>
<text x="336.2" y="326.9" font-size="46" text-anchor="middle">TJK</text>
<text x="607.8" y="336.5" font-size="46" text-anchor="middle">CHN</text>
<text x="230.8" y="443.7" font-size="46" text-anchor="middle">AFG</text>
<text x="417.9" y="444.2" font-size="46" text-anchor="middle">PAK</text>
</g>
<rect x="195.0" y="3147.2" width="696.5" height="476.6" fill="none" stroke="#111" stroke-width="3"/>
<path d="M179.0 3147.2H195.0M179.0 3194.9H195.0M179.0 3242.5H195.0M179.0 3290.2H195.0M179.0 3337.8H195.0M179.0 3385.5H195.0M179.0 3433.2H195.0M179.0 3480.8H195.0M179.0 3528.5H195.0M179.0 3576.1H195.0M179.0 3623.8H195.0M195.0 3623.8V3639.8M241.4 3623.8V3639.8M287.9 3623.8V3639.8M334.3 3623.8V3639.8M380.7 3623.8V3639.8M427.2 3623.8V3639.8M473.6 3623.8V3639.8M520.0 3623.8V3639.8M566.5 3623.8V3639.8M612.9 3623.8V3639.8M659.3 3623.8V3639.8M705.8 3623.8V3639.8M752.2 3623.8V3639.8M798.6 3623.8V3639.8M845.1 3623.8V3639.8M891.5 3623.8V3639.8" stroke="#1a1a1a" stroke-width="3"/>
<text x="157.5" y="3162.2" font-size="45.5" text-anchor="end">45</text>
<text x="157.5" y="3400.5" font-size="45.5" text-anchor="end">40</text>
<text x="157.5" y="3638.8" font-size="45.5" text-anchor="end">35</text>
<text x="195.0" y="3694.2" font-size="45.5" text-anchor="middle">65</text>
<text x="427.2" y="3694.2" font-size="45.5" text-anchor="middle">70</text>
<text x="659.3" y="3694.2" font-size="45.5" text-anchor="middle">75</text>
<text x="891.5" y="3694.2" font-size="45.5" text-anchor="middle">80</text>
<rect x="1099" y="3145.7" width="104" height="4.48" fill="#464797"/>
<rect x="1099" y="3149.7" width="104" height="4.48" fill="#454a9a"/>
<rect x="1099" y="3153.7" width="104" height="4.48" fill="#434d9d"/>
<rect x="1099" y="3157.6" width="104" height="4.48" fill="#4150a0"/>
<rect x="1099" y="3161.6" width="104" height="4.48" fill="#3f54a4"/>
<rect x="1099" y="3165.6" width="104" height="4.48" fill="#3e57a7"/>
<rect x="1099" y="3169.6" width="104" height="4.48" fill="#3c5aaa"/>
<rect x="1099" y="3173.6" width="104" height="4.48" fill="#3b5dac"/>
<rect x="1099" y="3177.6" width="104" height="4.48" fill="#3b5fae"/>
<rect x="1099" y="3181.5" width="104" height="4.48" fill="#3b62af"/>
<rect x="1099" y="3185.5" width="104" height="4.48" fill="#3a65b1"/>
<rect x="1099" y="3189.5" width="104" height="4.48" fill="#3a67b2"/>
<rect x="1099" y="3193.5" width="104" height="4.48" fill="#3a6ab3"/>
<rect x="1099" y="3197.5" width="104" height="4.48" fill="#3a6cb5"/>
<rect x="1099" y="3201.5" width="104" height="4.48" fill="#3c70b7"/>
<rect x="1099" y="3205.4" width="104" height="4.48" fill="#3f74ba"/>
<rect x="1099" y="3209.4" width="104" height="4.48" fill="#4178bd"/>
<rect x="1099" y="3213.4" width="104" height="4.48" fill="#447cc0"/>
<rect x="1099" y="3217.4" width="104" height="4.48" fill="#4780c3"/>
<rect x="1099" y="3221.4" width="104" height="4.48" fill="#4a84c6"/>
<rect x="1099" y="3225.4" width="104" height="4.48" fill="#4c88c9"/>
<rect x="1099" y="3229.3" width="104" height="4.48" fill="#4f8ccc"/>
<rect x="1099" y="3233.3" width="104" height="4.48" fill="#528fcf"/>
<rect x="1099" y="3237.3" width="104" height="4.48" fill="#5693d0"/>
<rect x="1099" y="3241.3" width="104" height="4.48" fill="#5b97d2"/>
<rect x="1099" y="3245.3" width="104" height="4.48" fill="#609bd3"/>
<rect x="1099" y="3249.3" width="104" height="4.48" fill="#649fd4"/>
<rect x="1099" y="3253.2" width="104" height="4.48" fill="#69a3d6"/>
<rect x="1099" y="3257.2" width="104" height="4.48" fill="#6ea7d7"/>
<rect x="1099" y="3261.2" width="104" height="4.48" fill="#73abd8"/>
<rect x="1099" y="3265.2" width="104" height="4.48" fill="#77afda"/>
<rect x="1099" y="3269.2" width="104" height="4.48" fill="#7cb3db"/>
<rect x="1099" y="3273.2" width="104" height="4.48" fill="#83b9dc"/>
<rect x="1099" y="3277.1" width="104" height="4.48" fill="#8bbedd"/>
<rect x="1099" y="3281.1" width="104" height="4.48" fill="#92c3de"/>
<rect x="1099" y="3285.1" width="104" height="4.48" fill="#99c9e0"/>
<rect x="1099" y="3289.1" width="104" height="4.48" fill="#9fcde1"/>
<rect x="1099" y="3293.1" width="104" height="4.48" fill="#a5d0e3"/>
<rect x="1099" y="3297.1" width="104" height="4.48" fill="#aad4e5"/>
<rect x="1099" y="3301.0" width="104" height="4.48" fill="#b0d7e7"/>
<rect x="1099" y="3305.0" width="104" height="4.48" fill="#b5dae8"/>
<rect x="1099" y="3309.0" width="104" height="4.48" fill="#badde9"/>
<rect x="1099" y="3313.0" width="104" height="4.48" fill="#bedfeb"/>
<rect x="1099" y="3317.0" width="104" height="4.48" fill="#c3e1ec"/>
<rect x="1099" y="3321.0" width="104" height="4.48" fill="#c8e3ed"/>
<rect x="1099" y="3324.9" width="104" height="4.48" fill="#cde6ee"/>
<rect x="1099" y="3328.9" width="104" height="4.48" fill="#d2e8ef"/>
<rect x="1099" y="3332.9" width="104" height="4.48" fill="#d6eaf0"/>
<rect x="1099" y="3336.9" width="104" height="4.48" fill="#d9ecf1"/>
<rect x="1099" y="3340.9" width="104" height="4.48" fill="#ddedf2"/>
<rect x="1099" y="3344.9" width="104" height="4.48" fill="#e0eff3"/>
<rect x="1099" y="3348.8" width="104" height="4.48" fill="#e4f1f4"/>
<rect x="1099" y="3352.8" width="104" height="4.48" fill="#e7f2f5"/>
<rect x="1099" y="3356.8" width="104" height="4.48" fill="#ebf4f6"/>
<rect x="1099" y="3360.8" width="104" height="4.48" fill="#eef6f7"/>
<rect x="1099" y="3364.8" width="104" height="4.48" fill="#f2f7f9"/>
<rect x="1099" y="3368.8" width="104" height="4.48" fill="#f6f9fb"/>
<rect x="1099" y="3372.8" width="104" height="4.48" fill="#f9fbfc"/>
<rect x="1099" y="3376.7" width="104" height="4.48" fill="#f8dcac"/>
<rect x="1099" y="3380.7" width="104" height="4.48" fill="#f7d8a8"/>
<rect x="1099" y="3384.7" width="104" height="4.48" fill="#f6d5a4"/>
<rect x="1099" y="3388.7" width="104" height="4.48" fill="#f5d2a0"/>
<rect x="1099" y="3392.7" width="104" height="4.48" fill="#f4cf9c"/>
<rect x="1099" y="3396.6" width="104" height="4.48" fill="#f3cc99"/>
<rect x="1099" y="3400.6" width="104" height="4.48" fill="#f2ca95"/>
<rect x="1099" y="3404.6" width="104" height="4.48" fill="#f1c792"/>
<rect x="1099" y="3408.6" width="104" height="4.48" fill="#efc58f"/>
<rect x="1099" y="3412.6" width="104" height="4.48" fill="#eec28c"/>
<rect x="1099" y="3416.6" width="104" height="4.48" fill="#ecbf88"/>
<rect x="1099" y="3420.5" width="104" height="4.48" fill="#ebbc84"/>
<rect x="1099" y="3424.5" width="104" height="4.48" fill="#e9b881"/>
<rect x="1099" y="3428.5" width="104" height="4.48" fill="#e8b57d"/>
<rect x="1099" y="3432.5" width="104" height="4.48" fill="#e5b279"/>
<rect x="1099" y="3436.5" width="104" height="4.48" fill="#e3ae75"/>
<rect x="1099" y="3440.5" width="104" height="4.48" fill="#e1aa71"/>
<rect x="1099" y="3444.4" width="104" height="4.48" fill="#dea76d"/>
<rect x="1099" y="3448.4" width="104" height="4.48" fill="#dda469"/>
<rect x="1099" y="3452.4" width="104" height="4.48" fill="#dba066"/>
<rect x="1099" y="3456.4" width="104" height="4.48" fill="#d99d62"/>
<rect x="1099" y="3460.4" width="104" height="4.48" fill="#d79a5e"/>
<rect x="1099" y="3464.4" width="104" height="4.48" fill="#d5975b"/>
<rect x="1099" y="3468.3" width="104" height="4.48" fill="#d29258"/>
<rect x="1099" y="3472.3" width="104" height="4.48" fill="#cf8e55"/>
<rect x="1099" y="3476.3" width="104" height="4.48" fill="#cb8a51"/>
<rect x="1099" y="3480.3" width="104" height="4.48" fill="#c8864e"/>
<rect x="1099" y="3484.3" width="104" height="4.48" fill="#c5834b"/>
<rect x="1099" y="3488.3" width="104" height="4.48" fill="#c27f47"/>
<rect x="1099" y="3492.2" width="104" height="4.48" fill="#be7b43"/>
<rect x="1099" y="3496.2" width="104" height="4.48" fill="#bb7840"/>
<rect x="1099" y="3500.2" width="104" height="4.48" fill="#b8743c"/>
<rect x="1099" y="3504.2" width="104" height="4.48" fill="#b47139"/>
<rect x="1099" y="3508.2" width="104" height="4.48" fill="#b16d36"/>
<rect x="1099" y="3512.2" width="104" height="4.48" fill="#ae6b34"/>
<rect x="1099" y="3516.1" width="104" height="4.48" fill="#ac6833"/>
<rect x="1099" y="3520.1" width="104" height="4.48" fill="#a96631"/>
<rect x="1099" y="3524.1" width="104" height="4.48" fill="#a66430"/>
<rect x="1099" y="3528.1" width="104" height="4.48" fill="#a4612e"/>
<rect x="1099" y="3532.1" width="104" height="4.48" fill="#a15f2c"/>
<rect x="1099" y="3536.1" width="104" height="4.48" fill="#9d5b2a"/>
<rect x="1099" y="3540.0" width="104" height="4.48" fill="#995727"/>
<rect x="1099" y="3544.0" width="104" height="4.48" fill="#955324"/>
<rect x="1099" y="3548.0" width="104" height="4.48" fill="#914f20"/>
<rect x="1099" y="3552.0" width="104" height="4.48" fill="#8e4b1e"/>
<rect x="1099" y="3556.0" width="104" height="4.48" fill="#90491e"/>
<rect x="1099" y="3560.0" width="104" height="4.48" fill="#92461e"/>
<rect x="1099" y="3563.9" width="104" height="4.48" fill="#94431e"/>
<rect x="1099" y="3567.9" width="104" height="4.48" fill="#96401e"/>
<rect x="1099" y="3571.9" width="104" height="4.48" fill="#963e1e"/>
<rect x="1099" y="3575.9" width="104" height="4.48" fill="#973a1f"/>
<rect x="1099" y="3579.9" width="104" height="4.48" fill="#98371f"/>
<rect x="1099" y="3583.9" width="104" height="4.48" fill="#98341f"/>
<rect x="1099" y="3587.8" width="104" height="4.48" fill="#99311f"/>
<rect x="1099" y="3591.8" width="104" height="4.48" fill="#9a2e20"/>
<rect x="1099" y="3595.8" width="104" height="4.48" fill="#9a2c20"/>
<rect x="1099" y="3599.8" width="104" height="4.48" fill="#972a1f"/>
<rect x="1099" y="3603.8" width="104" height="4.48" fill="#95291f"/>
<rect x="1099" y="3607.8" width="104" height="4.48" fill="#92271e"/>
<rect x="1099" y="3611.8" width="104" height="4.48" fill="#90261d"/>
<rect x="1099" y="3615.7" width="104" height="4.48" fill="#8d241d"/>
<rect x="1099" y="3619.7" width="104" height="4.48" fill="#8b231c"/>
<rect x="1099.5" y="3145.7" width="102" height="478.0" fill="none" stroke="#111" stroke-width="3"/>
<text x="1319" y="3212.1" font-size="45.5" text-anchor="end">10</text>
<text x="1319" y="3300.2" font-size="45.5" text-anchor="end">5</text>
<text x="1319" y="3388.3" font-size="45.5" text-anchor="end">0</text>
<text x="1319" y="3476.4" font-size="45.5" text-anchor="end">−5</text>
<text x="1319" y="3564.5" font-size="45.5" text-anchor="end">−10</text>
<path d="M1201 3200.6H1218M1201 3288.7H1218M1201 3376.8H1218M1201 3464.9H1218M1201 3553.0H1218" stroke="#1a1a1a" stroke-width="3"/>
</svg></body></html>
